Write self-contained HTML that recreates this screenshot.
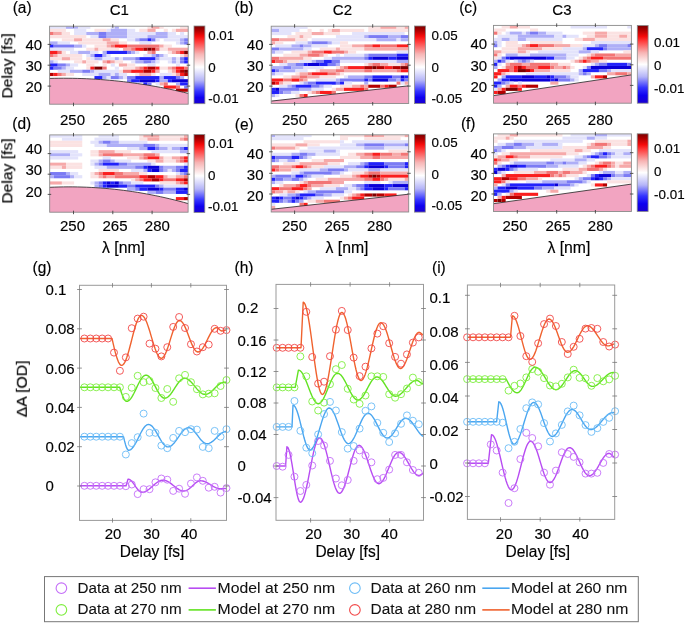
<!DOCTYPE html>
<html><head><meta charset="utf-8"><style>
html,body{margin:0;padding:0;background:#fff;}
body{width:685px;height:624px;overflow:hidden;}
svg{display:block;}
*{-webkit-font-smoothing:antialiased;}
svg text{will-change:transform;stroke:#000;stroke-width:0.16px;}
svg text.lg{stroke-width:0.08px;fill:#111;}
</style></head><body>
<svg width="685" height="624" viewBox="0 0 685 624" font-family='"Liberation Sans", sans-serif' fill="#000"><rect width="685" height="624" fill="#ffffff"/><clipPath id="hc0"><rect x="49.6" y="26.2" width="138.6" height="78.0"/></clipPath><g clip-path="url(#hc0)"><g><rect x="47.6" y="24.2" width="142.6" height="82.0" fill="#fff"/><rect x="49.60" y="26.20" width="16.31" height="2.60" fill="#e3e3fb"/><rect x="65.91" y="26.20" width="12.23" height="2.60" fill="#aeaef7"/><rect x="78.14" y="26.20" width="12.23" height="2.60" fill="#e3e3fb"/><rect x="110.75" y="26.20" width="4.08" height="2.60" fill="#e3e3fb"/><rect x="114.82" y="26.20" width="4.08" height="2.60" fill="#aeaef7"/><rect x="147.44" y="26.20" width="4.08" height="2.60" fill="#fbe2e2"/><rect x="151.51" y="26.20" width="8.15" height="2.60" fill="#f6a9a9"/><rect x="159.66" y="26.20" width="4.08" height="2.60" fill="#fbe2e2"/><rect x="180.05" y="26.20" width="8.15" height="2.60" fill="#fbe2e2"/><rect x="49.60" y="28.80" width="16.31" height="3.15" fill="#fbe2e2"/><rect x="74.06" y="28.80" width="12.23" height="3.15" fill="#e3e3fb"/><rect x="94.44" y="28.80" width="12.23" height="3.15" fill="#fbe2e2"/><rect x="106.67" y="28.80" width="4.08" height="3.15" fill="#e3e3fb"/><rect x="110.75" y="28.80" width="16.31" height="3.15" fill="#aeaef7"/><rect x="127.05" y="28.80" width="8.15" height="3.15" fill="#e3e3fb"/><rect x="139.28" y="28.80" width="8.15" height="3.15" fill="#fbe2e2"/><rect x="147.44" y="28.80" width="8.15" height="3.15" fill="#f6a9a9"/><rect x="163.74" y="28.80" width="4.08" height="3.15" fill="#fbe2e2"/><rect x="171.89" y="28.80" width="4.08" height="3.15" fill="#fbe2e2"/><rect x="175.97" y="28.80" width="12.23" height="3.15" fill="#f6a9a9"/><rect x="49.60" y="31.95" width="4.08" height="3.15" fill="#f27575"/><rect x="53.68" y="31.95" width="8.15" height="3.15" fill="#f6a9a9"/><rect x="61.83" y="31.95" width="8.15" height="3.15" fill="#fbe2e2"/><rect x="74.06" y="31.95" width="12.23" height="3.15" fill="#e3e3fb"/><rect x="86.29" y="31.95" width="12.23" height="3.15" fill="#aeaef7"/><rect x="98.52" y="31.95" width="8.15" height="3.15" fill="#7b7bf4"/><rect x="106.67" y="31.95" width="20.38" height="3.15" fill="#aeaef7"/><rect x="127.05" y="31.95" width="28.54" height="3.15" fill="#e3e3fb"/><rect x="155.59" y="31.95" width="12.23" height="3.15" fill="#aeaef7"/><rect x="167.82" y="31.95" width="8.15" height="3.15" fill="#e3e3fb"/><rect x="180.05" y="31.95" width="4.08" height="3.15" fill="#e3e3fb"/><rect x="49.60" y="35.10" width="36.69" height="3.15" fill="#fbe2e2"/><rect x="90.36" y="35.10" width="8.15" height="3.15" fill="#e3e3fb"/><rect x="98.52" y="35.10" width="8.15" height="3.15" fill="#7b7bf4"/><rect x="106.67" y="35.10" width="20.38" height="3.15" fill="#aeaef7"/><rect x="127.05" y="35.10" width="20.38" height="3.15" fill="#e3e3fb"/><rect x="147.44" y="35.10" width="20.38" height="3.15" fill="#aeaef7"/><rect x="167.82" y="35.10" width="20.38" height="3.15" fill="#e3e3fb"/><rect x="61.83" y="38.25" width="12.23" height="3.15" fill="#fbe2e2"/><rect x="74.06" y="38.25" width="8.15" height="3.15" fill="#f6a9a9"/><rect x="82.21" y="38.25" width="20.38" height="3.15" fill="#fbe2e2"/><rect x="102.59" y="38.25" width="8.15" height="3.15" fill="#f6a9a9"/><rect x="110.75" y="38.25" width="8.15" height="3.15" fill="#fbe2e2"/><rect x="127.05" y="38.25" width="8.15" height="3.15" fill="#e3e3fb"/><rect x="135.21" y="38.25" width="4.08" height="3.15" fill="#aeaef7"/><rect x="139.28" y="38.25" width="8.15" height="3.15" fill="#7b7bf4"/><rect x="147.44" y="38.25" width="4.08" height="3.15" fill="#2222fa"/><rect x="151.51" y="38.25" width="4.08" height="3.15" fill="#7b7bf4"/><rect x="155.59" y="38.25" width="4.08" height="3.15" fill="#e3e3fb"/><rect x="163.74" y="38.25" width="16.31" height="3.15" fill="#e3e3fb"/><rect x="180.05" y="38.25" width="4.08" height="3.15" fill="#aeaef7"/><rect x="184.12" y="38.25" width="4.08" height="3.15" fill="#7b7bf4"/><rect x="49.60" y="41.40" width="8.15" height="3.15" fill="#aeaef7"/><rect x="57.75" y="41.40" width="12.23" height="3.15" fill="#e3e3fb"/><rect x="78.14" y="41.40" width="28.54" height="3.15" fill="#fbe2e2"/><rect x="106.67" y="41.40" width="12.23" height="3.15" fill="#f6a9a9"/><rect x="118.90" y="41.40" width="8.15" height="3.15" fill="#fbe2e2"/><rect x="139.28" y="41.40" width="12.23" height="3.15" fill="#e3e3fb"/><rect x="175.97" y="41.40" width="4.08" height="3.15" fill="#e3e3fb"/><rect x="180.05" y="41.40" width="4.08" height="3.15" fill="#aeaef7"/><rect x="184.12" y="41.40" width="4.08" height="3.15" fill="#7b7bf4"/><rect x="49.60" y="44.55" width="4.08" height="3.15" fill="#2222fa"/><rect x="53.68" y="44.55" width="20.38" height="3.15" fill="#7b7bf4"/><rect x="74.06" y="44.55" width="8.15" height="3.15" fill="#aeaef7"/><rect x="82.21" y="44.55" width="4.08" height="3.15" fill="#e3e3fb"/><rect x="94.44" y="44.55" width="12.23" height="3.15" fill="#fbe2e2"/><rect x="106.67" y="44.55" width="4.08" height="3.15" fill="#f6a9a9"/><rect x="110.75" y="44.55" width="4.08" height="3.15" fill="#f27575"/><rect x="114.82" y="44.55" width="12.23" height="3.15" fill="#fa1e1e"/><rect x="127.05" y="44.55" width="32.61" height="3.15" fill="#f27575"/><rect x="159.66" y="44.55" width="4.08" height="3.15" fill="#f6a9a9"/><rect x="163.74" y="44.55" width="8.15" height="3.15" fill="#fbe2e2"/><rect x="49.60" y="47.70" width="24.46" height="3.15" fill="#e3e3fb"/><rect x="86.29" y="47.70" width="8.15" height="3.15" fill="#fbe2e2"/><rect x="94.44" y="47.70" width="4.08" height="3.15" fill="#f6a9a9"/><rect x="98.52" y="47.70" width="20.38" height="3.15" fill="#fbe2e2"/><rect x="122.98" y="47.70" width="8.15" height="3.15" fill="#f6a9a9"/><rect x="131.13" y="47.70" width="4.08" height="3.15" fill="#f27575"/><rect x="135.21" y="47.70" width="8.15" height="3.15" fill="#fa1e1e"/><rect x="143.36" y="47.70" width="4.08" height="3.15" fill="#b40000"/><rect x="147.44" y="47.70" width="4.08" height="3.15" fill="#7d0000"/><rect x="151.51" y="47.70" width="4.08" height="3.15" fill="#b40000"/><rect x="155.59" y="47.70" width="4.08" height="3.15" fill="#f27575"/><rect x="159.66" y="47.70" width="8.15" height="3.15" fill="#fbe2e2"/><rect x="167.82" y="47.70" width="20.38" height="3.15" fill="#f6a9a9"/><rect x="49.60" y="50.85" width="8.15" height="3.15" fill="#fa1e1e"/><rect x="57.75" y="50.85" width="4.08" height="3.15" fill="#f27575"/><rect x="61.83" y="50.85" width="4.08" height="3.15" fill="#fbe2e2"/><rect x="69.98" y="50.85" width="8.15" height="3.15" fill="#e3e3fb"/><rect x="78.14" y="50.85" width="12.23" height="3.15" fill="#aeaef7"/><rect x="90.36" y="50.85" width="8.15" height="3.15" fill="#e3e3fb"/><rect x="102.59" y="50.85" width="4.08" height="3.15" fill="#aeaef7"/><rect x="106.67" y="50.85" width="20.38" height="3.15" fill="#2222fa"/><rect x="127.05" y="50.85" width="4.08" height="3.15" fill="#7b7bf4"/><rect x="131.13" y="50.85" width="4.08" height="3.15" fill="#aeaef7"/><rect x="135.21" y="50.85" width="4.08" height="3.15" fill="#e3e3fb"/><rect x="147.44" y="50.85" width="4.08" height="3.15" fill="#f6a9a9"/><rect x="151.51" y="50.85" width="4.08" height="3.15" fill="#f27575"/><rect x="167.82" y="50.85" width="4.08" height="3.15" fill="#fbe2e2"/><rect x="171.89" y="50.85" width="4.08" height="3.15" fill="#f6a9a9"/><rect x="175.97" y="50.85" width="4.08" height="3.15" fill="#f27575"/><rect x="180.05" y="50.85" width="4.08" height="3.15" fill="#fa1e1e"/><rect x="184.12" y="50.85" width="4.08" height="3.15" fill="#7d0000"/><rect x="49.60" y="54.00" width="4.08" height="3.15" fill="#f27575"/><rect x="53.68" y="54.00" width="4.08" height="3.15" fill="#f6a9a9"/><rect x="57.75" y="54.00" width="24.46" height="3.15" fill="#fbe2e2"/><rect x="86.29" y="54.00" width="4.08" height="3.15" fill="#e3e3fb"/><rect x="90.36" y="54.00" width="4.08" height="3.15" fill="#aeaef7"/><rect x="94.44" y="54.00" width="8.15" height="3.15" fill="#2222fa"/><rect x="102.59" y="54.00" width="4.08" height="3.15" fill="#aeaef7"/><rect x="106.67" y="54.00" width="4.08" height="3.15" fill="#e3e3fb"/><rect x="143.36" y="54.00" width="8.15" height="3.15" fill="#e3e3fb"/><rect x="151.51" y="54.00" width="4.08" height="3.15" fill="#aeaef7"/><rect x="155.59" y="54.00" width="4.08" height="3.15" fill="#7b7bf4"/><rect x="159.66" y="54.00" width="4.08" height="3.15" fill="#aeaef7"/><rect x="163.74" y="54.00" width="4.08" height="3.15" fill="#e3e3fb"/><rect x="180.05" y="54.00" width="4.08" height="3.15" fill="#fbe2e2"/><rect x="184.12" y="54.00" width="4.08" height="3.15" fill="#f6a9a9"/><rect x="49.60" y="57.15" width="12.23" height="3.15" fill="#fbe2e2"/><rect x="61.83" y="57.15" width="8.15" height="3.15" fill="#f6a9a9"/><rect x="69.98" y="57.15" width="12.23" height="3.15" fill="#fbe2e2"/><rect x="86.29" y="57.15" width="4.08" height="3.15" fill="#fbe2e2"/><rect x="90.36" y="57.15" width="4.08" height="3.15" fill="#e3e3fb"/><rect x="94.44" y="57.15" width="8.15" height="3.15" fill="#aeaef7"/><rect x="102.59" y="57.15" width="12.23" height="3.15" fill="#e3e3fb"/><rect x="114.82" y="57.15" width="4.08" height="3.15" fill="#aeaef7"/><rect x="118.90" y="57.15" width="4.08" height="3.15" fill="#e3e3fb"/><rect x="122.98" y="57.15" width="12.23" height="3.15" fill="#aeaef7"/><rect x="135.21" y="57.15" width="4.08" height="3.15" fill="#7b7bf4"/><rect x="139.28" y="57.15" width="16.31" height="3.15" fill="#2222fa"/><rect x="155.59" y="57.15" width="4.08" height="3.15" fill="#aeaef7"/><rect x="159.66" y="57.15" width="12.23" height="3.15" fill="#e3e3fb"/><rect x="171.89" y="57.15" width="4.08" height="3.15" fill="#aeaef7"/><rect x="175.97" y="57.15" width="4.08" height="3.15" fill="#e3e3fb"/><rect x="180.05" y="57.15" width="4.08" height="3.15" fill="#7b7bf4"/><rect x="184.12" y="57.15" width="4.08" height="3.15" fill="#2222fa"/><rect x="49.60" y="60.30" width="4.08" height="3.15" fill="#aeaef7"/><rect x="53.68" y="60.30" width="4.08" height="3.15" fill="#e3e3fb"/><rect x="74.06" y="60.30" width="8.15" height="3.15" fill="#fbe2e2"/><rect x="82.21" y="60.30" width="4.08" height="3.15" fill="#f6a9a9"/><rect x="86.29" y="60.30" width="12.23" height="3.15" fill="#fbe2e2"/><rect x="102.59" y="60.30" width="4.08" height="3.15" fill="#f6a9a9"/><rect x="106.67" y="60.30" width="4.08" height="3.15" fill="#f27575"/><rect x="110.75" y="60.30" width="4.08" height="3.15" fill="#f6a9a9"/><rect x="114.82" y="60.30" width="8.15" height="3.15" fill="#fbe2e2"/><rect x="131.13" y="60.30" width="4.08" height="3.15" fill="#e3e3fb"/><rect x="135.21" y="60.30" width="8.15" height="3.15" fill="#aeaef7"/><rect x="143.36" y="60.30" width="8.15" height="3.15" fill="#7b7bf4"/><rect x="151.51" y="60.30" width="4.08" height="3.15" fill="#aeaef7"/><rect x="155.59" y="60.30" width="4.08" height="3.15" fill="#e3e3fb"/><rect x="167.82" y="60.30" width="4.08" height="3.15" fill="#e3e3fb"/><rect x="171.89" y="60.30" width="4.08" height="3.15" fill="#aeaef7"/><rect x="175.97" y="60.30" width="4.08" height="3.15" fill="#e3e3fb"/><rect x="180.05" y="60.30" width="4.08" height="3.15" fill="#7b7bf4"/><rect x="184.12" y="60.30" width="4.08" height="3.15" fill="#2222fa"/><rect x="49.60" y="63.45" width="8.15" height="3.15" fill="#2222fa"/><rect x="57.75" y="63.45" width="8.15" height="3.15" fill="#7b7bf4"/><rect x="65.91" y="63.45" width="4.08" height="3.15" fill="#aeaef7"/><rect x="69.98" y="63.45" width="8.15" height="3.15" fill="#e3e3fb"/><rect x="86.29" y="63.45" width="8.15" height="3.15" fill="#fbe2e2"/><rect x="102.59" y="63.45" width="4.08" height="3.15" fill="#fbe2e2"/><rect x="110.75" y="63.45" width="4.08" height="3.15" fill="#e3e3fb"/><rect x="118.90" y="63.45" width="8.15" height="3.15" fill="#f6a9a9"/><rect x="127.05" y="63.45" width="8.15" height="3.15" fill="#fbe2e2"/><rect x="147.44" y="63.45" width="8.15" height="3.15" fill="#e3e3fb"/><rect x="175.97" y="63.45" width="4.08" height="3.15" fill="#e3e3fb"/><rect x="49.60" y="66.60" width="4.08" height="3.15" fill="#2222fa"/><rect x="53.68" y="66.60" width="8.15" height="3.15" fill="#7b7bf4"/><rect x="61.83" y="66.60" width="4.08" height="3.15" fill="#aeaef7"/><rect x="65.91" y="66.60" width="8.15" height="3.15" fill="#e3e3fb"/><rect x="86.29" y="66.60" width="4.08" height="3.15" fill="#fbe2e2"/><rect x="90.36" y="66.60" width="4.08" height="3.15" fill="#fa1e1e"/><rect x="94.44" y="66.60" width="8.15" height="3.15" fill="#7d0000"/><rect x="102.59" y="66.60" width="4.08" height="3.15" fill="#f27575"/><rect x="114.82" y="66.60" width="4.08" height="3.15" fill="#e3e3fb"/><rect x="122.98" y="66.60" width="12.23" height="3.15" fill="#fbe2e2"/><rect x="135.21" y="66.60" width="4.08" height="3.15" fill="#f6a9a9"/><rect x="139.28" y="66.60" width="4.08" height="3.15" fill="#f27575"/><rect x="143.36" y="66.60" width="4.08" height="3.15" fill="#fa1e1e"/><rect x="147.44" y="66.60" width="8.15" height="3.15" fill="#b40000"/><rect x="155.59" y="66.60" width="4.08" height="3.15" fill="#fa1e1e"/><rect x="159.66" y="66.60" width="8.15" height="3.15" fill="#fbe2e2"/><rect x="167.82" y="66.60" width="4.08" height="3.15" fill="#f6a9a9"/><rect x="171.89" y="66.60" width="4.08" height="3.15" fill="#f27575"/><rect x="175.97" y="66.60" width="8.15" height="3.15" fill="#fa1e1e"/><rect x="184.12" y="66.60" width="4.08" height="3.15" fill="#f27575"/><rect x="57.75" y="69.75" width="12.23" height="3.15" fill="#e3e3fb"/><rect x="69.98" y="69.75" width="12.23" height="3.15" fill="#aeaef7"/><rect x="82.21" y="69.75" width="8.15" height="3.15" fill="#7b7bf4"/><rect x="90.36" y="69.75" width="4.08" height="3.15" fill="#aeaef7"/><rect x="94.44" y="69.75" width="24.46" height="3.15" fill="#e3e3fb"/><rect x="118.90" y="69.75" width="4.08" height="3.15" fill="#fbe2e2"/><rect x="122.98" y="69.75" width="8.15" height="3.15" fill="#f27575"/><rect x="131.13" y="69.75" width="12.23" height="3.15" fill="#fa1e1e"/><rect x="143.36" y="69.75" width="8.15" height="3.15" fill="#b40000"/><rect x="151.51" y="69.75" width="4.08" height="3.15" fill="#fa1e1e"/><rect x="155.59" y="69.75" width="4.08" height="3.15" fill="#f6a9a9"/><rect x="167.82" y="69.75" width="4.08" height="3.15" fill="#fbe2e2"/><rect x="171.89" y="69.75" width="4.08" height="3.15" fill="#f6a9a9"/><rect x="175.97" y="69.75" width="4.08" height="3.15" fill="#fa1e1e"/><rect x="180.05" y="69.75" width="4.08" height="3.15" fill="#b40000"/><rect x="184.12" y="69.75" width="4.08" height="3.15" fill="#7d0000"/><rect x="49.60" y="72.90" width="4.08" height="3.15" fill="#b40000"/><rect x="53.68" y="72.90" width="4.08" height="3.15" fill="#fa1e1e"/><rect x="57.75" y="72.90" width="4.08" height="3.15" fill="#f27575"/><rect x="61.83" y="72.90" width="4.08" height="3.15" fill="#f6a9a9"/><rect x="65.91" y="72.90" width="8.15" height="3.15" fill="#fbe2e2"/><rect x="82.21" y="72.90" width="16.31" height="3.15" fill="#e3e3fb"/><rect x="98.52" y="72.90" width="12.23" height="3.15" fill="#aeaef7"/><rect x="110.75" y="72.90" width="4.08" height="3.15" fill="#e3e3fb"/><rect x="114.82" y="72.90" width="4.08" height="3.15" fill="#aeaef7"/><rect x="118.90" y="72.90" width="8.15" height="3.15" fill="#e3e3fb"/><rect x="135.21" y="72.90" width="4.08" height="3.15" fill="#fbe2e2"/><rect x="139.28" y="72.90" width="12.23" height="3.15" fill="#f6a9a9"/><rect x="151.51" y="72.90" width="4.08" height="3.15" fill="#fbe2e2"/><rect x="159.66" y="72.90" width="12.23" height="3.15" fill="#e3e3fb"/><rect x="171.89" y="72.90" width="4.08" height="3.15" fill="#fbe2e2"/><rect x="175.97" y="72.90" width="4.08" height="3.15" fill="#f6a9a9"/><rect x="180.05" y="72.90" width="4.08" height="3.15" fill="#fa1e1e"/><rect x="184.12" y="72.90" width="4.08" height="3.15" fill="#b40000"/><rect x="94.44" y="76.05" width="8.15" height="3.15" fill="#2222fa"/><rect x="102.59" y="76.05" width="4.08" height="3.15" fill="#aeaef7"/><rect x="106.67" y="76.05" width="4.08" height="3.15" fill="#e3e3fb"/><rect x="110.75" y="76.05" width="8.15" height="3.15" fill="#7b7bf4"/><rect x="118.90" y="76.05" width="4.08" height="3.15" fill="#aeaef7"/><rect x="122.98" y="76.05" width="4.08" height="3.15" fill="#e3e3fb"/><rect x="127.05" y="76.05" width="8.15" height="3.15" fill="#7b7bf4"/><rect x="135.21" y="76.05" width="24.46" height="3.15" fill="#2222fa"/><rect x="159.66" y="76.05" width="4.08" height="3.15" fill="#aeaef7"/><rect x="163.74" y="76.05" width="12.23" height="3.15" fill="#2222fa"/><rect x="175.97" y="76.05" width="4.08" height="3.15" fill="#7b7bf4"/><rect x="180.05" y="76.05" width="4.08" height="3.15" fill="#aeaef7"/><rect x="127.05" y="79.20" width="4.08" height="3.15" fill="#7b7bf4"/><rect x="131.13" y="79.20" width="8.15" height="3.15" fill="#2222fa"/><rect x="139.28" y="79.20" width="16.31" height="3.15" fill="#0a00d8"/><rect x="155.59" y="79.20" width="4.08" height="3.15" fill="#2222fa"/><rect x="159.66" y="79.20" width="8.15" height="3.15" fill="#aeaef7"/><rect x="167.82" y="79.20" width="4.08" height="3.15" fill="#2222fa"/><rect x="171.89" y="79.20" width="16.31" height="3.15" fill="#0a00d8"/><rect x="143.36" y="82.35" width="4.08" height="3.15" fill="#2222fa"/><rect x="147.44" y="82.35" width="4.08" height="3.15" fill="#7b7bf4"/><rect x="155.59" y="82.35" width="4.08" height="3.15" fill="#e3e3fb"/><rect x="159.66" y="82.35" width="4.08" height="3.15" fill="#f6a9a9"/><rect x="163.74" y="82.35" width="4.08" height="3.15" fill="#f27575"/><rect x="175.97" y="82.35" width="4.08" height="3.15" fill="#aeaef7"/><rect x="180.05" y="82.35" width="8.15" height="3.15" fill="#2222fa"/><rect x="163.74" y="85.50" width="12.23" height="3.15" fill="#fa1e1e"/><rect x="175.97" y="85.50" width="4.08" height="3.15" fill="#f27575"/><rect x="184.12" y="85.50" width="4.08" height="3.15" fill="#7b7bf4"/><rect x="175.97" y="88.65" width="12.23" height="3.15" fill="#b40000"/></g></g><polygon points="49.60,78.43 54.22,78.32 58.84,78.26 63.46,78.23 68.08,78.25 72.70,78.31 77.32,78.41 81.94,78.55 86.56,78.73 91.18,78.96 95.80,79.23 100.42,79.54 105.04,79.89 109.66,80.29 114.28,80.72 118.90,81.20 123.52,81.72 128.14,82.28 132.76,82.89 137.38,83.53 142.00,84.22 146.62,84.95 151.24,85.72 155.86,86.54 160.48,87.39 165.10,88.29 169.72,89.23 174.34,90.21 178.96,91.24 183.58,92.30 188.20,93.41 188.2,104.2 49.6,104.2" fill="#f2a4c1" stroke="none"/><polyline points="49.60,78.43 54.22,78.32 58.84,78.26 63.46,78.23 68.08,78.25 72.70,78.31 77.32,78.41 81.94,78.55 86.56,78.73 91.18,78.96 95.80,79.23 100.42,79.54 105.04,79.89 109.66,80.29 114.28,80.72 118.90,81.20 123.52,81.72 128.14,82.28 132.76,82.89 137.38,83.53 142.00,84.22 146.62,84.95 151.24,85.72 155.86,86.54 160.48,87.39 165.10,88.29 169.72,89.23 174.34,90.21 178.96,91.24 183.58,92.30 188.20,93.41" fill="none" stroke="#222" stroke-width="0.8"/><rect x="49.6" y="26.2" width="138.6" height="78.0" fill="none" stroke="#8a8a8a" stroke-width="0.9"/><line x1="73.5" y1="24.2" x2="73.5" y2="27.7" stroke="#444" stroke-width="0.9"/><line x1="73.5" y1="102.7" x2="73.5" y2="106.2" stroke="#444" stroke-width="0.9"/><line x1="112.8" y1="24.2" x2="112.8" y2="27.7" stroke="#444" stroke-width="0.9"/><line x1="112.8" y1="102.7" x2="112.8" y2="106.2" stroke="#444" stroke-width="0.9"/><line x1="152.1" y1="24.2" x2="152.1" y2="27.7" stroke="#444" stroke-width="0.9"/><line x1="152.1" y1="102.7" x2="152.1" y2="106.2" stroke="#444" stroke-width="0.9"/><line x1="47.6" y1="44.4" x2="51.1" y2="44.4" stroke="#444" stroke-width="0.9"/><line x1="186.7" y1="44.4" x2="190.2" y2="44.4" stroke="#444" stroke-width="0.9"/><line x1="47.6" y1="65.2" x2="51.1" y2="65.2" stroke="#444" stroke-width="0.9"/><line x1="186.7" y1="65.2" x2="190.2" y2="65.2" stroke="#444" stroke-width="0.9"/><line x1="47.6" y1="86.1" x2="51.1" y2="86.1" stroke="#444" stroke-width="0.9"/><line x1="186.7" y1="86.1" x2="190.2" y2="86.1" stroke="#444" stroke-width="0.9"/><text transform="translate(72.50,124.90) scale(1,1.02)" font-size="15" text-anchor="middle" >250</text><text transform="translate(115.00,124.90) scale(1,1.02)" font-size="15" text-anchor="middle" >265</text><text transform="translate(157.30,124.90) scale(1,1.02)" font-size="15" text-anchor="middle" >280</text><text transform="translate(42.20,50.00) scale(1,1.02)" font-size="15" text-anchor="end" >40</text><text transform="translate(42.20,70.80) scale(1,1.02)" font-size="15" text-anchor="end" >30</text><text transform="translate(42.20,91.80) scale(1,1.02)" font-size="15" text-anchor="end" >20</text><linearGradient id="cb0" x1="0" y1="0" x2="0" y2="1"><stop offset="0" stop-color="#7a0000"/><stop offset="0.06" stop-color="#b00000"/><stop offset="0.13" stop-color="#f50a0a"/><stop offset="0.2" stop-color="#ff3a3a"/><stop offset="0.36" stop-color="#f7b4b4"/><stop offset="0.53" stop-color="#ffffff"/><stop offset="0.7" stop-color="#b4b4f8"/><stop offset="0.84" stop-color="#3434ff"/><stop offset="0.92" stop-color="#0e00f0"/><stop offset="1" stop-color="#1a00d0"/></linearGradient><rect x="194" y="26" width="10.900000000000006" height="77.7" fill="url(#cb0)" stroke="#8a8a8a" stroke-width="0.8"/><text transform="translate(208.20,40.40) scale(1,1.02)" font-size="13.4" text-anchor="start" >0.01</text><text transform="translate(208.20,72.10) scale(1,1.02)" font-size="13.4" text-anchor="start" >0</text><text transform="translate(208.20,103.00) scale(1,1.02)" font-size="13.4" text-anchor="start" >-0.01</text><clipPath id="hc1"><rect x="271.2" y="26.2" width="137.5" height="77.3"/></clipPath><g clip-path="url(#hc1)"><g><rect x="269.2" y="24.2" width="141.5" height="81.3" fill="#fff"/><rect x="271.20" y="26.20" width="36.40" height="2.70" fill="#e3e3fb"/><rect x="368.26" y="26.20" width="12.13" height="2.70" fill="#fbe2e2"/><rect x="380.39" y="26.20" width="16.18" height="2.70" fill="#f6a9a9"/><rect x="396.57" y="26.20" width="8.09" height="2.70" fill="#fbe2e2"/><rect x="404.66" y="26.20" width="4.04" height="2.70" fill="#f6a9a9"/><rect x="271.20" y="28.90" width="8.09" height="3.10" fill="#aeaef7"/><rect x="279.29" y="28.90" width="20.22" height="3.10" fill="#e3e3fb"/><rect x="307.60" y="28.90" width="4.04" height="3.10" fill="#fbe2e2"/><rect x="319.73" y="28.90" width="4.04" height="3.10" fill="#fbe2e2"/><rect x="327.82" y="28.90" width="4.04" height="3.10" fill="#fbe2e2"/><rect x="331.86" y="28.90" width="8.09" height="3.10" fill="#f6a9a9"/><rect x="339.95" y="28.90" width="24.26" height="3.10" fill="#fbe2e2"/><rect x="368.26" y="28.90" width="40.44" height="3.10" fill="#fbe2e2"/><rect x="271.20" y="32.00" width="20.22" height="3.10" fill="#e3e3fb"/><rect x="295.46" y="32.00" width="16.18" height="3.10" fill="#fbe2e2"/><rect x="311.64" y="32.00" width="12.13" height="3.10" fill="#f6a9a9"/><rect x="323.77" y="32.00" width="16.18" height="3.10" fill="#fbe2e2"/><rect x="352.08" y="32.00" width="52.57" height="3.10" fill="#e3e3fb"/><rect x="287.38" y="35.10" width="12.13" height="3.10" fill="#fbe2e2"/><rect x="299.51" y="35.10" width="4.04" height="3.10" fill="#f6a9a9"/><rect x="303.55" y="35.10" width="8.09" height="3.10" fill="#fbe2e2"/><rect x="335.91" y="35.10" width="28.31" height="3.10" fill="#e3e3fb"/><rect x="364.21" y="35.10" width="4.04" height="3.10" fill="#aeaef7"/><rect x="368.26" y="35.10" width="20.22" height="3.10" fill="#7b7bf4"/><rect x="388.48" y="35.10" width="12.13" height="3.10" fill="#aeaef7"/><rect x="400.61" y="35.10" width="8.09" height="3.10" fill="#7b7bf4"/><rect x="271.20" y="38.20" width="8.09" height="3.10" fill="#f27575"/><rect x="279.29" y="38.20" width="16.18" height="3.10" fill="#f6a9a9"/><rect x="295.46" y="38.20" width="12.13" height="3.10" fill="#fbe2e2"/><rect x="311.64" y="38.20" width="64.71" height="3.10" fill="#e3e3fb"/><rect x="376.35" y="38.20" width="20.22" height="3.10" fill="#aeaef7"/><rect x="396.57" y="38.20" width="4.04" height="3.10" fill="#e3e3fb"/><rect x="400.61" y="38.20" width="8.09" height="3.10" fill="#aeaef7"/><rect x="271.20" y="41.30" width="4.04" height="3.10" fill="#f6a9a9"/><rect x="275.24" y="41.30" width="8.09" height="3.10" fill="#fbe2e2"/><rect x="295.46" y="41.30" width="12.13" height="3.10" fill="#e3e3fb"/><rect x="307.60" y="41.30" width="4.04" height="3.10" fill="#aeaef7"/><rect x="311.64" y="41.30" width="16.18" height="3.10" fill="#7b7bf4"/><rect x="327.82" y="41.30" width="4.04" height="3.10" fill="#aeaef7"/><rect x="331.86" y="41.30" width="8.09" height="3.10" fill="#e3e3fb"/><rect x="339.95" y="41.30" width="8.09" height="3.10" fill="#fbe2e2"/><rect x="275.24" y="44.40" width="16.18" height="3.10" fill="#e3e3fb"/><rect x="291.42" y="44.40" width="8.09" height="3.10" fill="#aeaef7"/><rect x="299.51" y="44.40" width="4.04" height="3.10" fill="#7b7bf4"/><rect x="303.55" y="44.40" width="8.09" height="3.10" fill="#aeaef7"/><rect x="311.64" y="44.40" width="16.18" height="3.10" fill="#e3e3fb"/><rect x="339.95" y="44.40" width="12.13" height="3.10" fill="#fbe2e2"/><rect x="352.08" y="44.40" width="12.13" height="3.10" fill="#f6a9a9"/><rect x="364.21" y="44.40" width="8.09" height="3.10" fill="#f27575"/><rect x="372.30" y="44.40" width="8.09" height="3.10" fill="#fa1e1e"/><rect x="380.39" y="44.40" width="16.18" height="3.10" fill="#f27575"/><rect x="396.57" y="44.40" width="12.13" height="3.10" fill="#fa1e1e"/><rect x="271.20" y="47.50" width="8.09" height="3.10" fill="#7b7bf4"/><rect x="279.29" y="47.50" width="24.26" height="3.10" fill="#aeaef7"/><rect x="303.55" y="47.50" width="8.09" height="3.10" fill="#e3e3fb"/><rect x="319.73" y="47.50" width="16.18" height="3.10" fill="#fbe2e2"/><rect x="335.91" y="47.50" width="4.04" height="3.10" fill="#f6a9a9"/><rect x="339.95" y="47.50" width="24.26" height="3.10" fill="#fbe2e2"/><rect x="364.21" y="47.50" width="44.49" height="3.10" fill="#f6a9a9"/><rect x="271.20" y="50.60" width="4.04" height="3.10" fill="#aeaef7"/><rect x="275.24" y="50.60" width="8.09" height="3.10" fill="#e3e3fb"/><rect x="291.42" y="50.60" width="16.18" height="3.10" fill="#fbe2e2"/><rect x="307.60" y="50.60" width="4.04" height="3.10" fill="#f6a9a9"/><rect x="311.64" y="50.60" width="12.13" height="3.10" fill="#f27575"/><rect x="323.77" y="50.60" width="8.09" height="3.10" fill="#fa1e1e"/><rect x="331.86" y="50.60" width="12.13" height="3.10" fill="#f27575"/><rect x="343.99" y="50.60" width="4.04" height="3.10" fill="#f6a9a9"/><rect x="348.04" y="50.60" width="8.09" height="3.10" fill="#fbe2e2"/><rect x="396.57" y="50.60" width="12.13" height="3.10" fill="#e3e3fb"/><rect x="283.33" y="53.70" width="16.18" height="3.10" fill="#fbe2e2"/><rect x="299.51" y="53.70" width="8.09" height="3.10" fill="#f6a9a9"/><rect x="307.60" y="53.70" width="12.13" height="3.10" fill="#f27575"/><rect x="319.73" y="53.70" width="4.04" height="3.10" fill="#f6a9a9"/><rect x="323.77" y="53.70" width="4.04" height="3.10" fill="#fbe2e2"/><rect x="335.91" y="53.70" width="4.04" height="3.10" fill="#e3e3fb"/><rect x="343.99" y="53.70" width="20.22" height="3.10" fill="#e3e3fb"/><rect x="364.21" y="53.70" width="4.04" height="3.10" fill="#aeaef7"/><rect x="368.26" y="53.70" width="28.31" height="3.10" fill="#7b7bf4"/><rect x="396.57" y="53.70" width="12.13" height="3.10" fill="#2222fa"/><rect x="271.20" y="56.80" width="8.09" height="3.10" fill="#f27575"/><rect x="279.29" y="56.80" width="24.26" height="3.10" fill="#f6a9a9"/><rect x="303.55" y="56.80" width="8.09" height="3.10" fill="#fbe2e2"/><rect x="323.77" y="56.80" width="8.09" height="3.10" fill="#e3e3fb"/><rect x="331.86" y="56.80" width="32.35" height="3.10" fill="#aeaef7"/><rect x="364.21" y="56.80" width="4.04" height="3.10" fill="#7b7bf4"/><rect x="368.26" y="56.80" width="4.04" height="3.10" fill="#2222fa"/><rect x="372.30" y="56.80" width="16.18" height="3.10" fill="#0a00d8"/><rect x="388.48" y="56.80" width="8.09" height="3.10" fill="#2222fa"/><rect x="396.57" y="56.80" width="12.13" height="3.10" fill="#0a00d8"/><rect x="271.20" y="59.90" width="4.04" height="3.10" fill="#fa1e1e"/><rect x="275.24" y="59.90" width="8.09" height="3.10" fill="#f27575"/><rect x="283.33" y="59.90" width="4.04" height="3.10" fill="#f6a9a9"/><rect x="287.38" y="59.90" width="12.13" height="3.10" fill="#fbe2e2"/><rect x="299.51" y="59.90" width="12.13" height="3.10" fill="#e3e3fb"/><rect x="311.64" y="59.90" width="4.04" height="3.10" fill="#aeaef7"/><rect x="315.69" y="59.90" width="8.09" height="3.10" fill="#7b7bf4"/><rect x="323.77" y="59.90" width="8.09" height="3.10" fill="#2222fa"/><rect x="331.86" y="59.90" width="8.09" height="3.10" fill="#7b7bf4"/><rect x="339.95" y="59.90" width="56.62" height="3.10" fill="#e3e3fb"/><rect x="396.57" y="59.90" width="12.13" height="3.10" fill="#aeaef7"/><rect x="279.29" y="63.00" width="8.09" height="3.10" fill="#e3e3fb"/><rect x="287.38" y="63.00" width="8.09" height="3.10" fill="#aeaef7"/><rect x="295.46" y="63.00" width="8.09" height="3.10" fill="#7b7bf4"/><rect x="303.55" y="63.00" width="4.04" height="3.10" fill="#2222fa"/><rect x="307.60" y="63.00" width="12.13" height="3.10" fill="#0a00d8"/><rect x="319.73" y="63.00" width="8.09" height="3.10" fill="#2222fa"/><rect x="327.82" y="63.00" width="8.09" height="3.10" fill="#7b7bf4"/><rect x="335.91" y="63.00" width="4.04" height="3.10" fill="#aeaef7"/><rect x="364.21" y="63.00" width="4.04" height="3.10" fill="#fbe2e2"/><rect x="368.26" y="63.00" width="4.04" height="3.10" fill="#f6a9a9"/><rect x="372.30" y="63.00" width="8.09" height="3.10" fill="#f27575"/><rect x="380.39" y="63.00" width="8.09" height="3.10" fill="#f6a9a9"/><rect x="388.48" y="63.00" width="12.13" height="3.10" fill="#fbe2e2"/><rect x="400.61" y="63.00" width="4.04" height="3.10" fill="#f6a9a9"/><rect x="404.66" y="63.00" width="4.04" height="3.10" fill="#f27575"/><rect x="271.20" y="66.10" width="12.13" height="3.10" fill="#aeaef7"/><rect x="283.33" y="66.10" width="8.09" height="3.10" fill="#7b7bf4"/><rect x="291.42" y="66.10" width="12.13" height="3.10" fill="#aeaef7"/><rect x="303.55" y="66.10" width="20.22" height="3.10" fill="#e3e3fb"/><rect x="335.91" y="66.10" width="4.04" height="3.10" fill="#fbe2e2"/><rect x="339.95" y="66.10" width="4.04" height="3.10" fill="#f6a9a9"/><rect x="343.99" y="66.10" width="4.04" height="3.10" fill="#f27575"/><rect x="348.04" y="66.10" width="16.18" height="3.10" fill="#fa1e1e"/><rect x="364.21" y="66.10" width="8.09" height="3.10" fill="#b40000"/><rect x="372.30" y="66.10" width="4.04" height="3.10" fill="#7d0000"/><rect x="376.35" y="66.10" width="8.09" height="3.10" fill="#b40000"/><rect x="384.44" y="66.10" width="8.09" height="3.10" fill="#fa1e1e"/><rect x="392.52" y="66.10" width="8.09" height="3.10" fill="#b40000"/><rect x="400.61" y="66.10" width="8.09" height="3.10" fill="#7d0000"/><rect x="271.20" y="69.20" width="4.04" height="3.10" fill="#2222fa"/><rect x="275.24" y="69.20" width="4.04" height="3.10" fill="#7b7bf4"/><rect x="279.29" y="69.20" width="16.18" height="3.10" fill="#aeaef7"/><rect x="295.46" y="69.20" width="12.13" height="3.10" fill="#e3e3fb"/><rect x="315.69" y="69.20" width="4.04" height="3.10" fill="#fbe2e2"/><rect x="319.73" y="69.20" width="16.18" height="3.10" fill="#f6a9a9"/><rect x="335.91" y="69.20" width="8.09" height="3.10" fill="#f27575"/><rect x="343.99" y="69.20" width="20.22" height="3.10" fill="#f6a9a9"/><rect x="364.21" y="69.20" width="8.09" height="3.10" fill="#f27575"/><rect x="372.30" y="69.20" width="24.26" height="3.10" fill="#f6a9a9"/><rect x="396.57" y="69.20" width="4.04" height="3.10" fill="#f27575"/><rect x="400.61" y="69.20" width="8.09" height="3.10" fill="#fa1e1e"/><rect x="271.20" y="72.30" width="4.04" height="3.10" fill="#aeaef7"/><rect x="275.24" y="72.30" width="8.09" height="3.10" fill="#e3e3fb"/><rect x="295.46" y="72.30" width="4.04" height="3.10" fill="#fbe2e2"/><rect x="299.51" y="72.30" width="8.09" height="3.10" fill="#f6a9a9"/><rect x="307.60" y="72.30" width="4.04" height="3.10" fill="#f27575"/><rect x="311.64" y="72.30" width="16.18" height="3.10" fill="#fa1e1e"/><rect x="327.82" y="72.30" width="8.09" height="3.10" fill="#f27575"/><rect x="335.91" y="72.30" width="4.04" height="3.10" fill="#f6a9a9"/><rect x="339.95" y="72.30" width="4.04" height="3.10" fill="#fbe2e2"/><rect x="283.33" y="75.40" width="8.09" height="3.10" fill="#fbe2e2"/><rect x="291.42" y="75.40" width="8.09" height="3.10" fill="#f6a9a9"/><rect x="299.51" y="75.40" width="8.09" height="3.10" fill="#f27575"/><rect x="307.60" y="75.40" width="12.13" height="3.10" fill="#f6a9a9"/><rect x="319.73" y="75.40" width="16.18" height="3.10" fill="#fbe2e2"/><rect x="343.99" y="75.40" width="4.04" height="3.10" fill="#e3e3fb"/><rect x="348.04" y="75.40" width="16.18" height="3.10" fill="#aeaef7"/><rect x="364.21" y="75.40" width="8.09" height="3.10" fill="#7b7bf4"/><rect x="372.30" y="75.40" width="20.22" height="3.10" fill="#2222fa"/><rect x="392.52" y="75.40" width="8.09" height="3.10" fill="#7b7bf4"/><rect x="400.61" y="75.40" width="4.04" height="3.10" fill="#0a00d8"/><rect x="404.66" y="75.40" width="4.04" height="3.10" fill="#2222fa"/><rect x="271.20" y="78.50" width="12.13" height="3.10" fill="#fa1e1e"/><rect x="283.33" y="78.50" width="8.09" height="3.10" fill="#f27575"/><rect x="291.42" y="78.50" width="8.09" height="3.10" fill="#fa1e1e"/><rect x="299.51" y="78.50" width="4.04" height="3.10" fill="#f27575"/><rect x="303.55" y="78.50" width="4.04" height="3.10" fill="#f6a9a9"/><rect x="315.69" y="78.50" width="20.22" height="3.10" fill="#e3e3fb"/><rect x="335.91" y="78.50" width="4.04" height="3.10" fill="#aeaef7"/><rect x="339.95" y="78.50" width="24.26" height="3.10" fill="#7b7bf4"/><rect x="364.21" y="78.50" width="4.04" height="3.10" fill="#2222fa"/><rect x="368.26" y="78.50" width="4.04" height="3.10" fill="#7b7bf4"/><rect x="372.30" y="78.50" width="16.18" height="3.10" fill="#0a00d8"/><rect x="388.48" y="78.50" width="8.09" height="3.10" fill="#7b7bf4"/><rect x="396.57" y="78.50" width="4.04" height="3.10" fill="#aeaef7"/><rect x="400.61" y="78.50" width="4.04" height="3.10" fill="#2222fa"/><rect x="404.66" y="78.50" width="4.04" height="3.10" fill="#7b7bf4"/><rect x="271.20" y="81.60" width="4.04" height="3.10" fill="#b40000"/><rect x="275.24" y="81.60" width="4.04" height="3.10" fill="#fa1e1e"/><rect x="279.29" y="81.60" width="4.04" height="3.10" fill="#f6a9a9"/><rect x="283.33" y="81.60" width="8.09" height="3.10" fill="#fbe2e2"/><rect x="299.51" y="81.60" width="4.04" height="3.10" fill="#e3e3fb"/><rect x="303.55" y="81.60" width="4.04" height="3.10" fill="#aeaef7"/><rect x="307.60" y="81.60" width="8.09" height="3.10" fill="#7b7bf4"/><rect x="315.69" y="81.60" width="20.22" height="3.10" fill="#2222fa"/><rect x="335.91" y="81.60" width="4.04" height="3.10" fill="#7b7bf4"/><rect x="339.95" y="81.60" width="4.04" height="3.10" fill="#2222fa"/><rect x="343.99" y="81.60" width="8.09" height="3.10" fill="#e3e3fb"/><rect x="364.21" y="81.60" width="4.04" height="3.10" fill="#aeaef7"/><rect x="396.57" y="81.60" width="4.04" height="3.10" fill="#f27575"/><rect x="400.61" y="81.60" width="4.04" height="3.10" fill="#e3e3fb"/><rect x="404.66" y="81.60" width="4.04" height="3.10" fill="#f6a9a9"/><rect x="279.29" y="84.70" width="8.09" height="3.10" fill="#e3e3fb"/><rect x="287.38" y="84.70" width="4.04" height="3.10" fill="#aeaef7"/><rect x="291.42" y="84.70" width="4.04" height="3.10" fill="#7b7bf4"/><rect x="295.46" y="84.70" width="16.18" height="3.10" fill="#2222fa"/><rect x="311.64" y="84.70" width="8.09" height="3.10" fill="#7b7bf4"/><rect x="319.73" y="84.70" width="4.04" height="3.10" fill="#aeaef7"/><rect x="323.77" y="84.70" width="8.09" height="3.10" fill="#e3e3fb"/><rect x="339.95" y="84.70" width="12.13" height="3.10" fill="#fbe2e2"/><rect x="352.08" y="84.70" width="8.09" height="3.10" fill="#f6a9a9"/><rect x="360.17" y="84.70" width="4.04" height="3.10" fill="#f27575"/><rect x="364.21" y="84.70" width="4.04" height="3.10" fill="#f6a9a9"/><rect x="368.26" y="84.70" width="12.13" height="3.10" fill="#b40000"/><rect x="380.39" y="84.70" width="4.04" height="3.10" fill="#f27575"/><rect x="384.44" y="84.70" width="4.04" height="3.10" fill="#fa1e1e"/><rect x="388.48" y="84.70" width="8.09" height="3.10" fill="#b40000"/><rect x="271.20" y="87.80" width="4.04" height="3.10" fill="#2222fa"/><rect x="275.24" y="87.80" width="4.04" height="3.10" fill="#0a00d8"/><rect x="279.29" y="87.80" width="20.22" height="3.10" fill="#7b7bf4"/><rect x="299.51" y="87.80" width="12.13" height="3.10" fill="#aeaef7"/><rect x="311.64" y="87.80" width="12.13" height="3.10" fill="#e3e3fb"/><rect x="331.86" y="87.80" width="4.04" height="3.10" fill="#fbe2e2"/><rect x="335.91" y="87.80" width="8.09" height="3.10" fill="#f6a9a9"/><rect x="343.99" y="87.80" width="20.22" height="3.10" fill="#fa1e1e"/><rect x="364.21" y="87.80" width="4.04" height="3.10" fill="#f27575"/><rect x="271.20" y="90.90" width="8.09" height="3.10" fill="#2222fa"/><rect x="279.29" y="90.90" width="4.04" height="3.10" fill="#7b7bf4"/><rect x="283.33" y="90.90" width="8.09" height="3.10" fill="#aeaef7"/><rect x="291.42" y="90.90" width="8.09" height="3.10" fill="#e3e3fb"/><rect x="307.60" y="90.90" width="4.04" height="3.10" fill="#fbe2e2"/><rect x="311.64" y="90.90" width="4.04" height="3.10" fill="#f6a9a9"/><rect x="315.69" y="90.90" width="4.04" height="3.10" fill="#f27575"/><rect x="319.73" y="90.90" width="12.13" height="3.10" fill="#fa1e1e"/><rect x="331.86" y="90.90" width="4.04" height="3.10" fill="#f27575"/><rect x="271.20" y="94.00" width="4.04" height="3.10" fill="#aeaef7"/><rect x="275.24" y="94.00" width="4.04" height="3.10" fill="#e3e3fb"/><rect x="295.46" y="94.00" width="4.04" height="3.10" fill="#fbe2e2"/><rect x="299.51" y="94.00" width="4.04" height="3.10" fill="#f27575"/><rect x="303.55" y="94.00" width="4.04" height="3.10" fill="#fa1e1e"/></g></g><polygon points="271.20,101.10 408.70,85.80 408.7,103.5 271.2,103.5" fill="#f2a4c1" stroke="none"/><polyline points="271.20,101.10 408.70,85.80" fill="none" stroke="#222" stroke-width="0.8"/><rect x="271.2" y="26.2" width="137.5" height="77.3" fill="none" stroke="#8a8a8a" stroke-width="0.9"/><line x1="294.6" y1="24.2" x2="294.6" y2="27.7" stroke="#444" stroke-width="0.9"/><line x1="294.6" y1="102.0" x2="294.6" y2="105.5" stroke="#444" stroke-width="0.9"/><line x1="333.7" y1="24.2" x2="333.7" y2="27.7" stroke="#444" stroke-width="0.9"/><line x1="333.7" y1="102.0" x2="333.7" y2="105.5" stroke="#444" stroke-width="0.9"/><line x1="372.7" y1="24.2" x2="372.7" y2="27.7" stroke="#444" stroke-width="0.9"/><line x1="372.7" y1="102.0" x2="372.7" y2="105.5" stroke="#444" stroke-width="0.9"/><line x1="269.2" y1="44.4" x2="272.7" y2="44.4" stroke="#444" stroke-width="0.9"/><line x1="407.2" y1="44.4" x2="410.7" y2="44.4" stroke="#444" stroke-width="0.9"/><line x1="269.2" y1="65.2" x2="272.7" y2="65.2" stroke="#444" stroke-width="0.9"/><line x1="407.2" y1="65.2" x2="410.7" y2="65.2" stroke="#444" stroke-width="0.9"/><line x1="269.2" y1="86.1" x2="272.7" y2="86.1" stroke="#444" stroke-width="0.9"/><line x1="407.2" y1="86.1" x2="410.7" y2="86.1" stroke="#444" stroke-width="0.9"/><text transform="translate(294.50,124.90) scale(1,1.02)" font-size="15" text-anchor="middle" >250</text><text transform="translate(337.00,124.90) scale(1,1.02)" font-size="15" text-anchor="middle" >265</text><text transform="translate(379.60,124.90) scale(1,1.02)" font-size="15" text-anchor="middle" >280</text><text transform="translate(263.50,50.00) scale(1,1.02)" font-size="15" text-anchor="end" >40</text><text transform="translate(263.50,70.80) scale(1,1.02)" font-size="15" text-anchor="end" >30</text><text transform="translate(263.50,91.80) scale(1,1.02)" font-size="15" text-anchor="end" >20</text><linearGradient id="cb1" x1="0" y1="0" x2="0" y2="1"><stop offset="0" stop-color="#7a0000"/><stop offset="0.06" stop-color="#b00000"/><stop offset="0.13" stop-color="#f50a0a"/><stop offset="0.2" stop-color="#ff3a3a"/><stop offset="0.36" stop-color="#f7b4b4"/><stop offset="0.53" stop-color="#ffffff"/><stop offset="0.7" stop-color="#b4b4f8"/><stop offset="0.84" stop-color="#3434ff"/><stop offset="0.92" stop-color="#0e00f0"/><stop offset="1" stop-color="#1a00d0"/></linearGradient><rect x="414.5" y="26" width="11.0" height="77.6" fill="url(#cb1)" stroke="#8a8a8a" stroke-width="0.8"/><text transform="translate(431.60,40.30) scale(1,1.02)" font-size="13.4" text-anchor="start" >0.05</text><text transform="translate(431.60,72.00) scale(1,1.02)" font-size="13.4" text-anchor="start" >0</text><text transform="translate(431.60,103.30) scale(1,1.02)" font-size="13.4" text-anchor="start" >-0.05</text><clipPath id="hc2"><rect x="493.5" y="25.4" width="137.89999999999998" height="77.80000000000001"/></clipPath><g clip-path="url(#hc2)"><g><rect x="491.5" y="23.4" width="141.89999999999998" height="81.80000000000001" fill="#fff"/><rect x="501.61" y="25.40" width="8.11" height="3.10" fill="#fbe2e2"/><rect x="509.72" y="25.40" width="8.11" height="3.10" fill="#f6a9a9"/><rect x="517.84" y="25.40" width="12.17" height="3.10" fill="#fbe2e2"/><rect x="570.56" y="25.40" width="36.50" height="3.10" fill="#e3e3fb"/><rect x="627.34" y="25.40" width="4.06" height="3.10" fill="#e3e3fb"/><rect x="493.50" y="28.50" width="12.17" height="3.12" fill="#fbe2e2"/><rect x="530.00" y="28.50" width="8.11" height="3.12" fill="#fbe2e2"/><rect x="493.50" y="31.62" width="4.06" height="3.12" fill="#f27575"/><rect x="497.56" y="31.62" width="4.06" height="3.12" fill="#fbe2e2"/><rect x="505.67" y="31.62" width="4.06" height="3.12" fill="#e3e3fb"/><rect x="509.72" y="31.62" width="12.17" height="3.12" fill="#aeaef7"/><rect x="521.89" y="31.62" width="4.06" height="3.12" fill="#e3e3fb"/><rect x="525.95" y="31.62" width="4.06" height="3.12" fill="#aeaef7"/><rect x="530.00" y="31.62" width="8.11" height="3.12" fill="#7b7bf4"/><rect x="538.11" y="31.62" width="8.11" height="3.12" fill="#aeaef7"/><rect x="546.23" y="31.62" width="16.22" height="3.12" fill="#e3e3fb"/><rect x="582.73" y="31.62" width="12.17" height="3.12" fill="#fbe2e2"/><rect x="594.90" y="31.62" width="12.17" height="3.12" fill="#f6a9a9"/><rect x="607.06" y="31.62" width="24.34" height="3.12" fill="#fbe2e2"/><rect x="497.56" y="34.74" width="20.28" height="3.12" fill="#e3e3fb"/><rect x="517.84" y="34.74" width="36.50" height="3.12" fill="#aeaef7"/><rect x="554.34" y="34.74" width="8.11" height="3.12" fill="#e3e3fb"/><rect x="562.45" y="34.74" width="4.06" height="3.12" fill="#aeaef7"/><rect x="566.51" y="34.74" width="12.17" height="3.12" fill="#e3e3fb"/><rect x="586.79" y="34.74" width="8.11" height="3.12" fill="#fbe2e2"/><rect x="594.90" y="34.74" width="12.17" height="3.12" fill="#f6a9a9"/><rect x="607.06" y="34.74" width="12.17" height="3.12" fill="#fbe2e2"/><rect x="619.23" y="34.74" width="8.11" height="3.12" fill="#f6a9a9"/><rect x="627.34" y="34.74" width="4.06" height="3.12" fill="#fbe2e2"/><rect x="493.50" y="37.86" width="8.11" height="3.12" fill="#e3e3fb"/><rect x="501.61" y="37.86" width="8.11" height="3.12" fill="#aeaef7"/><rect x="509.72" y="37.86" width="8.11" height="3.12" fill="#e3e3fb"/><rect x="517.84" y="37.86" width="8.11" height="3.12" fill="#aeaef7"/><rect x="525.95" y="37.86" width="36.50" height="3.12" fill="#e3e3fb"/><rect x="574.62" y="37.86" width="8.11" height="3.12" fill="#fbe2e2"/><rect x="582.73" y="37.86" width="12.17" height="3.12" fill="#f6a9a9"/><rect x="594.90" y="37.86" width="36.50" height="3.12" fill="#fbe2e2"/><rect x="493.50" y="40.98" width="4.06" height="3.12" fill="#aeaef7"/><rect x="497.56" y="40.98" width="4.06" height="3.12" fill="#e3e3fb"/><rect x="505.67" y="40.98" width="12.17" height="3.12" fill="#fbe2e2"/><rect x="530.00" y="40.98" width="32.45" height="3.12" fill="#fbe2e2"/><rect x="590.84" y="40.98" width="40.56" height="3.12" fill="#e3e3fb"/><rect x="493.50" y="44.10" width="4.06" height="3.12" fill="#7b7bf4"/><rect x="497.56" y="44.10" width="4.06" height="3.12" fill="#e3e3fb"/><rect x="505.67" y="44.10" width="16.22" height="3.12" fill="#fbe2e2"/><rect x="521.89" y="44.10" width="4.06" height="3.12" fill="#f6a9a9"/><rect x="525.95" y="44.10" width="4.06" height="3.12" fill="#f27575"/><rect x="530.00" y="44.10" width="8.11" height="3.12" fill="#fa1e1e"/><rect x="538.11" y="44.10" width="16.22" height="3.12" fill="#f27575"/><rect x="554.34" y="44.10" width="16.22" height="3.12" fill="#f6a9a9"/><rect x="570.56" y="44.10" width="12.17" height="3.12" fill="#fbe2e2"/><rect x="582.73" y="44.10" width="12.17" height="3.12" fill="#e3e3fb"/><rect x="594.90" y="44.10" width="4.06" height="3.12" fill="#aeaef7"/><rect x="598.95" y="44.10" width="8.11" height="3.12" fill="#7b7bf4"/><rect x="607.06" y="44.10" width="20.28" height="3.12" fill="#aeaef7"/><rect x="627.34" y="44.10" width="4.06" height="3.12" fill="#7b7bf4"/><rect x="501.61" y="47.22" width="16.22" height="3.12" fill="#fbe2e2"/><rect x="517.84" y="47.22" width="24.34" height="3.12" fill="#f6a9a9"/><rect x="542.17" y="47.22" width="20.28" height="3.12" fill="#fbe2e2"/><rect x="562.45" y="47.22" width="20.28" height="3.12" fill="#e3e3fb"/><rect x="582.73" y="47.22" width="4.06" height="3.12" fill="#aeaef7"/><rect x="586.79" y="47.22" width="16.22" height="3.12" fill="#2222fa"/><rect x="603.01" y="47.22" width="4.06" height="3.12" fill="#7b7bf4"/><rect x="607.06" y="47.22" width="24.34" height="3.12" fill="#aeaef7"/><rect x="493.50" y="50.34" width="8.11" height="3.12" fill="#f6a9a9"/><rect x="501.61" y="50.34" width="16.22" height="3.12" fill="#fbe2e2"/><rect x="517.84" y="50.34" width="8.11" height="3.12" fill="#f6a9a9"/><rect x="525.95" y="50.34" width="4.06" height="3.12" fill="#fbe2e2"/><rect x="538.11" y="50.34" width="40.56" height="3.12" fill="#e3e3fb"/><rect x="578.67" y="50.34" width="12.17" height="3.12" fill="#aeaef7"/><rect x="590.84" y="50.34" width="8.11" height="3.12" fill="#e3e3fb"/><rect x="623.29" y="50.34" width="8.11" height="3.12" fill="#fbe2e2"/><rect x="493.50" y="53.46" width="4.06" height="3.12" fill="#f27575"/><rect x="497.56" y="53.46" width="4.06" height="3.12" fill="#fbe2e2"/><rect x="505.67" y="53.46" width="12.17" height="3.12" fill="#aeaef7"/><rect x="517.84" y="53.46" width="12.17" height="3.12" fill="#e3e3fb"/><rect x="530.00" y="53.46" width="36.50" height="3.12" fill="#aeaef7"/><rect x="566.51" y="53.46" width="12.17" height="3.12" fill="#e3e3fb"/><rect x="586.79" y="53.46" width="4.06" height="3.12" fill="#fbe2e2"/><rect x="590.84" y="53.46" width="4.06" height="3.12" fill="#f6a9a9"/><rect x="594.90" y="53.46" width="20.28" height="3.12" fill="#f27575"/><rect x="615.18" y="53.46" width="16.22" height="3.12" fill="#f6a9a9"/><rect x="493.50" y="56.58" width="4.06" height="3.12" fill="#fbe2e2"/><rect x="497.56" y="56.58" width="4.06" height="3.12" fill="#e3e3fb"/><rect x="501.61" y="56.58" width="4.06" height="3.12" fill="#7b7bf4"/><rect x="505.67" y="56.58" width="4.06" height="3.12" fill="#2222fa"/><rect x="509.72" y="56.58" width="36.50" height="3.12" fill="#0a00d8"/><rect x="546.23" y="56.58" width="8.11" height="3.12" fill="#2222fa"/><rect x="554.34" y="56.58" width="12.17" height="3.12" fill="#aeaef7"/><rect x="566.51" y="56.58" width="8.11" height="3.12" fill="#e3e3fb"/><rect x="578.67" y="56.58" width="4.06" height="3.12" fill="#fbe2e2"/><rect x="582.73" y="56.58" width="4.06" height="3.12" fill="#f6a9a9"/><rect x="586.79" y="56.58" width="4.06" height="3.12" fill="#f27575"/><rect x="590.84" y="56.58" width="12.17" height="3.12" fill="#fa1e1e"/><rect x="603.01" y="56.58" width="28.39" height="3.12" fill="#f27575"/><rect x="493.50" y="59.70" width="4.06" height="3.12" fill="#aeaef7"/><rect x="497.56" y="59.70" width="4.06" height="3.12" fill="#2222fa"/><rect x="501.61" y="59.70" width="4.06" height="3.12" fill="#7b7bf4"/><rect x="505.67" y="59.70" width="4.06" height="3.12" fill="#e3e3fb"/><rect x="513.78" y="59.70" width="4.06" height="3.12" fill="#e3e3fb"/><rect x="517.84" y="59.70" width="4.06" height="3.12" fill="#aeaef7"/><rect x="521.89" y="59.70" width="4.06" height="3.12" fill="#7b7bf4"/><rect x="525.95" y="59.70" width="4.06" height="3.12" fill="#aeaef7"/><rect x="530.00" y="59.70" width="4.06" height="3.12" fill="#e3e3fb"/><rect x="570.56" y="59.70" width="4.06" height="3.12" fill="#fbe2e2"/><rect x="574.62" y="59.70" width="4.06" height="3.12" fill="#f6a9a9"/><rect x="578.67" y="59.70" width="4.06" height="3.12" fill="#f27575"/><rect x="582.73" y="59.70" width="4.06" height="3.12" fill="#fa1e1e"/><rect x="586.79" y="59.70" width="4.06" height="3.12" fill="#f27575"/><rect x="590.84" y="59.70" width="8.11" height="3.12" fill="#f6a9a9"/><rect x="598.95" y="59.70" width="8.11" height="3.12" fill="#fbe2e2"/><rect x="493.50" y="62.82" width="4.06" height="3.12" fill="#2222fa"/><rect x="497.56" y="62.82" width="4.06" height="3.12" fill="#e3e3fb"/><rect x="505.67" y="62.82" width="4.06" height="3.12" fill="#f6a9a9"/><rect x="509.72" y="62.82" width="12.17" height="3.12" fill="#f27575"/><rect x="521.89" y="62.82" width="8.11" height="3.12" fill="#f6a9a9"/><rect x="530.00" y="62.82" width="20.28" height="3.12" fill="#f27575"/><rect x="550.28" y="62.82" width="8.11" height="3.12" fill="#f6a9a9"/><rect x="558.39" y="62.82" width="12.17" height="3.12" fill="#fbe2e2"/><rect x="590.84" y="62.82" width="4.06" height="3.12" fill="#e3e3fb"/><rect x="594.90" y="62.82" width="4.06" height="3.12" fill="#aeaef7"/><rect x="598.95" y="62.82" width="8.11" height="3.12" fill="#7b7bf4"/><rect x="607.06" y="62.82" width="20.28" height="3.12" fill="#2222fa"/><rect x="627.34" y="62.82" width="4.06" height="3.12" fill="#7b7bf4"/><rect x="493.50" y="65.94" width="4.06" height="3.12" fill="#aeaef7"/><rect x="501.61" y="65.94" width="4.06" height="3.12" fill="#fbe2e2"/><rect x="505.67" y="65.94" width="8.11" height="3.12" fill="#f27575"/><rect x="513.78" y="65.94" width="4.06" height="3.12" fill="#fa1e1e"/><rect x="517.84" y="65.94" width="4.06" height="3.12" fill="#b40000"/><rect x="521.89" y="65.94" width="4.06" height="3.12" fill="#fa1e1e"/><rect x="525.95" y="65.94" width="12.17" height="3.12" fill="#f27575"/><rect x="538.11" y="65.94" width="12.17" height="3.12" fill="#fa1e1e"/><rect x="550.28" y="65.94" width="4.06" height="3.12" fill="#f27575"/><rect x="554.34" y="65.94" width="8.11" height="3.12" fill="#f6a9a9"/><rect x="562.45" y="65.94" width="4.06" height="3.12" fill="#f27575"/><rect x="566.51" y="65.94" width="4.06" height="3.12" fill="#f6a9a9"/><rect x="570.56" y="65.94" width="4.06" height="3.12" fill="#fbe2e2"/><rect x="582.73" y="65.94" width="4.06" height="3.12" fill="#e3e3fb"/><rect x="586.79" y="65.94" width="4.06" height="3.12" fill="#7b7bf4"/><rect x="590.84" y="65.94" width="40.56" height="3.12" fill="#0a00d8"/><rect x="497.56" y="69.06" width="12.17" height="3.12" fill="#fa1e1e"/><rect x="509.72" y="69.06" width="4.06" height="3.12" fill="#f27575"/><rect x="513.78" y="69.06" width="4.06" height="3.12" fill="#fa1e1e"/><rect x="517.84" y="69.06" width="8.11" height="3.12" fill="#7d0000"/><rect x="525.95" y="69.06" width="4.06" height="3.12" fill="#b40000"/><rect x="530.00" y="69.06" width="4.06" height="3.12" fill="#fa1e1e"/><rect x="534.06" y="69.06" width="16.22" height="3.12" fill="#f6a9a9"/><rect x="550.28" y="69.06" width="20.28" height="3.12" fill="#fbe2e2"/><rect x="578.67" y="69.06" width="4.06" height="3.12" fill="#aeaef7"/><rect x="582.73" y="69.06" width="16.22" height="3.12" fill="#2222fa"/><rect x="598.95" y="69.06" width="8.11" height="3.12" fill="#7b7bf4"/><rect x="607.06" y="69.06" width="4.06" height="3.12" fill="#aeaef7"/><rect x="611.12" y="69.06" width="20.28" height="3.12" fill="#e3e3fb"/><rect x="493.50" y="72.18" width="8.11" height="3.12" fill="#fa1e1e"/><rect x="501.61" y="72.18" width="4.06" height="3.12" fill="#f6a9a9"/><rect x="505.67" y="72.18" width="4.06" height="3.12" fill="#fbe2e2"/><rect x="525.95" y="72.18" width="52.73" height="3.12" fill="#e3e3fb"/><rect x="578.67" y="72.18" width="4.06" height="3.12" fill="#aeaef7"/><rect x="582.73" y="72.18" width="4.06" height="3.12" fill="#7b7bf4"/><rect x="586.79" y="72.18" width="4.06" height="3.12" fill="#aeaef7"/><rect x="607.06" y="72.18" width="8.11" height="3.12" fill="#f6a9a9"/><rect x="615.18" y="72.18" width="12.17" height="3.12" fill="#f27575"/><rect x="627.34" y="72.18" width="4.06" height="3.12" fill="#f6a9a9"/><rect x="493.50" y="75.30" width="4.06" height="3.12" fill="#fa1e1e"/><rect x="501.61" y="75.30" width="4.06" height="3.12" fill="#aeaef7"/><rect x="505.67" y="75.30" width="16.22" height="3.12" fill="#2222fa"/><rect x="521.89" y="75.30" width="12.17" height="3.12" fill="#0a00d8"/><rect x="534.06" y="75.30" width="12.17" height="3.12" fill="#2222fa"/><rect x="546.23" y="75.30" width="4.06" height="3.12" fill="#0a00d8"/><rect x="550.28" y="75.30" width="4.06" height="3.12" fill="#2222fa"/><rect x="554.34" y="75.30" width="12.17" height="3.12" fill="#7b7bf4"/><rect x="566.51" y="75.30" width="4.06" height="3.12" fill="#aeaef7"/><rect x="570.56" y="75.30" width="8.11" height="3.12" fill="#e3e3fb"/><rect x="590.84" y="75.30" width="4.06" height="3.12" fill="#f6a9a9"/><rect x="594.90" y="75.30" width="8.11" height="3.12" fill="#fa1e1e"/><rect x="603.01" y="75.30" width="4.06" height="3.12" fill="#b40000"/><rect x="497.56" y="78.42" width="4.06" height="3.12" fill="#aeaef7"/><rect x="501.61" y="78.42" width="8.11" height="3.12" fill="#2222fa"/><rect x="509.72" y="78.42" width="40.56" height="3.12" fill="#0a00d8"/><rect x="550.28" y="78.42" width="4.06" height="3.12" fill="#2222fa"/><rect x="554.34" y="78.42" width="4.06" height="3.12" fill="#0a00d8"/><rect x="558.39" y="78.42" width="12.17" height="3.12" fill="#7b7bf4"/><rect x="570.56" y="78.42" width="4.06" height="3.12" fill="#aeaef7"/><rect x="574.62" y="78.42" width="4.06" height="3.12" fill="#e3e3fb"/><rect x="493.50" y="81.54" width="8.11" height="3.12" fill="#2222fa"/><rect x="501.61" y="81.54" width="4.06" height="3.12" fill="#7b7bf4"/><rect x="505.67" y="81.54" width="4.06" height="3.12" fill="#aeaef7"/><rect x="509.72" y="81.54" width="4.06" height="3.12" fill="#e3e3fb"/><rect x="517.84" y="81.54" width="4.06" height="3.12" fill="#e3e3fb"/><rect x="550.28" y="81.54" width="8.11" height="3.12" fill="#f6a9a9"/><rect x="493.50" y="84.66" width="4.06" height="3.12" fill="#2222fa"/><rect x="497.56" y="84.66" width="4.06" height="3.12" fill="#aeaef7"/><rect x="505.67" y="84.66" width="4.06" height="3.12" fill="#f6a9a9"/><rect x="509.72" y="84.66" width="8.11" height="3.12" fill="#fa1e1e"/><rect x="517.84" y="84.66" width="4.06" height="3.12" fill="#f27575"/><rect x="521.89" y="84.66" width="4.06" height="3.12" fill="#fa1e1e"/><rect x="525.95" y="84.66" width="12.17" height="3.12" fill="#b40000"/><rect x="493.50" y="87.78" width="4.06" height="3.12" fill="#e3e3fb"/><rect x="497.56" y="87.78" width="4.06" height="3.12" fill="#f6a9a9"/><rect x="501.61" y="87.78" width="4.06" height="3.12" fill="#fa1e1e"/><rect x="505.67" y="87.78" width="12.17" height="3.12" fill="#7d0000"/><rect x="517.84" y="87.78" width="4.06" height="3.12" fill="#fa1e1e"/><rect x="493.50" y="90.90" width="4.06" height="3.12" fill="#fa1e1e"/><rect x="497.56" y="90.90" width="8.11" height="3.12" fill="#b40000"/></g></g><polygon points="493.50,95.60 631.40,74.90 631.4,103.2 493.5,103.2" fill="#f2a4c1" stroke="none"/><polyline points="493.50,95.60 631.40,74.90" fill="none" stroke="#222" stroke-width="0.8"/><rect x="493.5" y="25.4" width="137.89999999999998" height="77.80000000000001" fill="none" stroke="#8a8a8a" stroke-width="0.9"/><line x1="517.3" y1="23.4" x2="517.3" y2="26.9" stroke="#444" stroke-width="0.9"/><line x1="517.3" y1="101.7" x2="517.3" y2="105.2" stroke="#444" stroke-width="0.9"/><line x1="556.7" y1="23.4" x2="556.7" y2="26.9" stroke="#444" stroke-width="0.9"/><line x1="556.7" y1="101.7" x2="556.7" y2="105.2" stroke="#444" stroke-width="0.9"/><line x1="595.4" y1="23.4" x2="595.4" y2="26.9" stroke="#444" stroke-width="0.9"/><line x1="595.4" y1="101.7" x2="595.4" y2="105.2" stroke="#444" stroke-width="0.9"/><line x1="491.5" y1="44.1" x2="495.0" y2="44.1" stroke="#444" stroke-width="0.9"/><line x1="629.9" y1="44.1" x2="633.4" y2="44.1" stroke="#444" stroke-width="0.9"/><line x1="491.5" y1="64.8" x2="495.0" y2="64.8" stroke="#444" stroke-width="0.9"/><line x1="629.9" y1="64.8" x2="633.4" y2="64.8" stroke="#444" stroke-width="0.9"/><line x1="491.5" y1="85.4" x2="495.0" y2="85.4" stroke="#444" stroke-width="0.9"/><line x1="629.9" y1="85.4" x2="633.4" y2="85.4" stroke="#444" stroke-width="0.9"/><text transform="translate(515.00,124.90) scale(1,1.02)" font-size="15" text-anchor="middle" >250</text><text transform="translate(558.00,124.90) scale(1,1.02)" font-size="15" text-anchor="middle" >265</text><text transform="translate(600.30,124.90) scale(1,1.02)" font-size="15" text-anchor="middle" >280</text><text transform="translate(487.20,49.30) scale(1,1.02)" font-size="15" text-anchor="end" >40</text><text transform="translate(487.20,70.80) scale(1,1.02)" font-size="15" text-anchor="end" >30</text><text transform="translate(487.20,92.20) scale(1,1.02)" font-size="15" text-anchor="end" >20</text><linearGradient id="cb2" x1="0" y1="0" x2="0" y2="1"><stop offset="0" stop-color="#7a0000"/><stop offset="0.06" stop-color="#b00000"/><stop offset="0.14" stop-color="#f50a0a"/><stop offset="0.2" stop-color="#ff3a3a"/><stop offset="0.35" stop-color="#f7b4b4"/><stop offset="0.5" stop-color="#ffffff"/><stop offset="0.66" stop-color="#b4b4f8"/><stop offset="0.8" stop-color="#3434ff"/><stop offset="0.9" stop-color="#0e00f0"/><stop offset="1" stop-color="#1a00d0"/></linearGradient><rect x="637.3" y="25.5" width="10.800000000000068" height="77.7" fill="url(#cb2)" stroke="#8a8a8a" stroke-width="0.8"/><text transform="translate(654.00,46.80) scale(1,1.02)" font-size="13.4" text-anchor="start" >0.01</text><text transform="translate(654.00,69.60) scale(1,1.02)" font-size="13.4" text-anchor="start" >0</text><text transform="translate(654.00,92.80) scale(1,1.02)" font-size="13.4" text-anchor="start" >-0.01</text><clipPath id="hc3"><rect x="49.7" y="134.9" width="138.39999999999998" height="77.29999999999998"/></clipPath><g clip-path="url(#hc3)"><g><rect x="47.7" y="132.9" width="142.39999999999998" height="81.29999999999998" fill="#fff"/><rect x="49.70" y="134.90" width="32.56" height="2.70" fill="#e3e3fb"/><rect x="98.55" y="134.90" width="20.35" height="2.70" fill="#e3e3fb"/><rect x="139.25" y="134.90" width="4.07" height="2.70" fill="#fbe2e2"/><rect x="143.32" y="134.90" width="16.28" height="2.70" fill="#f6a9a9"/><rect x="159.61" y="134.90" width="24.42" height="2.70" fill="#fbe2e2"/><rect x="184.03" y="134.90" width="4.07" height="2.70" fill="#f6a9a9"/><rect x="61.91" y="137.60" width="20.35" height="3.13" fill="#e3e3fb"/><rect x="94.48" y="137.60" width="24.42" height="3.13" fill="#e3e3fb"/><rect x="139.25" y="137.60" width="8.14" height="3.13" fill="#fbe2e2"/><rect x="147.39" y="137.60" width="12.21" height="3.13" fill="#f6a9a9"/><rect x="159.61" y="137.60" width="20.35" height="3.13" fill="#fbe2e2"/><rect x="179.96" y="137.60" width="4.07" height="3.13" fill="#f6a9a9"/><rect x="184.03" y="137.60" width="4.07" height="3.13" fill="#f27575"/><rect x="49.70" y="140.73" width="32.56" height="3.13" fill="#fbe2e2"/><rect x="90.41" y="140.73" width="8.14" height="3.13" fill="#e3e3fb"/><rect x="98.55" y="140.73" width="4.07" height="3.13" fill="#aeaef7"/><rect x="102.62" y="140.73" width="8.14" height="3.13" fill="#7b7bf4"/><rect x="110.76" y="140.73" width="8.14" height="3.13" fill="#aeaef7"/><rect x="118.90" y="140.73" width="28.49" height="3.13" fill="#e3e3fb"/><rect x="49.70" y="143.86" width="32.56" height="3.13" fill="#fbe2e2"/><rect x="94.48" y="143.86" width="12.21" height="3.13" fill="#e3e3fb"/><rect x="106.69" y="143.86" width="36.64" height="3.13" fill="#aeaef7"/><rect x="143.32" y="143.86" width="12.21" height="3.13" fill="#7b7bf4"/><rect x="155.54" y="143.86" width="4.07" height="3.13" fill="#aeaef7"/><rect x="159.61" y="143.86" width="28.49" height="3.13" fill="#e3e3fb"/><rect x="127.04" y="146.99" width="12.21" height="3.13" fill="#e3e3fb"/><rect x="139.25" y="146.99" width="8.14" height="3.13" fill="#aeaef7"/><rect x="147.39" y="146.99" width="8.14" height="3.13" fill="#2222fa"/><rect x="155.54" y="146.99" width="4.07" height="3.13" fill="#7b7bf4"/><rect x="159.61" y="146.99" width="8.14" height="3.13" fill="#aeaef7"/><rect x="167.75" y="146.99" width="4.07" height="3.13" fill="#e3e3fb"/><rect x="171.82" y="146.99" width="8.14" height="3.13" fill="#aeaef7"/><rect x="179.96" y="146.99" width="4.07" height="3.13" fill="#7b7bf4"/><rect x="184.03" y="146.99" width="4.07" height="3.13" fill="#2222fa"/><rect x="49.70" y="150.12" width="28.49" height="3.13" fill="#e3e3fb"/><rect x="90.41" y="150.12" width="8.14" height="3.13" fill="#fbe2e2"/><rect x="98.55" y="150.12" width="16.28" height="3.13" fill="#f6a9a9"/><rect x="114.83" y="150.12" width="16.28" height="3.13" fill="#fbe2e2"/><rect x="151.46" y="150.12" width="28.49" height="3.13" fill="#e3e3fb"/><rect x="179.96" y="150.12" width="8.14" height="3.13" fill="#aeaef7"/><rect x="49.70" y="153.25" width="20.35" height="3.13" fill="#aeaef7"/><rect x="70.05" y="153.25" width="12.21" height="3.13" fill="#e3e3fb"/><rect x="90.41" y="153.25" width="8.14" height="3.13" fill="#fbe2e2"/><rect x="98.55" y="153.25" width="4.07" height="3.13" fill="#f6a9a9"/><rect x="102.62" y="153.25" width="20.35" height="3.13" fill="#f27575"/><rect x="122.97" y="153.25" width="20.35" height="3.13" fill="#f6a9a9"/><rect x="143.32" y="153.25" width="12.21" height="3.13" fill="#f27575"/><rect x="155.54" y="153.25" width="4.07" height="3.13" fill="#f6a9a9"/><rect x="49.70" y="156.38" width="28.49" height="3.13" fill="#e3e3fb"/><rect x="102.62" y="156.38" width="8.14" height="3.13" fill="#e3e3fb"/><rect x="127.04" y="156.38" width="12.21" height="3.13" fill="#fbe2e2"/><rect x="139.25" y="156.38" width="4.07" height="3.13" fill="#f6a9a9"/><rect x="143.32" y="156.38" width="4.07" height="3.13" fill="#f27575"/><rect x="147.39" y="156.38" width="12.21" height="3.13" fill="#fa1e1e"/><rect x="159.61" y="156.38" width="4.07" height="3.13" fill="#f6a9a9"/><rect x="163.68" y="156.38" width="8.14" height="3.13" fill="#fbe2e2"/><rect x="171.82" y="156.38" width="8.14" height="3.13" fill="#f6a9a9"/><rect x="179.96" y="156.38" width="4.07" height="3.13" fill="#f27575"/><rect x="184.03" y="156.38" width="4.07" height="3.13" fill="#fa1e1e"/><rect x="90.41" y="159.51" width="8.14" height="3.13" fill="#e3e3fb"/><rect x="98.55" y="159.51" width="4.07" height="3.13" fill="#aeaef7"/><rect x="102.62" y="159.51" width="8.14" height="3.13" fill="#7b7bf4"/><rect x="110.76" y="159.51" width="4.07" height="3.13" fill="#aeaef7"/><rect x="114.83" y="159.51" width="16.28" height="3.13" fill="#e3e3fb"/><rect x="147.39" y="159.51" width="8.14" height="3.13" fill="#fbe2e2"/><rect x="155.54" y="159.51" width="8.14" height="3.13" fill="#f6a9a9"/><rect x="163.68" y="159.51" width="12.21" height="3.13" fill="#fbe2e2"/><rect x="175.89" y="159.51" width="4.07" height="3.13" fill="#f6a9a9"/><rect x="179.96" y="159.51" width="4.07" height="3.13" fill="#f27575"/><rect x="184.03" y="159.51" width="4.07" height="3.13" fill="#fa1e1e"/><rect x="49.70" y="162.64" width="16.28" height="3.13" fill="#f6a9a9"/><rect x="65.98" y="162.64" width="16.28" height="3.13" fill="#fbe2e2"/><rect x="90.41" y="162.64" width="4.07" height="3.13" fill="#e3e3fb"/><rect x="94.48" y="162.64" width="4.07" height="3.13" fill="#aeaef7"/><rect x="98.55" y="162.64" width="4.07" height="3.13" fill="#7b7bf4"/><rect x="102.62" y="162.64" width="16.28" height="3.13" fill="#2222fa"/><rect x="118.90" y="162.64" width="8.14" height="3.13" fill="#7b7bf4"/><rect x="127.04" y="162.64" width="24.42" height="3.13" fill="#aeaef7"/><rect x="151.46" y="162.64" width="4.07" height="3.13" fill="#e3e3fb"/><rect x="184.03" y="162.64" width="4.07" height="3.13" fill="#e3e3fb"/><rect x="49.70" y="165.77" width="12.21" height="3.13" fill="#fbe2e2"/><rect x="61.91" y="165.77" width="4.07" height="3.13" fill="#f6a9a9"/><rect x="65.98" y="165.77" width="16.28" height="3.13" fill="#fbe2e2"/><rect x="94.48" y="165.77" width="12.21" height="3.13" fill="#e3e3fb"/><rect x="106.69" y="165.77" width="28.49" height="3.13" fill="#aeaef7"/><rect x="135.18" y="165.77" width="8.14" height="3.13" fill="#7b7bf4"/><rect x="143.32" y="165.77" width="4.07" height="3.13" fill="#2222fa"/><rect x="147.39" y="165.77" width="12.21" height="3.13" fill="#0a00d8"/><rect x="159.61" y="165.77" width="4.07" height="3.13" fill="#7b7bf4"/><rect x="163.68" y="165.77" width="12.21" height="3.13" fill="#aeaef7"/><rect x="175.89" y="165.77" width="8.14" height="3.13" fill="#7b7bf4"/><rect x="184.03" y="165.77" width="4.07" height="3.13" fill="#2222fa"/><rect x="98.55" y="168.90" width="20.35" height="3.13" fill="#fbe2e2"/><rect x="131.11" y="168.90" width="12.21" height="3.13" fill="#e3e3fb"/><rect x="143.32" y="168.90" width="4.07" height="3.13" fill="#aeaef7"/><rect x="147.39" y="168.90" width="4.07" height="3.13" fill="#2222fa"/><rect x="151.46" y="168.90" width="8.14" height="3.13" fill="#0a00d8"/><rect x="159.61" y="168.90" width="4.07" height="3.13" fill="#7b7bf4"/><rect x="163.68" y="168.90" width="4.07" height="3.13" fill="#aeaef7"/><rect x="167.75" y="168.90" width="4.07" height="3.13" fill="#e3e3fb"/><rect x="171.82" y="168.90" width="4.07" height="3.13" fill="#aeaef7"/><rect x="175.89" y="168.90" width="4.07" height="3.13" fill="#7b7bf4"/><rect x="179.96" y="168.90" width="8.14" height="3.13" fill="#2222fa"/><rect x="49.70" y="172.03" width="16.28" height="3.13" fill="#7b7bf4"/><rect x="65.98" y="172.03" width="4.07" height="3.13" fill="#aeaef7"/><rect x="70.05" y="172.03" width="8.14" height="3.13" fill="#e3e3fb"/><rect x="90.41" y="172.03" width="4.07" height="3.13" fill="#fbe2e2"/><rect x="94.48" y="172.03" width="4.07" height="3.13" fill="#f6a9a9"/><rect x="98.55" y="172.03" width="4.07" height="3.13" fill="#f27575"/><rect x="102.62" y="172.03" width="12.21" height="3.13" fill="#fa1e1e"/><rect x="114.83" y="172.03" width="8.14" height="3.13" fill="#f27575"/><rect x="122.97" y="172.03" width="16.28" height="3.13" fill="#f6a9a9"/><rect x="139.25" y="172.03" width="8.14" height="3.13" fill="#fbe2e2"/><rect x="175.89" y="172.03" width="4.07" height="3.13" fill="#e3e3fb"/><rect x="179.96" y="172.03" width="4.07" height="3.13" fill="#aeaef7"/><rect x="184.03" y="172.03" width="4.07" height="3.13" fill="#7b7bf4"/><rect x="49.70" y="175.16" width="4.07" height="3.13" fill="#aeaef7"/><rect x="53.77" y="175.16" width="16.28" height="3.13" fill="#7b7bf4"/><rect x="70.05" y="175.16" width="4.07" height="3.13" fill="#aeaef7"/><rect x="74.12" y="175.16" width="8.14" height="3.13" fill="#e3e3fb"/><rect x="90.41" y="175.16" width="8.14" height="3.13" fill="#fbe2e2"/><rect x="98.55" y="175.16" width="4.07" height="3.13" fill="#f6a9a9"/><rect x="102.62" y="175.16" width="4.07" height="3.13" fill="#f27575"/><rect x="106.69" y="175.16" width="8.14" height="3.13" fill="#f6a9a9"/><rect x="114.83" y="175.16" width="24.42" height="3.13" fill="#f27575"/><rect x="139.25" y="175.16" width="8.14" height="3.13" fill="#fa1e1e"/><rect x="147.39" y="175.16" width="8.14" height="3.13" fill="#b40000"/><rect x="155.54" y="175.16" width="8.14" height="3.13" fill="#fa1e1e"/><rect x="163.68" y="175.16" width="4.07" height="3.13" fill="#f6a9a9"/><rect x="167.75" y="175.16" width="8.14" height="3.13" fill="#fbe2e2"/><rect x="175.89" y="175.16" width="8.14" height="3.13" fill="#f6a9a9"/><rect x="184.03" y="175.16" width="4.07" height="3.13" fill="#f27575"/><rect x="131.11" y="178.29" width="4.07" height="3.13" fill="#fbe2e2"/><rect x="135.18" y="178.29" width="4.07" height="3.13" fill="#f6a9a9"/><rect x="139.25" y="178.29" width="4.07" height="3.13" fill="#f27575"/><rect x="143.32" y="178.29" width="8.14" height="3.13" fill="#fa1e1e"/><rect x="151.46" y="178.29" width="8.14" height="3.13" fill="#b40000"/><rect x="159.61" y="178.29" width="4.07" height="3.13" fill="#fa1e1e"/><rect x="163.68" y="178.29" width="12.21" height="3.13" fill="#f27575"/><rect x="175.89" y="178.29" width="8.14" height="3.13" fill="#fa1e1e"/><rect x="184.03" y="178.29" width="4.07" height="3.13" fill="#b40000"/><rect x="49.70" y="181.42" width="12.21" height="3.13" fill="#f6a9a9"/><rect x="61.91" y="181.42" width="12.21" height="3.13" fill="#fbe2e2"/><rect x="90.41" y="181.42" width="4.07" height="3.13" fill="#e3e3fb"/><rect x="94.48" y="181.42" width="4.07" height="3.13" fill="#aeaef7"/><rect x="98.55" y="181.42" width="4.07" height="3.13" fill="#7b7bf4"/><rect x="102.62" y="181.42" width="4.07" height="3.13" fill="#2222fa"/><rect x="106.69" y="181.42" width="4.07" height="3.13" fill="#0a00d8"/><rect x="110.76" y="181.42" width="4.07" height="3.13" fill="#2222fa"/><rect x="114.83" y="181.42" width="4.07" height="3.13" fill="#0a00d8"/><rect x="118.90" y="181.42" width="4.07" height="3.13" fill="#7b7bf4"/><rect x="122.97" y="181.42" width="8.14" height="3.13" fill="#aeaef7"/><rect x="131.11" y="181.42" width="12.21" height="3.13" fill="#e3e3fb"/><rect x="159.61" y="181.42" width="16.28" height="3.13" fill="#fbe2e2"/><rect x="175.89" y="181.42" width="4.07" height="3.13" fill="#f6a9a9"/><rect x="179.96" y="181.42" width="4.07" height="3.13" fill="#f27575"/><rect x="184.03" y="181.42" width="4.07" height="3.13" fill="#fa1e1e"/><rect x="94.48" y="184.55" width="4.07" height="3.13" fill="#aeaef7"/><rect x="98.55" y="184.55" width="4.07" height="3.13" fill="#7b7bf4"/><rect x="102.62" y="184.55" width="4.07" height="3.13" fill="#2222fa"/><rect x="106.69" y="184.55" width="12.21" height="3.13" fill="#0a00d8"/><rect x="118.90" y="184.55" width="8.14" height="3.13" fill="#2222fa"/><rect x="127.04" y="184.55" width="8.14" height="3.13" fill="#7b7bf4"/><rect x="135.18" y="184.55" width="20.35" height="3.13" fill="#2222fa"/><rect x="155.54" y="184.55" width="4.07" height="3.13" fill="#7b7bf4"/><rect x="159.61" y="184.55" width="4.07" height="3.13" fill="#aeaef7"/><rect x="163.68" y="184.55" width="24.42" height="3.13" fill="#e3e3fb"/><rect x="127.04" y="187.68" width="8.14" height="3.13" fill="#aeaef7"/><rect x="135.18" y="187.68" width="4.07" height="3.13" fill="#7b7bf4"/><rect x="139.25" y="187.68" width="8.14" height="3.13" fill="#2222fa"/><rect x="147.39" y="187.68" width="12.21" height="3.13" fill="#0a00d8"/><rect x="159.61" y="187.68" width="4.07" height="3.13" fill="#2222fa"/><rect x="163.68" y="187.68" width="12.21" height="3.13" fill="#7b7bf4"/><rect x="175.89" y="187.68" width="8.14" height="3.13" fill="#2222fa"/><rect x="184.03" y="187.68" width="4.07" height="3.13" fill="#0a00d8"/><rect x="147.39" y="190.81" width="8.14" height="3.13" fill="#aeaef7"/><rect x="155.54" y="190.81" width="8.14" height="3.13" fill="#7b7bf4"/><rect x="163.68" y="190.81" width="12.21" height="3.13" fill="#aeaef7"/><rect x="175.89" y="190.81" width="12.21" height="3.13" fill="#2222fa"/><rect x="175.89" y="197.07" width="8.14" height="3.13" fill="#fa1e1e"/><rect x="184.03" y="197.07" width="4.07" height="3.13" fill="#b40000"/></g></g><polygon points="49.70,187.31 54.31,187.12 58.93,186.98 63.54,186.89 68.15,186.86 72.77,186.87 77.38,186.93 81.99,187.05 86.61,187.21 91.22,187.43 95.83,187.69 100.45,188.01 105.06,188.38 109.67,188.79 114.29,189.26 118.90,189.78 123.51,190.34 128.13,190.96 132.74,191.63 137.35,192.35 141.97,193.12 146.58,193.94 151.19,194.81 155.81,195.73 160.42,196.70 165.03,197.72 169.65,198.80 174.26,199.92 178.87,201.09 183.49,202.31 188.10,203.59 188.1,212.2 49.7,212.2" fill="#f2a4c1" stroke="none"/><polyline points="49.70,187.31 54.31,187.12 58.93,186.98 63.54,186.89 68.15,186.86 72.77,186.87 77.38,186.93 81.99,187.05 86.61,187.21 91.22,187.43 95.83,187.69 100.45,188.01 105.06,188.38 109.67,188.79 114.29,189.26 118.90,189.78 123.51,190.34 128.13,190.96 132.74,191.63 137.35,192.35 141.97,193.12 146.58,193.94 151.19,194.81 155.81,195.73 160.42,196.70 165.03,197.72 169.65,198.80 174.26,199.92 178.87,201.09 183.49,202.31 188.10,203.59" fill="none" stroke="#222" stroke-width="0.8"/><rect x="49.7" y="134.9" width="138.39999999999998" height="77.29999999999998" fill="none" stroke="#8a8a8a" stroke-width="0.9"/><line x1="73.5" y1="132.9" x2="73.5" y2="136.4" stroke="#444" stroke-width="0.9"/><line x1="73.5" y1="210.7" x2="73.5" y2="214.2" stroke="#444" stroke-width="0.9"/><line x1="112.8" y1="132.9" x2="112.8" y2="136.4" stroke="#444" stroke-width="0.9"/><line x1="112.8" y1="210.7" x2="112.8" y2="214.2" stroke="#444" stroke-width="0.9"/><line x1="152.1" y1="132.9" x2="152.1" y2="136.4" stroke="#444" stroke-width="0.9"/><line x1="152.1" y1="210.7" x2="152.1" y2="214.2" stroke="#444" stroke-width="0.9"/><line x1="47.7" y1="153.6" x2="51.2" y2="153.6" stroke="#444" stroke-width="0.9"/><line x1="186.6" y1="153.6" x2="190.1" y2="153.6" stroke="#444" stroke-width="0.9"/><line x1="47.7" y1="174.2" x2="51.2" y2="174.2" stroke="#444" stroke-width="0.9"/><line x1="186.6" y1="174.2" x2="190.1" y2="174.2" stroke="#444" stroke-width="0.9"/><line x1="47.7" y1="194.4" x2="51.2" y2="194.4" stroke="#444" stroke-width="0.9"/><line x1="186.6" y1="194.4" x2="190.1" y2="194.4" stroke="#444" stroke-width="0.9"/><text transform="translate(72.50,231.50) scale(1,1.02)" font-size="15" text-anchor="middle" >250</text><text transform="translate(115.00,231.50) scale(1,1.02)" font-size="15" text-anchor="middle" >265</text><text transform="translate(157.30,231.50) scale(1,1.02)" font-size="15" text-anchor="middle" >280</text><text transform="translate(42.20,154.20) scale(1,1.02)" font-size="15" text-anchor="end" >40</text><text transform="translate(42.20,175.30) scale(1,1.02)" font-size="15" text-anchor="end" >30</text><text transform="translate(42.20,197.20) scale(1,1.02)" font-size="15" text-anchor="end" >20</text><linearGradient id="cb3" x1="0" y1="0" x2="0" y2="1"><stop offset="0" stop-color="#7a0000"/><stop offset="0.06" stop-color="#b00000"/><stop offset="0.13" stop-color="#f50a0a"/><stop offset="0.2" stop-color="#ff3a3a"/><stop offset="0.36" stop-color="#f7b4b4"/><stop offset="0.53" stop-color="#ffffff"/><stop offset="0.7" stop-color="#b4b4f8"/><stop offset="0.84" stop-color="#3434ff"/><stop offset="0.92" stop-color="#0e00f0"/><stop offset="1" stop-color="#1a00d0"/></linearGradient><rect x="194" y="134.5" width="10.800000000000011" height="78.0" fill="url(#cb3)" stroke="#8a8a8a" stroke-width="0.8"/><text transform="translate(208.00,148.00) scale(1,1.02)" font-size="13.4" text-anchor="start" >0.01</text><text transform="translate(208.00,179.50) scale(1,1.02)" font-size="13.4" text-anchor="start" >0</text><text transform="translate(208.00,211.30) scale(1,1.02)" font-size="13.4" text-anchor="start" >-0.01</text><clipPath id="hc4"><rect x="271.2" y="134.8" width="137.5" height="77.19999999999999"/></clipPath><g clip-path="url(#hc4)"><g><rect x="269.2" y="132.8" width="141.5" height="81.19999999999999" fill="#fff"/><rect x="271.20" y="134.80" width="4.04" height="2.30" fill="#aeaef7"/><rect x="275.24" y="134.80" width="36.40" height="2.30" fill="#e3e3fb"/><rect x="339.95" y="134.80" width="24.26" height="2.30" fill="#fbe2e2"/><rect x="364.21" y="134.80" width="20.22" height="2.30" fill="#f6a9a9"/><rect x="384.44" y="134.80" width="20.22" height="2.30" fill="#fbe2e2"/><rect x="404.66" y="134.80" width="4.04" height="2.30" fill="#f6a9a9"/><rect x="271.20" y="137.10" width="32.35" height="3.13" fill="#e3e3fb"/><rect x="339.95" y="137.10" width="8.09" height="3.13" fill="#fbe2e2"/><rect x="364.21" y="137.10" width="36.40" height="3.13" fill="#fbe2e2"/><rect x="303.55" y="140.23" width="36.40" height="3.13" fill="#fbe2e2"/><rect x="339.95" y="140.23" width="4.04" height="3.13" fill="#e3e3fb"/><rect x="352.08" y="140.23" width="56.62" height="3.13" fill="#e3e3fb"/><rect x="271.20" y="143.36" width="24.26" height="3.13" fill="#fbe2e2"/><rect x="295.46" y="143.36" width="12.13" height="3.13" fill="#f6a9a9"/><rect x="307.60" y="143.36" width="12.13" height="3.13" fill="#fbe2e2"/><rect x="339.95" y="143.36" width="16.18" height="3.13" fill="#e3e3fb"/><rect x="356.13" y="143.36" width="8.09" height="3.13" fill="#aeaef7"/><rect x="364.21" y="143.36" width="20.22" height="3.13" fill="#7b7bf4"/><rect x="384.44" y="143.36" width="20.22" height="3.13" fill="#aeaef7"/><rect x="404.66" y="143.36" width="4.04" height="3.13" fill="#7b7bf4"/><rect x="271.20" y="146.49" width="4.04" height="3.13" fill="#f27575"/><rect x="275.24" y="146.49" width="20.22" height="3.13" fill="#f6a9a9"/><rect x="295.46" y="146.49" width="4.04" height="3.13" fill="#fbe2e2"/><rect x="307.60" y="146.49" width="56.62" height="3.13" fill="#e3e3fb"/><rect x="364.21" y="146.49" width="20.22" height="3.13" fill="#aeaef7"/><rect x="384.44" y="146.49" width="24.26" height="3.13" fill="#e3e3fb"/><rect x="299.51" y="149.62" width="24.26" height="3.13" fill="#e3e3fb"/><rect x="323.77" y="149.62" width="12.13" height="3.13" fill="#aeaef7"/><rect x="335.91" y="149.62" width="4.04" height="3.13" fill="#e3e3fb"/><rect x="388.48" y="149.62" width="20.22" height="3.13" fill="#fbe2e2"/><rect x="271.20" y="152.75" width="20.22" height="3.13" fill="#e3e3fb"/><rect x="291.42" y="152.75" width="8.09" height="3.13" fill="#aeaef7"/><rect x="299.51" y="152.75" width="8.09" height="3.13" fill="#7b7bf4"/><rect x="307.60" y="152.75" width="8.09" height="3.13" fill="#aeaef7"/><rect x="315.69" y="152.75" width="24.26" height="3.13" fill="#e3e3fb"/><rect x="348.04" y="152.75" width="8.09" height="3.13" fill="#fbe2e2"/><rect x="356.13" y="152.75" width="8.09" height="3.13" fill="#f6a9a9"/><rect x="364.21" y="152.75" width="8.09" height="3.13" fill="#f27575"/><rect x="372.30" y="152.75" width="8.09" height="3.13" fill="#fa1e1e"/><rect x="380.39" y="152.75" width="12.13" height="3.13" fill="#f27575"/><rect x="392.52" y="152.75" width="8.09" height="3.13" fill="#f6a9a9"/><rect x="400.61" y="152.75" width="8.09" height="3.13" fill="#f27575"/><rect x="271.20" y="155.88" width="4.04" height="3.13" fill="#2222fa"/><rect x="275.24" y="155.88" width="16.18" height="3.13" fill="#7b7bf4"/><rect x="291.42" y="155.88" width="8.09" height="3.13" fill="#2222fa"/><rect x="299.51" y="155.88" width="4.04" height="3.13" fill="#7b7bf4"/><rect x="303.55" y="155.88" width="4.04" height="3.13" fill="#aeaef7"/><rect x="307.60" y="155.88" width="4.04" height="3.13" fill="#e3e3fb"/><rect x="339.95" y="155.88" width="20.22" height="3.13" fill="#fbe2e2"/><rect x="360.17" y="155.88" width="12.13" height="3.13" fill="#f6a9a9"/><rect x="372.30" y="155.88" width="8.09" height="3.13" fill="#f27575"/><rect x="380.39" y="155.88" width="28.31" height="3.13" fill="#f6a9a9"/><rect x="271.20" y="159.01" width="4.04" height="3.13" fill="#7b7bf4"/><rect x="275.24" y="159.01" width="4.04" height="3.13" fill="#aeaef7"/><rect x="279.29" y="159.01" width="8.09" height="3.13" fill="#e3e3fb"/><rect x="287.38" y="159.01" width="8.09" height="3.13" fill="#aeaef7"/><rect x="295.46" y="159.01" width="4.04" height="3.13" fill="#e3e3fb"/><rect x="311.64" y="159.01" width="12.13" height="3.13" fill="#fbe2e2"/><rect x="323.77" y="159.01" width="20.22" height="3.13" fill="#f6a9a9"/><rect x="283.33" y="162.14" width="16.18" height="3.13" fill="#fbe2e2"/><rect x="299.51" y="162.14" width="28.31" height="3.13" fill="#f6a9a9"/><rect x="327.82" y="162.14" width="12.13" height="3.13" fill="#fbe2e2"/><rect x="348.04" y="162.14" width="12.13" height="3.13" fill="#e3e3fb"/><rect x="360.17" y="162.14" width="4.04" height="3.13" fill="#aeaef7"/><rect x="364.21" y="162.14" width="4.04" height="3.13" fill="#7b7bf4"/><rect x="368.26" y="162.14" width="16.18" height="3.13" fill="#2222fa"/><rect x="384.44" y="162.14" width="20.22" height="3.13" fill="#7b7bf4"/><rect x="404.66" y="162.14" width="4.04" height="3.13" fill="#2222fa"/><rect x="271.20" y="165.27" width="8.09" height="3.13" fill="#f27575"/><rect x="279.29" y="165.27" width="12.13" height="3.13" fill="#f6a9a9"/><rect x="291.42" y="165.27" width="4.04" height="3.13" fill="#f27575"/><rect x="295.46" y="165.27" width="8.09" height="3.13" fill="#fa1e1e"/><rect x="303.55" y="165.27" width="4.04" height="3.13" fill="#f27575"/><rect x="307.60" y="165.27" width="4.04" height="3.13" fill="#f6a9a9"/><rect x="311.64" y="165.27" width="12.13" height="3.13" fill="#fbe2e2"/><rect x="323.77" y="165.27" width="20.22" height="3.13" fill="#e3e3fb"/><rect x="343.99" y="165.27" width="12.13" height="3.13" fill="#aeaef7"/><rect x="356.13" y="165.27" width="8.09" height="3.13" fill="#7b7bf4"/><rect x="364.21" y="165.27" width="4.04" height="3.13" fill="#2222fa"/><rect x="368.26" y="165.27" width="16.18" height="3.13" fill="#0a00d8"/><rect x="384.44" y="165.27" width="4.04" height="3.13" fill="#2222fa"/><rect x="388.48" y="165.27" width="16.18" height="3.13" fill="#7b7bf4"/><rect x="404.66" y="165.27" width="4.04" height="3.13" fill="#2222fa"/><rect x="271.20" y="168.40" width="4.04" height="3.13" fill="#fa1e1e"/><rect x="275.24" y="168.40" width="4.04" height="3.13" fill="#f27575"/><rect x="279.29" y="168.40" width="12.13" height="3.13" fill="#f6a9a9"/><rect x="291.42" y="168.40" width="8.09" height="3.13" fill="#fbe2e2"/><rect x="299.51" y="168.40" width="20.22" height="3.13" fill="#e3e3fb"/><rect x="319.73" y="168.40" width="8.09" height="3.13" fill="#aeaef7"/><rect x="327.82" y="168.40" width="16.18" height="3.13" fill="#7b7bf4"/><rect x="343.99" y="168.40" width="4.04" height="3.13" fill="#aeaef7"/><rect x="348.04" y="168.40" width="20.22" height="3.13" fill="#e3e3fb"/><rect x="368.26" y="168.40" width="12.13" height="3.13" fill="#aeaef7"/><rect x="380.39" y="168.40" width="28.31" height="3.13" fill="#e3e3fb"/><rect x="291.42" y="171.53" width="8.09" height="3.13" fill="#e3e3fb"/><rect x="299.51" y="171.53" width="4.04" height="3.13" fill="#aeaef7"/><rect x="303.55" y="171.53" width="28.31" height="3.13" fill="#7b7bf4"/><rect x="331.86" y="171.53" width="8.09" height="3.13" fill="#aeaef7"/><rect x="339.95" y="171.53" width="4.04" height="3.13" fill="#e3e3fb"/><rect x="352.08" y="171.53" width="12.13" height="3.13" fill="#fbe2e2"/><rect x="364.21" y="171.53" width="4.04" height="3.13" fill="#f6a9a9"/><rect x="368.26" y="171.53" width="12.13" height="3.13" fill="#f27575"/><rect x="380.39" y="171.53" width="28.31" height="3.13" fill="#f6a9a9"/><rect x="271.20" y="174.66" width="4.04" height="3.13" fill="#aeaef7"/><rect x="275.24" y="174.66" width="16.18" height="3.13" fill="#7b7bf4"/><rect x="291.42" y="174.66" width="4.04" height="3.13" fill="#aeaef7"/><rect x="295.46" y="174.66" width="8.09" height="3.13" fill="#2222fa"/><rect x="303.55" y="174.66" width="4.04" height="3.13" fill="#7b7bf4"/><rect x="307.60" y="174.66" width="4.04" height="3.13" fill="#aeaef7"/><rect x="311.64" y="174.66" width="12.13" height="3.13" fill="#e3e3fb"/><rect x="339.95" y="174.66" width="12.13" height="3.13" fill="#fbe2e2"/><rect x="352.08" y="174.66" width="4.04" height="3.13" fill="#f6a9a9"/><rect x="356.13" y="174.66" width="4.04" height="3.13" fill="#f27575"/><rect x="360.17" y="174.66" width="8.09" height="3.13" fill="#fa1e1e"/><rect x="368.26" y="174.66" width="4.04" height="3.13" fill="#b40000"/><rect x="372.30" y="174.66" width="4.04" height="3.13" fill="#7d0000"/><rect x="376.35" y="174.66" width="4.04" height="3.13" fill="#b40000"/><rect x="380.39" y="174.66" width="28.31" height="3.13" fill="#fa1e1e"/><rect x="271.20" y="177.79" width="4.04" height="3.13" fill="#2222fa"/><rect x="275.24" y="177.79" width="8.09" height="3.13" fill="#7b7bf4"/><rect x="283.33" y="177.79" width="8.09" height="3.13" fill="#aeaef7"/><rect x="291.42" y="177.79" width="8.09" height="3.13" fill="#7b7bf4"/><rect x="299.51" y="177.79" width="4.04" height="3.13" fill="#aeaef7"/><rect x="303.55" y="177.79" width="4.04" height="3.13" fill="#e3e3fb"/><rect x="315.69" y="177.79" width="12.13" height="3.13" fill="#fbe2e2"/><rect x="327.82" y="177.79" width="36.40" height="3.13" fill="#f6a9a9"/><rect x="364.21" y="177.79" width="8.09" height="3.13" fill="#f27575"/><rect x="372.30" y="177.79" width="8.09" height="3.13" fill="#fa1e1e"/><rect x="380.39" y="177.79" width="4.04" height="3.13" fill="#f27575"/><rect x="384.44" y="177.79" width="4.04" height="3.13" fill="#f6a9a9"/><rect x="388.48" y="177.79" width="16.18" height="3.13" fill="#fbe2e2"/><rect x="404.66" y="177.79" width="4.04" height="3.13" fill="#f6a9a9"/><rect x="271.20" y="180.92" width="4.04" height="3.13" fill="#aeaef7"/><rect x="275.24" y="180.92" width="8.09" height="3.13" fill="#e3e3fb"/><rect x="299.51" y="180.92" width="4.04" height="3.13" fill="#fbe2e2"/><rect x="303.55" y="180.92" width="4.04" height="3.13" fill="#f6a9a9"/><rect x="307.60" y="180.92" width="24.26" height="3.13" fill="#f27575"/><rect x="331.86" y="180.92" width="12.13" height="3.13" fill="#f6a9a9"/><rect x="364.21" y="180.92" width="16.18" height="3.13" fill="#e3e3fb"/><rect x="388.48" y="180.92" width="4.04" height="3.13" fill="#e3e3fb"/><rect x="392.52" y="180.92" width="16.18" height="3.13" fill="#aeaef7"/><rect x="279.29" y="184.05" width="4.04" height="3.13" fill="#fbe2e2"/><rect x="283.33" y="184.05" width="12.13" height="3.13" fill="#f6a9a9"/><rect x="295.46" y="184.05" width="4.04" height="3.13" fill="#f27575"/><rect x="299.51" y="184.05" width="8.09" height="3.13" fill="#fa1e1e"/><rect x="307.60" y="184.05" width="4.04" height="3.13" fill="#f27575"/><rect x="311.64" y="184.05" width="12.13" height="3.13" fill="#f6a9a9"/><rect x="323.77" y="184.05" width="16.18" height="3.13" fill="#fbe2e2"/><rect x="343.99" y="184.05" width="8.09" height="3.13" fill="#e3e3fb"/><rect x="352.08" y="184.05" width="4.04" height="3.13" fill="#aeaef7"/><rect x="356.13" y="184.05" width="8.09" height="3.13" fill="#7b7bf4"/><rect x="364.21" y="184.05" width="4.04" height="3.13" fill="#2222fa"/><rect x="368.26" y="184.05" width="16.18" height="3.13" fill="#0a00d8"/><rect x="384.44" y="184.05" width="8.09" height="3.13" fill="#2222fa"/><rect x="392.52" y="184.05" width="16.18" height="3.13" fill="#0a00d8"/><rect x="271.20" y="187.18" width="8.09" height="3.13" fill="#fa1e1e"/><rect x="279.29" y="187.18" width="12.13" height="3.13" fill="#f27575"/><rect x="291.42" y="187.18" width="12.13" height="3.13" fill="#fa1e1e"/><rect x="303.55" y="187.18" width="4.04" height="3.13" fill="#f27575"/><rect x="307.60" y="187.18" width="4.04" height="3.13" fill="#f6a9a9"/><rect x="319.73" y="187.18" width="16.18" height="3.13" fill="#e3e3fb"/><rect x="335.91" y="187.18" width="12.13" height="3.13" fill="#aeaef7"/><rect x="348.04" y="187.18" width="8.09" height="3.13" fill="#e3e3fb"/><rect x="356.13" y="187.18" width="4.04" height="3.13" fill="#aeaef7"/><rect x="360.17" y="187.18" width="4.04" height="3.13" fill="#7b7bf4"/><rect x="364.21" y="187.18" width="8.09" height="3.13" fill="#2222fa"/><rect x="372.30" y="187.18" width="12.13" height="3.13" fill="#0a00d8"/><rect x="384.44" y="187.18" width="4.04" height="3.13" fill="#2222fa"/><rect x="388.48" y="187.18" width="16.18" height="3.13" fill="#7b7bf4"/><rect x="404.66" y="187.18" width="4.04" height="3.13" fill="#2222fa"/><rect x="271.20" y="190.31" width="4.04" height="3.13" fill="#f27575"/><rect x="275.24" y="190.31" width="8.09" height="3.13" fill="#f6a9a9"/><rect x="283.33" y="190.31" width="4.04" height="3.13" fill="#fbe2e2"/><rect x="287.38" y="190.31" width="8.09" height="3.13" fill="#f6a9a9"/><rect x="295.46" y="190.31" width="4.04" height="3.13" fill="#fbe2e2"/><rect x="303.55" y="190.31" width="4.04" height="3.13" fill="#e3e3fb"/><rect x="307.60" y="190.31" width="8.09" height="3.13" fill="#aeaef7"/><rect x="315.69" y="190.31" width="28.31" height="3.13" fill="#7b7bf4"/><rect x="343.99" y="190.31" width="8.09" height="3.13" fill="#e3e3fb"/><rect x="279.29" y="193.44" width="8.09" height="3.13" fill="#e3e3fb"/><rect x="287.38" y="193.44" width="8.09" height="3.13" fill="#aeaef7"/><rect x="295.46" y="193.44" width="4.04" height="3.13" fill="#7b7bf4"/><rect x="299.51" y="193.44" width="16.18" height="3.13" fill="#2222fa"/><rect x="315.69" y="193.44" width="8.09" height="3.13" fill="#7b7bf4"/><rect x="323.77" y="193.44" width="8.09" height="3.13" fill="#aeaef7"/><rect x="331.86" y="193.44" width="12.13" height="3.13" fill="#e3e3fb"/><rect x="348.04" y="193.44" width="4.04" height="3.13" fill="#fbe2e2"/><rect x="352.08" y="193.44" width="4.04" height="3.13" fill="#f6a9a9"/><rect x="356.13" y="193.44" width="4.04" height="3.13" fill="#f27575"/><rect x="360.17" y="193.44" width="4.04" height="3.13" fill="#fa1e1e"/><rect x="364.21" y="193.44" width="8.09" height="3.13" fill="#b40000"/><rect x="372.30" y="193.44" width="4.04" height="3.13" fill="#7d0000"/><rect x="376.35" y="193.44" width="8.09" height="3.13" fill="#b40000"/><rect x="384.44" y="193.44" width="12.13" height="3.13" fill="#fa1e1e"/><rect x="271.20" y="196.57" width="4.04" height="3.13" fill="#2222fa"/><rect x="275.24" y="196.57" width="4.04" height="3.13" fill="#0a00d8"/><rect x="279.29" y="196.57" width="4.04" height="3.13" fill="#2222fa"/><rect x="283.33" y="196.57" width="8.09" height="3.13" fill="#7b7bf4"/><rect x="291.42" y="196.57" width="4.04" height="3.13" fill="#2222fa"/><rect x="295.46" y="196.57" width="4.04" height="3.13" fill="#0a00d8"/><rect x="299.51" y="196.57" width="4.04" height="3.13" fill="#2222fa"/><rect x="303.55" y="196.57" width="4.04" height="3.13" fill="#7b7bf4"/><rect x="307.60" y="196.57" width="4.04" height="3.13" fill="#aeaef7"/><rect x="311.64" y="196.57" width="12.13" height="3.13" fill="#e3e3fb"/><rect x="339.95" y="196.57" width="4.04" height="3.13" fill="#fbe2e2"/><rect x="343.99" y="196.57" width="4.04" height="3.13" fill="#f6a9a9"/><rect x="348.04" y="196.57" width="4.04" height="3.13" fill="#f27575"/><rect x="352.08" y="196.57" width="12.13" height="3.13" fill="#fa1e1e"/><rect x="271.20" y="199.70" width="8.09" height="3.13" fill="#2222fa"/><rect x="279.29" y="199.70" width="4.04" height="3.13" fill="#7b7bf4"/><rect x="283.33" y="199.70" width="4.04" height="3.13" fill="#aeaef7"/><rect x="287.38" y="199.70" width="4.04" height="3.13" fill="#7b7bf4"/><rect x="291.42" y="199.70" width="4.04" height="3.13" fill="#2222fa"/><rect x="295.46" y="199.70" width="4.04" height="3.13" fill="#7b7bf4"/><rect x="299.51" y="199.70" width="4.04" height="3.13" fill="#aeaef7"/><rect x="307.60" y="199.70" width="8.09" height="3.13" fill="#fbe2e2"/><rect x="315.69" y="199.70" width="8.09" height="3.13" fill="#f6a9a9"/><rect x="323.77" y="199.70" width="16.18" height="3.13" fill="#f27575"/><rect x="271.20" y="202.83" width="4.04" height="3.13" fill="#e3e3fb"/><rect x="299.51" y="202.83" width="4.04" height="3.13" fill="#f27575"/><rect x="303.55" y="202.83" width="4.04" height="3.13" fill="#fa1e1e"/><rect x="271.20" y="205.96" width="4.04" height="3.13" fill="#f6a9a9"/></g></g><polygon points="271.20,209.30 408.70,194.20 408.7,212 271.2,212" fill="#f2a4c1" stroke="none"/><polyline points="271.20,209.30 408.70,194.20" fill="none" stroke="#222" stroke-width="0.8"/><rect x="271.2" y="134.8" width="137.5" height="77.19999999999999" fill="none" stroke="#8a8a8a" stroke-width="0.9"/><line x1="294.6" y1="132.8" x2="294.6" y2="136.3" stroke="#444" stroke-width="0.9"/><line x1="294.6" y1="210.5" x2="294.6" y2="214" stroke="#444" stroke-width="0.9"/><line x1="333.7" y1="132.8" x2="333.7" y2="136.3" stroke="#444" stroke-width="0.9"/><line x1="333.7" y1="210.5" x2="333.7" y2="214" stroke="#444" stroke-width="0.9"/><line x1="372.7" y1="132.8" x2="372.7" y2="136.3" stroke="#444" stroke-width="0.9"/><line x1="372.7" y1="210.5" x2="372.7" y2="214" stroke="#444" stroke-width="0.9"/><line x1="269.2" y1="151.8" x2="272.7" y2="151.8" stroke="#444" stroke-width="0.9"/><line x1="407.2" y1="151.8" x2="410.7" y2="151.8" stroke="#444" stroke-width="0.9"/><line x1="269.2" y1="173.3" x2="272.7" y2="173.3" stroke="#444" stroke-width="0.9"/><line x1="407.2" y1="173.3" x2="410.7" y2="173.3" stroke="#444" stroke-width="0.9"/><line x1="269.2" y1="194.0" x2="272.7" y2="194.0" stroke="#444" stroke-width="0.9"/><line x1="407.2" y1="194.0" x2="410.7" y2="194.0" stroke="#444" stroke-width="0.9"/><text transform="translate(294.50,231.50) scale(1,1.02)" font-size="15" text-anchor="middle" >250</text><text transform="translate(337.00,231.50) scale(1,1.02)" font-size="15" text-anchor="middle" >265</text><text transform="translate(379.60,231.50) scale(1,1.02)" font-size="15" text-anchor="middle" >280</text><text transform="translate(263.50,158.70) scale(1,1.02)" font-size="15" text-anchor="end" >40</text><text transform="translate(263.50,179.80) scale(1,1.02)" font-size="15" text-anchor="end" >30</text><text transform="translate(263.50,201.20) scale(1,1.02)" font-size="15" text-anchor="end" >20</text><linearGradient id="cb4" x1="0" y1="0" x2="0" y2="1"><stop offset="0" stop-color="#7a0000"/><stop offset="0.06" stop-color="#b00000"/><stop offset="0.13" stop-color="#f50a0a"/><stop offset="0.2" stop-color="#ff3a3a"/><stop offset="0.36" stop-color="#f7b4b4"/><stop offset="0.53" stop-color="#ffffff"/><stop offset="0.7" stop-color="#b4b4f8"/><stop offset="0.84" stop-color="#3434ff"/><stop offset="0.92" stop-color="#0e00f0"/><stop offset="1" stop-color="#1a00d0"/></linearGradient><rect x="414.4" y="134.3" width="10.900000000000034" height="77.79999999999998" fill="url(#cb4)" stroke="#8a8a8a" stroke-width="0.8"/><text transform="translate(431.60,147.30) scale(1,1.02)" font-size="13.4" text-anchor="start" >0.05</text><text transform="translate(431.60,178.50) scale(1,1.02)" font-size="13.4" text-anchor="start" >0</text><text transform="translate(431.60,209.80) scale(1,1.02)" font-size="13.4" text-anchor="start" >-0.05</text><clipPath id="hc5"><rect x="493.5" y="133.9" width="137.89999999999998" height="77.6"/></clipPath><g clip-path="url(#hc5)"><g><rect x="491.5" y="131.9" width="141.89999999999998" height="81.6" fill="#fff"/><rect x="497.56" y="133.90" width="12.17" height="2.70" fill="#fbe2e2"/><rect x="509.72" y="133.90" width="8.11" height="2.70" fill="#f6a9a9"/><rect x="517.84" y="133.90" width="44.61" height="2.70" fill="#fbe2e2"/><rect x="570.56" y="133.90" width="24.34" height="2.70" fill="#e3e3fb"/><rect x="594.90" y="133.90" width="12.17" height="2.70" fill="#aeaef7"/><rect x="607.06" y="133.90" width="24.34" height="2.70" fill="#e3e3fb"/><rect x="493.50" y="136.60" width="12.17" height="3.12" fill="#fbe2e2"/><rect x="505.67" y="136.60" width="4.06" height="3.12" fill="#f6a9a9"/><rect x="509.72" y="136.60" width="4.06" height="3.12" fill="#fbe2e2"/><rect x="562.45" y="136.60" width="24.34" height="3.12" fill="#e3e3fb"/><rect x="586.79" y="136.60" width="8.11" height="3.12" fill="#aeaef7"/><rect x="594.90" y="136.60" width="12.17" height="3.12" fill="#e3e3fb"/><rect x="493.50" y="139.72" width="4.06" height="3.12" fill="#fbe2e2"/><rect x="513.78" y="139.72" width="68.95" height="3.12" fill="#e3e3fb"/><rect x="594.90" y="139.72" width="32.45" height="3.12" fill="#fbe2e2"/><rect x="627.34" y="139.72" width="4.06" height="3.12" fill="#f6a9a9"/><rect x="497.56" y="142.84" width="8.11" height="3.12" fill="#e3e3fb"/><rect x="505.67" y="142.84" width="8.11" height="3.12" fill="#aeaef7"/><rect x="513.78" y="142.84" width="8.11" height="3.12" fill="#7b7bf4"/><rect x="521.89" y="142.84" width="12.17" height="3.12" fill="#aeaef7"/><rect x="534.06" y="142.84" width="8.11" height="3.12" fill="#e3e3fb"/><rect x="542.17" y="142.84" width="16.22" height="3.12" fill="#aeaef7"/><rect x="558.39" y="142.84" width="4.06" height="3.12" fill="#e3e3fb"/><rect x="586.79" y="142.84" width="4.06" height="3.12" fill="#fbe2e2"/><rect x="590.84" y="142.84" width="4.06" height="3.12" fill="#f6a9a9"/><rect x="594.90" y="142.84" width="12.17" height="3.12" fill="#f27575"/><rect x="607.06" y="142.84" width="4.06" height="3.12" fill="#f6a9a9"/><rect x="611.12" y="142.84" width="16.22" height="3.12" fill="#fbe2e2"/><rect x="627.34" y="142.84" width="4.06" height="3.12" fill="#f6a9a9"/><rect x="493.50" y="145.96" width="8.11" height="3.12" fill="#aeaef7"/><rect x="501.61" y="145.96" width="12.17" height="3.12" fill="#7b7bf4"/><rect x="513.78" y="145.96" width="12.17" height="3.12" fill="#aeaef7"/><rect x="525.95" y="145.96" width="36.50" height="3.12" fill="#e3e3fb"/><rect x="562.45" y="145.96" width="24.34" height="3.12" fill="#fbe2e2"/><rect x="586.79" y="145.96" width="16.22" height="3.12" fill="#f6a9a9"/><rect x="603.01" y="145.96" width="8.11" height="3.12" fill="#fbe2e2"/><rect x="493.50" y="149.08" width="4.06" height="3.12" fill="#7b7bf4"/><rect x="497.56" y="149.08" width="4.06" height="3.12" fill="#aeaef7"/><rect x="501.61" y="149.08" width="4.06" height="3.12" fill="#e3e3fb"/><rect x="530.00" y="149.08" width="44.61" height="3.12" fill="#fbe2e2"/><rect x="574.62" y="149.08" width="8.11" height="3.12" fill="#f6a9a9"/><rect x="582.73" y="149.08" width="8.11" height="3.12" fill="#fbe2e2"/><rect x="598.95" y="149.08" width="32.45" height="3.12" fill="#e3e3fb"/><rect x="493.50" y="152.20" width="4.06" height="3.12" fill="#e3e3fb"/><rect x="501.61" y="152.20" width="8.11" height="3.12" fill="#fbe2e2"/><rect x="509.72" y="152.20" width="56.78" height="3.12" fill="#f6a9a9"/><rect x="566.51" y="152.20" width="12.17" height="3.12" fill="#fbe2e2"/><rect x="590.84" y="152.20" width="4.06" height="3.12" fill="#e3e3fb"/><rect x="594.90" y="152.20" width="4.06" height="3.12" fill="#aeaef7"/><rect x="598.95" y="152.20" width="4.06" height="3.12" fill="#7b7bf4"/><rect x="603.01" y="152.20" width="4.06" height="3.12" fill="#2222fa"/><rect x="607.06" y="152.20" width="4.06" height="3.12" fill="#7b7bf4"/><rect x="611.12" y="152.20" width="4.06" height="3.12" fill="#aeaef7"/><rect x="615.18" y="152.20" width="8.11" height="3.12" fill="#e3e3fb"/><rect x="623.29" y="152.20" width="8.11" height="3.12" fill="#aeaef7"/><rect x="493.50" y="155.32" width="4.06" height="3.12" fill="#fbe2e2"/><rect x="497.56" y="155.32" width="8.11" height="3.12" fill="#f6a9a9"/><rect x="505.67" y="155.32" width="8.11" height="3.12" fill="#fa1e1e"/><rect x="513.78" y="155.32" width="4.06" height="3.12" fill="#f27575"/><rect x="517.84" y="155.32" width="12.17" height="3.12" fill="#f6a9a9"/><rect x="530.00" y="155.32" width="32.45" height="3.12" fill="#fbe2e2"/><rect x="574.62" y="155.32" width="8.11" height="3.12" fill="#e3e3fb"/><rect x="582.73" y="155.32" width="4.06" height="3.12" fill="#aeaef7"/><rect x="586.79" y="155.32" width="4.06" height="3.12" fill="#7b7bf4"/><rect x="590.84" y="155.32" width="8.11" height="3.12" fill="#2222fa"/><rect x="598.95" y="155.32" width="8.11" height="3.12" fill="#7b7bf4"/><rect x="607.06" y="155.32" width="4.06" height="3.12" fill="#aeaef7"/><rect x="611.12" y="155.32" width="20.28" height="3.12" fill="#e3e3fb"/><rect x="493.50" y="158.44" width="4.06" height="3.12" fill="#fa1e1e"/><rect x="497.56" y="158.44" width="4.06" height="3.12" fill="#f27575"/><rect x="501.61" y="158.44" width="8.11" height="3.12" fill="#f6a9a9"/><rect x="509.72" y="158.44" width="8.11" height="3.12" fill="#fbe2e2"/><rect x="550.28" y="158.44" width="24.34" height="3.12" fill="#e3e3fb"/><rect x="574.62" y="158.44" width="12.17" height="3.12" fill="#aeaef7"/><rect x="586.79" y="158.44" width="8.11" height="3.12" fill="#e3e3fb"/><rect x="493.50" y="161.56" width="4.06" height="3.12" fill="#f27575"/><rect x="497.56" y="161.56" width="4.06" height="3.12" fill="#fbe2e2"/><rect x="509.72" y="161.56" width="4.06" height="3.12" fill="#e3e3fb"/><rect x="513.78" y="161.56" width="32.45" height="3.12" fill="#aeaef7"/><rect x="546.23" y="161.56" width="8.11" height="3.12" fill="#7b7bf4"/><rect x="554.34" y="161.56" width="8.11" height="3.12" fill="#aeaef7"/><rect x="562.45" y="161.56" width="4.06" height="3.12" fill="#7b7bf4"/><rect x="566.51" y="161.56" width="12.17" height="3.12" fill="#aeaef7"/><rect x="578.67" y="161.56" width="8.11" height="3.12" fill="#e3e3fb"/><rect x="594.90" y="161.56" width="4.06" height="3.12" fill="#fbe2e2"/><rect x="598.95" y="161.56" width="4.06" height="3.12" fill="#f6a9a9"/><rect x="603.01" y="161.56" width="8.11" height="3.12" fill="#f27575"/><rect x="611.12" y="161.56" width="4.06" height="3.12" fill="#f6a9a9"/><rect x="615.18" y="161.56" width="8.11" height="3.12" fill="#fbe2e2"/><rect x="623.29" y="161.56" width="8.11" height="3.12" fill="#f6a9a9"/><rect x="497.56" y="164.68" width="4.06" height="3.12" fill="#aeaef7"/><rect x="501.61" y="164.68" width="4.06" height="3.12" fill="#7b7bf4"/><rect x="505.67" y="164.68" width="4.06" height="3.12" fill="#2222fa"/><rect x="509.72" y="164.68" width="8.11" height="3.12" fill="#0a00d8"/><rect x="517.84" y="164.68" width="8.11" height="3.12" fill="#2222fa"/><rect x="525.95" y="164.68" width="20.28" height="3.12" fill="#7b7bf4"/><rect x="546.23" y="164.68" width="12.17" height="3.12" fill="#aeaef7"/><rect x="558.39" y="164.68" width="20.28" height="3.12" fill="#e3e3fb"/><rect x="582.73" y="164.68" width="4.06" height="3.12" fill="#fbe2e2"/><rect x="586.79" y="164.68" width="4.06" height="3.12" fill="#f6a9a9"/><rect x="590.84" y="164.68" width="4.06" height="3.12" fill="#f27575"/><rect x="594.90" y="164.68" width="12.17" height="3.12" fill="#fa1e1e"/><rect x="607.06" y="164.68" width="4.06" height="3.12" fill="#f27575"/><rect x="611.12" y="164.68" width="4.06" height="3.12" fill="#f6a9a9"/><rect x="615.18" y="164.68" width="4.06" height="3.12" fill="#fbe2e2"/><rect x="619.23" y="164.68" width="12.17" height="3.12" fill="#f6a9a9"/><rect x="493.50" y="167.80" width="4.06" height="3.12" fill="#2222fa"/><rect x="497.56" y="167.80" width="8.11" height="3.12" fill="#0a00d8"/><rect x="505.67" y="167.80" width="4.06" height="3.12" fill="#2222fa"/><rect x="509.72" y="167.80" width="4.06" height="3.12" fill="#7b7bf4"/><rect x="513.78" y="167.80" width="4.06" height="3.12" fill="#aeaef7"/><rect x="517.84" y="167.80" width="20.28" height="3.12" fill="#e3e3fb"/><rect x="562.45" y="167.80" width="16.22" height="3.12" fill="#fbe2e2"/><rect x="578.67" y="167.80" width="8.11" height="3.12" fill="#f6a9a9"/><rect x="586.79" y="167.80" width="12.17" height="3.12" fill="#f27575"/><rect x="598.95" y="167.80" width="4.06" height="3.12" fill="#f6a9a9"/><rect x="603.01" y="167.80" width="4.06" height="3.12" fill="#fbe2e2"/><rect x="493.50" y="170.92" width="4.06" height="3.12" fill="#0a00d8"/><rect x="497.56" y="170.92" width="4.06" height="3.12" fill="#aeaef7"/><rect x="501.61" y="170.92" width="4.06" height="3.12" fill="#e3e3fb"/><rect x="513.78" y="170.92" width="20.28" height="3.12" fill="#fbe2e2"/><rect x="534.06" y="170.92" width="12.17" height="3.12" fill="#f6a9a9"/><rect x="546.23" y="170.92" width="12.17" height="3.12" fill="#f27575"/><rect x="558.39" y="170.92" width="4.06" height="3.12" fill="#f6a9a9"/><rect x="562.45" y="170.92" width="8.11" height="3.12" fill="#f27575"/><rect x="570.56" y="170.92" width="12.17" height="3.12" fill="#f6a9a9"/><rect x="582.73" y="170.92" width="4.06" height="3.12" fill="#fbe2e2"/><rect x="598.95" y="170.92" width="4.06" height="3.12" fill="#e3e3fb"/><rect x="603.01" y="170.92" width="12.17" height="3.12" fill="#aeaef7"/><rect x="615.18" y="170.92" width="8.11" height="3.12" fill="#e3e3fb"/><rect x="623.29" y="170.92" width="8.11" height="3.12" fill="#aeaef7"/><rect x="501.61" y="174.04" width="4.06" height="3.12" fill="#f6a9a9"/><rect x="505.67" y="174.04" width="44.61" height="3.12" fill="#fa1e1e"/><rect x="550.28" y="174.04" width="4.06" height="3.12" fill="#f27575"/><rect x="554.34" y="174.04" width="4.06" height="3.12" fill="#f6a9a9"/><rect x="558.39" y="174.04" width="4.06" height="3.12" fill="#f27575"/><rect x="562.45" y="174.04" width="4.06" height="3.12" fill="#f6a9a9"/><rect x="566.51" y="174.04" width="12.17" height="3.12" fill="#fbe2e2"/><rect x="586.79" y="174.04" width="4.06" height="3.12" fill="#e3e3fb"/><rect x="590.84" y="174.04" width="4.06" height="3.12" fill="#7b7bf4"/><rect x="594.90" y="174.04" width="4.06" height="3.12" fill="#2222fa"/><rect x="598.95" y="174.04" width="12.17" height="3.12" fill="#0a00d8"/><rect x="611.12" y="174.04" width="4.06" height="3.12" fill="#7b7bf4"/><rect x="615.18" y="174.04" width="8.11" height="3.12" fill="#aeaef7"/><rect x="623.29" y="174.04" width="8.11" height="3.12" fill="#7b7bf4"/><rect x="493.50" y="177.16" width="8.11" height="3.12" fill="#fa1e1e"/><rect x="501.61" y="177.16" width="8.11" height="3.12" fill="#b40000"/><rect x="509.72" y="177.16" width="8.11" height="3.12" fill="#fa1e1e"/><rect x="517.84" y="177.16" width="8.11" height="3.12" fill="#f27575"/><rect x="525.95" y="177.16" width="12.17" height="3.12" fill="#f6a9a9"/><rect x="538.11" y="177.16" width="4.06" height="3.12" fill="#fbe2e2"/><rect x="574.62" y="177.16" width="4.06" height="3.12" fill="#e3e3fb"/><rect x="578.67" y="177.16" width="4.06" height="3.12" fill="#aeaef7"/><rect x="582.73" y="177.16" width="8.11" height="3.12" fill="#7b7bf4"/><rect x="590.84" y="177.16" width="4.06" height="3.12" fill="#2222fa"/><rect x="594.90" y="177.16" width="4.06" height="3.12" fill="#0a00d8"/><rect x="598.95" y="177.16" width="4.06" height="3.12" fill="#2222fa"/><rect x="603.01" y="177.16" width="4.06" height="3.12" fill="#7b7bf4"/><rect x="607.06" y="177.16" width="4.06" height="3.12" fill="#aeaef7"/><rect x="611.12" y="177.16" width="20.28" height="3.12" fill="#e3e3fb"/><rect x="493.50" y="180.28" width="8.11" height="3.12" fill="#fa1e1e"/><rect x="501.61" y="180.28" width="4.06" height="3.12" fill="#f27575"/><rect x="505.67" y="180.28" width="4.06" height="3.12" fill="#fbe2e2"/><rect x="525.95" y="180.28" width="16.22" height="3.12" fill="#e3e3fb"/><rect x="542.17" y="180.28" width="24.34" height="3.12" fill="#aeaef7"/><rect x="566.51" y="180.28" width="16.22" height="3.12" fill="#7b7bf4"/><rect x="582.73" y="180.28" width="4.06" height="3.12" fill="#aeaef7"/><rect x="586.79" y="180.28" width="4.06" height="3.12" fill="#e3e3fb"/><rect x="607.06" y="180.28" width="24.34" height="3.12" fill="#fbe2e2"/><rect x="493.50" y="183.40" width="4.06" height="3.12" fill="#f6a9a9"/><rect x="501.61" y="183.40" width="4.06" height="3.12" fill="#e3e3fb"/><rect x="505.67" y="183.40" width="4.06" height="3.12" fill="#7b7bf4"/><rect x="509.72" y="183.40" width="44.61" height="3.12" fill="#2222fa"/><rect x="554.34" y="183.40" width="4.06" height="3.12" fill="#0a00d8"/><rect x="558.39" y="183.40" width="12.17" height="3.12" fill="#7b7bf4"/><rect x="570.56" y="183.40" width="4.06" height="3.12" fill="#aeaef7"/><rect x="574.62" y="183.40" width="4.06" height="3.12" fill="#e3e3fb"/><rect x="590.84" y="183.40" width="4.06" height="3.12" fill="#fbe2e2"/><rect x="594.90" y="183.40" width="8.11" height="3.12" fill="#fa1e1e"/><rect x="603.01" y="183.40" width="4.06" height="3.12" fill="#b40000"/><rect x="493.50" y="186.52" width="4.06" height="3.12" fill="#aeaef7"/><rect x="497.56" y="186.52" width="8.11" height="3.12" fill="#2222fa"/><rect x="505.67" y="186.52" width="12.17" height="3.12" fill="#0a00d8"/><rect x="517.84" y="186.52" width="16.22" height="3.12" fill="#2222fa"/><rect x="534.06" y="186.52" width="8.11" height="3.12" fill="#7b7bf4"/><rect x="542.17" y="186.52" width="12.17" height="3.12" fill="#aeaef7"/><rect x="554.34" y="186.52" width="16.22" height="3.12" fill="#e3e3fb"/><rect x="493.50" y="189.64" width="16.22" height="3.12" fill="#2222fa"/><rect x="509.72" y="189.64" width="4.06" height="3.12" fill="#aeaef7"/><rect x="513.78" y="189.64" width="4.06" height="3.12" fill="#e3e3fb"/><rect x="546.23" y="189.64" width="4.06" height="3.12" fill="#fbe2e2"/><rect x="550.28" y="189.64" width="8.11" height="3.12" fill="#f6a9a9"/><rect x="493.50" y="192.76" width="4.06" height="3.12" fill="#2222fa"/><rect x="497.56" y="192.76" width="4.06" height="3.12" fill="#aeaef7"/><rect x="505.67" y="192.76" width="4.06" height="3.12" fill="#fbe2e2"/><rect x="509.72" y="192.76" width="4.06" height="3.12" fill="#f27575"/><rect x="513.78" y="192.76" width="24.34" height="3.12" fill="#fa1e1e"/><rect x="497.56" y="195.88" width="4.06" height="3.12" fill="#f6a9a9"/><rect x="501.61" y="195.88" width="4.06" height="3.12" fill="#fa1e1e"/><rect x="505.67" y="195.88" width="16.22" height="3.12" fill="#b40000"/><rect x="493.50" y="199.00" width="4.06" height="3.12" fill="#b40000"/><rect x="497.56" y="199.00" width="4.06" height="3.12" fill="#7d0000"/><rect x="501.61" y="199.00" width="4.06" height="3.12" fill="#b40000"/></g></g><polygon points="493.50,203.70 631.40,184.10 631.4,211.5 493.5,211.5" fill="#f2a4c1" stroke="none"/><polyline points="493.50,203.70 631.40,184.10" fill="none" stroke="#222" stroke-width="0.8"/><rect x="493.5" y="133.9" width="137.89999999999998" height="77.6" fill="none" stroke="#8a8a8a" stroke-width="0.9"/><line x1="517.3" y1="131.9" x2="517.3" y2="135.4" stroke="#444" stroke-width="0.9"/><line x1="517.3" y1="210.0" x2="517.3" y2="213.5" stroke="#444" stroke-width="0.9"/><line x1="556.7" y1="131.9" x2="556.7" y2="135.4" stroke="#444" stroke-width="0.9"/><line x1="556.7" y1="210.0" x2="556.7" y2="213.5" stroke="#444" stroke-width="0.9"/><line x1="595.4" y1="131.9" x2="595.4" y2="135.4" stroke="#444" stroke-width="0.9"/><line x1="595.4" y1="210.0" x2="595.4" y2="213.5" stroke="#444" stroke-width="0.9"/><line x1="491.5" y1="152.7" x2="495.0" y2="152.7" stroke="#444" stroke-width="0.9"/><line x1="629.9" y1="152.7" x2="633.4" y2="152.7" stroke="#444" stroke-width="0.9"/><line x1="491.5" y1="173.4" x2="495.0" y2="173.4" stroke="#444" stroke-width="0.9"/><line x1="629.9" y1="173.4" x2="633.4" y2="173.4" stroke="#444" stroke-width="0.9"/><line x1="491.5" y1="194.0" x2="495.0" y2="194.0" stroke="#444" stroke-width="0.9"/><line x1="629.9" y1="194.0" x2="633.4" y2="194.0" stroke="#444" stroke-width="0.9"/><text transform="translate(515.00,231.50) scale(1,1.02)" font-size="15" text-anchor="middle" >250</text><text transform="translate(558.00,231.50) scale(1,1.02)" font-size="15" text-anchor="middle" >265</text><text transform="translate(600.30,231.50) scale(1,1.02)" font-size="15" text-anchor="middle" >280</text><text transform="translate(487.20,158.70) scale(1,1.02)" font-size="15" text-anchor="end" >40</text><text transform="translate(487.20,179.80) scale(1,1.02)" font-size="15" text-anchor="end" >30</text><text transform="translate(487.20,201.20) scale(1,1.02)" font-size="15" text-anchor="end" >20</text><linearGradient id="cb5" x1="0" y1="0" x2="0" y2="1"><stop offset="0" stop-color="#7a0000"/><stop offset="0.06" stop-color="#b00000"/><stop offset="0.14" stop-color="#f50a0a"/><stop offset="0.2" stop-color="#ff3a3a"/><stop offset="0.35" stop-color="#f7b4b4"/><stop offset="0.5" stop-color="#ffffff"/><stop offset="0.66" stop-color="#b4b4f8"/><stop offset="0.8" stop-color="#3434ff"/><stop offset="0.9" stop-color="#0e00f0"/><stop offset="1" stop-color="#1a00d0"/></linearGradient><rect x="637.2" y="133.8" width="10.899999999999977" height="77.69999999999999" fill="url(#cb5)" stroke="#8a8a8a" stroke-width="0.8"/><text transform="translate(654.10,153.40) scale(1,1.02)" font-size="13.4" text-anchor="start" >0.01</text><text transform="translate(654.10,176.30) scale(1,1.02)" font-size="13.4" text-anchor="start" >0</text><text transform="translate(654.10,199.40) scale(1,1.02)" font-size="13.4" text-anchor="start" >-0.01</text><clipPath id="lc79"><rect x="79.5" y="285.3" width="147.0" height="235.09999999999997"/></clipPath><path clip-path="url(#lc79)" d="M79.20,485.80 L126.10,485.80 L128.00,479.10 L129.00,479.26 L130.00,479.75 L131.00,480.53 L132.00,481.57 L133.00,482.81 L134.00,484.19 L135.00,485.65 L136.00,487.11 L137.00,488.49 L138.00,489.73 L139.00,490.77 L140.00,491.55 L141.00,492.04 L142.00,492.20 L143.00,492.13 L144.00,491.93 L145.00,491.61 L146.00,491.16 L147.00,490.60 L148.00,489.94 L149.00,489.20 L150.00,488.39 L151.00,487.54 L152.00,486.65 L153.00,485.75 L154.00,484.86 L155.00,484.01 L156.00,483.20 L157.00,482.46 L158.00,481.80 L159.00,481.24 L160.00,480.79 L161.00,480.47 L162.00,480.27 L163.00,480.20 L164.00,480.26 L165.00,480.44 L166.00,480.73 L167.00,481.14 L168.00,481.64 L169.00,482.23 L170.00,482.90 L171.00,483.63 L172.00,484.40 L173.00,485.20 L174.00,486.00 L175.00,486.80 L176.00,487.57 L177.00,488.30 L178.00,488.97 L179.00,489.56 L180.00,490.06 L181.00,490.47 L182.00,490.76 L183.00,490.94 L184.00,491.00 L185.04,490.90 L186.07,490.61 L187.11,490.14 L188.15,489.51 L189.19,488.73 L190.22,487.85 L191.26,486.89 L192.30,485.90 L193.34,484.91 L194.38,483.95 L195.41,483.07 L196.45,482.29 L197.49,481.66 L198.53,481.19 L199.56,480.90 L200.60,480.80 L201.65,480.85 L202.69,481.01 L203.74,481.28 L204.79,481.63 L205.84,482.07 L206.88,482.59 L207.93,483.16 L208.98,483.78 L210.03,484.42 L211.07,485.08 L212.12,485.72 L213.17,486.34 L214.22,486.91 L215.26,487.43 L216.31,487.87 L217.36,488.22 L218.41,488.49 L219.45,488.65 L220.50,488.70 L221.50,488.69 L222.50,488.65 L223.50,488.60 L224.50,488.55 L225.50,488.51 L226.50,488.50" fill="none" stroke="#b84cf2" stroke-width="1.4" stroke-linejoin="round"/><circle cx="84.40" cy="485.80" r="3.5" fill="none" stroke="#c46ef8" stroke-width="0.9"/><circle cx="90.32" cy="485.80" r="3.5" fill="none" stroke="#c46ef8" stroke-width="0.9"/><circle cx="96.24" cy="485.80" r="3.5" fill="none" stroke="#c46ef8" stroke-width="0.9"/><circle cx="102.16" cy="485.80" r="3.5" fill="none" stroke="#c46ef8" stroke-width="0.9"/><circle cx="108.08" cy="485.80" r="3.5" fill="none" stroke="#c46ef8" stroke-width="0.9"/><circle cx="114.00" cy="485.80" r="3.5" fill="none" stroke="#c46ef8" stroke-width="0.9"/><circle cx="119.92" cy="485.80" r="3.5" fill="none" stroke="#c46ef8" stroke-width="0.9"/><circle cx="125.84" cy="486.20" r="3.5" fill="none" stroke="#c46ef8" stroke-width="0.9"/><circle cx="131.76" cy="484.50" r="3.5" fill="none" stroke="#c46ef8" stroke-width="0.9"/><circle cx="137.68" cy="494.10" r="3.5" fill="none" stroke="#c46ef8" stroke-width="0.9"/><circle cx="143.60" cy="489.20" r="3.5" fill="none" stroke="#c46ef8" stroke-width="0.9"/><circle cx="149.52" cy="489.20" r="3.5" fill="none" stroke="#c46ef8" stroke-width="0.9"/><circle cx="155.44" cy="482.30" r="3.5" fill="none" stroke="#c46ef8" stroke-width="0.9"/><circle cx="161.36" cy="478.50" r="3.5" fill="none" stroke="#c46ef8" stroke-width="0.9"/><circle cx="167.28" cy="479.70" r="3.5" fill="none" stroke="#c46ef8" stroke-width="0.9"/><circle cx="173.20" cy="490.90" r="3.5" fill="none" stroke="#c46ef8" stroke-width="0.9"/><circle cx="179.12" cy="488.70" r="3.5" fill="none" stroke="#c46ef8" stroke-width="0.9"/><circle cx="185.04" cy="493.80" r="3.5" fill="none" stroke="#c46ef8" stroke-width="0.9"/><circle cx="190.96" cy="483.60" r="3.5" fill="none" stroke="#c46ef8" stroke-width="0.9"/><circle cx="196.88" cy="477.40" r="3.5" fill="none" stroke="#c46ef8" stroke-width="0.9"/><circle cx="202.80" cy="480.80" r="3.5" fill="none" stroke="#c46ef8" stroke-width="0.9"/><circle cx="208.72" cy="487.70" r="3.5" fill="none" stroke="#c46ef8" stroke-width="0.9"/><circle cx="214.64" cy="486.80" r="3.5" fill="none" stroke="#c46ef8" stroke-width="0.9"/><circle cx="220.56" cy="492.60" r="3.5" fill="none" stroke="#c46ef8" stroke-width="0.9"/><circle cx="226.48" cy="488.10" r="3.5" fill="none" stroke="#c46ef8" stroke-width="0.9"/><path clip-path="url(#lc79)" d="M79.20,436.70 L123.50,436.70 L124.52,440.90 L125.54,444.69 L126.56,447.70 L127.58,449.63 L128.60,450.30 L129.65,450.12 L130.69,449.60 L131.74,448.75 L132.79,447.58 L133.84,446.14 L134.88,444.46 L135.93,442.58 L136.98,440.57 L138.03,438.47 L139.07,436.33 L140.12,434.23 L141.17,432.22 L142.22,430.34 L143.26,428.66 L144.31,427.22 L145.36,426.05 L146.41,425.20 L147.45,424.68 L148.50,424.50 L149.53,424.65 L150.55,425.11 L151.58,425.85 L152.61,426.86 L153.63,428.11 L154.66,429.57 L155.68,431.20 L156.71,432.95 L157.74,434.78 L158.76,436.62 L159.79,438.45 L160.82,440.20 L161.84,441.83 L162.87,443.29 L163.89,444.54 L164.92,445.55 L165.95,446.29 L166.97,446.75 L168.00,446.90 L169.03,446.78 L170.05,446.43 L171.07,445.85 L172.10,445.07 L173.12,444.09 L174.15,442.94 L175.18,441.66 L176.20,440.27 L177.22,438.80 L178.25,437.30 L179.28,435.80 L180.30,434.33 L181.32,432.94 L182.35,431.66 L183.38,430.51 L184.40,429.53 L185.43,428.75 L186.45,428.17 L187.47,427.82 L188.50,427.70 L189.53,427.82 L190.56,428.18 L191.58,428.77 L192.61,429.57 L193.64,430.56 L194.67,431.70 L195.69,432.96 L196.72,434.31 L197.75,435.70 L198.78,437.09 L199.81,438.44 L200.83,439.70 L201.86,440.84 L202.89,441.83 L203.92,442.63 L204.94,443.22 L205.97,443.58 L207.00,443.70 L208.03,443.62 L209.05,443.36 L210.08,442.95 L211.11,442.39 L212.13,441.70 L213.16,440.89 L214.18,439.99 L215.21,439.02 L216.24,438.01 L217.26,436.99 L218.29,435.98 L219.32,435.01 L220.34,434.11 L221.37,433.30 L222.39,432.61 L223.42,432.05 L224.45,431.64 L225.47,431.38 L226.50,431.30" fill="none" stroke="#4aa6f0" stroke-width="1.4" stroke-linejoin="round"/><circle cx="84.40" cy="436.70" r="3.5" fill="none" stroke="#6cbcf6" stroke-width="0.9"/><circle cx="90.32" cy="436.70" r="3.5" fill="none" stroke="#6cbcf6" stroke-width="0.9"/><circle cx="96.24" cy="436.70" r="3.5" fill="none" stroke="#6cbcf6" stroke-width="0.9"/><circle cx="102.16" cy="436.70" r="3.5" fill="none" stroke="#6cbcf6" stroke-width="0.9"/><circle cx="108.08" cy="436.70" r="3.5" fill="none" stroke="#6cbcf6" stroke-width="0.9"/><circle cx="114.00" cy="436.70" r="3.5" fill="none" stroke="#6cbcf6" stroke-width="0.9"/><circle cx="119.92" cy="436.70" r="3.5" fill="none" stroke="#6cbcf6" stroke-width="0.9"/><circle cx="125.84" cy="454.50" r="3.5" fill="none" stroke="#6cbcf6" stroke-width="0.9"/><circle cx="131.76" cy="443.10" r="3.5" fill="none" stroke="#6cbcf6" stroke-width="0.9"/><circle cx="137.68" cy="437.20" r="3.5" fill="none" stroke="#6cbcf6" stroke-width="0.9"/><circle cx="143.60" cy="413.60" r="3.5" fill="none" stroke="#6cbcf6" stroke-width="0.9"/><circle cx="149.52" cy="432.80" r="3.5" fill="none" stroke="#6cbcf6" stroke-width="0.9"/><circle cx="155.44" cy="432.80" r="3.5" fill="none" stroke="#6cbcf6" stroke-width="0.9"/><circle cx="161.36" cy="445.60" r="3.5" fill="none" stroke="#6cbcf6" stroke-width="0.9"/><circle cx="167.28" cy="448.20" r="3.5" fill="none" stroke="#6cbcf6" stroke-width="0.9"/><circle cx="173.20" cy="437.90" r="3.5" fill="none" stroke="#6cbcf6" stroke-width="0.9"/><circle cx="179.12" cy="430.90" r="3.5" fill="none" stroke="#6cbcf6" stroke-width="0.9"/><circle cx="185.04" cy="432.20" r="3.5" fill="none" stroke="#6cbcf6" stroke-width="0.9"/><circle cx="190.96" cy="429.20" r="3.5" fill="none" stroke="#6cbcf6" stroke-width="0.9"/><circle cx="196.88" cy="429.60" r="3.5" fill="none" stroke="#6cbcf6" stroke-width="0.9"/><circle cx="202.80" cy="446.90" r="3.5" fill="none" stroke="#6cbcf6" stroke-width="0.9"/><circle cx="208.72" cy="448.20" r="3.5" fill="none" stroke="#6cbcf6" stroke-width="0.9"/><circle cx="214.64" cy="430.90" r="3.5" fill="none" stroke="#6cbcf6" stroke-width="0.9"/><circle cx="220.56" cy="436.70" r="3.5" fill="none" stroke="#6cbcf6" stroke-width="0.9"/><circle cx="226.48" cy="429.20" r="3.5" fill="none" stroke="#6cbcf6" stroke-width="0.9"/><path clip-path="url(#lc79)" d="M79.20,387.30 L119.70,387.30 L120.70,390.44 L121.70,393.42 L122.70,396.09 L123.70,398.32 L124.70,400.00 L125.70,401.05 L126.70,401.40 L127.72,401.22 L128.73,400.69 L129.75,399.82 L130.76,398.63 L131.78,397.16 L132.79,395.44 L133.81,393.53 L134.83,391.48 L135.84,389.34 L136.86,387.16 L137.87,385.02 L138.89,382.97 L139.91,381.06 L140.92,379.34 L141.94,377.87 L142.95,376.68 L143.97,375.81 L144.98,375.28 L146.00,375.10 L147.04,375.28 L148.08,375.80 L149.12,376.65 L150.16,377.80 L151.19,379.23 L152.23,380.88 L153.27,382.70 L154.31,384.64 L155.35,386.65 L156.39,388.66 L157.43,390.60 L158.47,392.43 L159.51,394.07 L160.54,395.50 L161.58,396.65 L162.62,397.50 L163.66,398.02 L164.70,398.20 L165.75,398.06 L166.79,397.66 L167.84,397.00 L168.89,396.10 L169.94,394.99 L170.98,393.69 L172.03,392.25 L173.08,390.69 L174.13,389.07 L175.17,387.43 L176.22,385.81 L177.27,384.25 L178.32,382.81 L179.36,381.51 L180.41,380.40 L181.46,379.50 L182.51,378.84 L183.55,378.44 L184.60,378.30 L185.62,378.40 L186.65,378.69 L187.67,379.18 L188.70,379.84 L189.72,380.66 L190.75,381.62 L191.78,382.70 L192.80,383.86 L193.82,385.09 L194.85,386.35 L195.88,387.61 L196.90,388.84 L197.92,390.00 L198.95,391.08 L199.97,392.04 L201.00,392.86 L202.03,393.52 L203.05,394.01 L204.07,394.30 L205.10,394.40 L206.12,394.32 L207.13,394.07 L208.15,393.66 L209.16,393.11 L210.18,392.43 L211.19,391.64 L212.21,390.75 L213.23,389.80 L214.24,388.80 L215.26,387.80 L216.27,386.80 L217.29,385.85 L218.31,384.96 L219.32,384.17 L220.34,383.49 L221.35,382.94 L222.37,382.53 L223.38,382.28 L224.40,382.20 L226.50,382.30" fill="none" stroke="#62e222" stroke-width="1.4" stroke-linejoin="round"/><circle cx="84.40" cy="387.30" r="3.5" fill="none" stroke="#7eee3e" stroke-width="0.9"/><circle cx="90.32" cy="387.30" r="3.5" fill="none" stroke="#7eee3e" stroke-width="0.9"/><circle cx="96.24" cy="387.30" r="3.5" fill="none" stroke="#7eee3e" stroke-width="0.9"/><circle cx="102.16" cy="387.30" r="3.5" fill="none" stroke="#7eee3e" stroke-width="0.9"/><circle cx="108.08" cy="387.30" r="3.5" fill="none" stroke="#7eee3e" stroke-width="0.9"/><circle cx="114.00" cy="387.30" r="3.5" fill="none" stroke="#7eee3e" stroke-width="0.9"/><circle cx="119.92" cy="387.30" r="3.5" fill="none" stroke="#7eee3e" stroke-width="0.9"/><circle cx="125.84" cy="396.90" r="3.5" fill="none" stroke="#7eee3e" stroke-width="0.9"/><circle cx="131.76" cy="387.70" r="3.5" fill="none" stroke="#7eee3e" stroke-width="0.9"/><circle cx="137.68" cy="375.80" r="3.5" fill="none" stroke="#7eee3e" stroke-width="0.9"/><circle cx="143.60" cy="382.20" r="3.5" fill="none" stroke="#7eee3e" stroke-width="0.9"/><circle cx="149.52" cy="380.90" r="3.5" fill="none" stroke="#7eee3e" stroke-width="0.9"/><circle cx="155.44" cy="388.00" r="3.5" fill="none" stroke="#7eee3e" stroke-width="0.9"/><circle cx="161.36" cy="398.00" r="3.5" fill="none" stroke="#7eee3e" stroke-width="0.9"/><circle cx="167.28" cy="389.00" r="3.5" fill="none" stroke="#7eee3e" stroke-width="0.9"/><circle cx="173.20" cy="401.80" r="3.5" fill="none" stroke="#7eee3e" stroke-width="0.9"/><circle cx="179.12" cy="378.30" r="3.5" fill="none" stroke="#7eee3e" stroke-width="0.9"/><circle cx="185.04" cy="374.90" r="3.5" fill="none" stroke="#7eee3e" stroke-width="0.9"/><circle cx="190.96" cy="382.20" r="3.5" fill="none" stroke="#7eee3e" stroke-width="0.9"/><circle cx="196.88" cy="389.20" r="3.5" fill="none" stroke="#7eee3e" stroke-width="0.9"/><circle cx="202.80" cy="394.40" r="3.5" fill="none" stroke="#7eee3e" stroke-width="0.9"/><circle cx="208.72" cy="393.70" r="3.5" fill="none" stroke="#7eee3e" stroke-width="0.9"/><circle cx="214.64" cy="393.30" r="3.5" fill="none" stroke="#7eee3e" stroke-width="0.9"/><circle cx="220.56" cy="386.00" r="3.5" fill="none" stroke="#7eee3e" stroke-width="0.9"/><circle cx="226.48" cy="380.00" r="3.5" fill="none" stroke="#7eee3e" stroke-width="0.9"/><path clip-path="url(#lc79)" d="M79.20,338.50 L112.00,338.50 L113.07,343.17 L114.13,347.70 L115.20,351.95 L116.27,355.79 L117.33,359.11 L118.40,361.80 L119.47,363.78 L120.53,364.99 L121.60,365.40 L122.65,365.06 L123.69,364.05 L124.74,362.39 L125.79,360.13 L126.84,357.33 L127.88,354.07 L128.93,350.44 L129.98,346.54 L131.03,342.46 L132.07,338.34 L133.12,334.26 L134.17,330.36 L135.22,326.73 L136.26,323.47 L137.31,320.67 L138.36,318.41 L139.41,316.75 L140.45,315.74 L141.50,315.40 L142.54,315.69 L143.58,316.56 L144.63,317.99 L145.67,319.92 L146.71,322.32 L147.75,325.12 L148.79,328.23 L149.84,331.58 L150.88,335.08 L151.92,338.62 L152.96,342.12 L154.01,345.47 L155.05,348.58 L156.09,351.38 L157.13,353.78 L158.17,355.71 L159.22,357.14 L160.26,358.01 L161.30,358.30 L162.31,358.01 L163.32,357.16 L164.33,355.77 L165.34,353.88 L166.36,351.55 L167.37,348.85 L168.38,345.86 L169.39,342.68 L170.40,339.40 L171.41,336.12 L172.42,332.94 L173.43,329.95 L174.44,327.25 L175.46,324.92 L176.47,323.03 L177.48,321.64 L178.49,320.79 L179.50,320.50 L180.53,320.74 L181.56,321.45 L182.58,322.61 L183.61,324.18 L184.64,326.13 L185.67,328.38 L186.69,330.86 L187.72,333.52 L188.75,336.25 L189.78,338.98 L190.81,341.64 L191.83,344.12 L192.86,346.37 L193.89,348.32 L194.92,349.89 L195.94,351.05 L196.97,351.76 L198.00,352.00 L199.04,351.81 L200.08,351.26 L201.12,350.37 L202.16,349.15 L203.19,347.64 L204.23,345.90 L205.27,343.97 L206.31,341.92 L207.35,339.80 L208.39,337.68 L209.43,335.63 L210.47,333.70 L211.51,331.96 L212.54,330.45 L213.58,329.23 L214.62,328.34 L215.66,327.79 L216.70,327.60 L217.72,327.92 L218.74,328.77 L219.76,329.83 L220.78,330.68 L221.80,331.00 L222.98,330.85 L224.15,330.50 L225.32,330.15 L226.50,330.00" fill="none" stroke="#f0622e" stroke-width="1.4" stroke-linejoin="round"/><circle cx="84.40" cy="338.50" r="3.5" fill="none" stroke="#f24848" stroke-width="0.9"/><circle cx="90.32" cy="338.50" r="3.5" fill="none" stroke="#f24848" stroke-width="0.9"/><circle cx="96.24" cy="338.50" r="3.5" fill="none" stroke="#f24848" stroke-width="0.9"/><circle cx="102.16" cy="338.50" r="3.5" fill="none" stroke="#f24848" stroke-width="0.9"/><circle cx="108.08" cy="338.50" r="3.5" fill="none" stroke="#f24848" stroke-width="0.9"/><circle cx="114.00" cy="352.60" r="3.5" fill="none" stroke="#f24848" stroke-width="0.9"/><circle cx="119.92" cy="370.80" r="3.5" fill="none" stroke="#f24848" stroke-width="0.9"/><circle cx="125.84" cy="357.40" r="3.5" fill="none" stroke="#f24848" stroke-width="0.9"/><circle cx="131.76" cy="328.20" r="3.5" fill="none" stroke="#f24848" stroke-width="0.9"/><circle cx="137.68" cy="318.60" r="3.5" fill="none" stroke="#f24848" stroke-width="0.9"/><circle cx="143.60" cy="316.70" r="3.5" fill="none" stroke="#f24848" stroke-width="0.9"/><circle cx="149.52" cy="343.60" r="3.5" fill="none" stroke="#f24848" stroke-width="0.9"/><circle cx="155.44" cy="348.70" r="3.5" fill="none" stroke="#f24848" stroke-width="0.9"/><circle cx="161.36" cy="356.40" r="3.5" fill="none" stroke="#f24848" stroke-width="0.9"/><circle cx="167.28" cy="347.20" r="3.5" fill="none" stroke="#f24848" stroke-width="0.9"/><circle cx="173.20" cy="326.90" r="3.5" fill="none" stroke="#f24848" stroke-width="0.9"/><circle cx="179.12" cy="317.00" r="3.5" fill="none" stroke="#f24848" stroke-width="0.9"/><circle cx="185.04" cy="328.00" r="3.5" fill="none" stroke="#f24848" stroke-width="0.9"/><circle cx="190.96" cy="344.20" r="3.5" fill="none" stroke="#f24848" stroke-width="0.9"/><circle cx="196.88" cy="351.50" r="3.5" fill="none" stroke="#f24848" stroke-width="0.9"/><circle cx="202.80" cy="347.20" r="3.5" fill="none" stroke="#f24848" stroke-width="0.9"/><circle cx="208.72" cy="344.60" r="3.5" fill="none" stroke="#f24848" stroke-width="0.9"/><circle cx="214.64" cy="328.80" r="3.5" fill="none" stroke="#f24848" stroke-width="0.9"/><circle cx="220.56" cy="330.80" r="3.5" fill="none" stroke="#f24848" stroke-width="0.9"/><circle cx="226.48" cy="330.10" r="3.5" fill="none" stroke="#f24848" stroke-width="0.9"/><rect x="79.5" y="285.3" width="147.0" height="235.09999999999997" fill="none" stroke="#9a9a9a" stroke-width="1"/><line x1="112.5" y1="283.1" x2="112.5" y2="287.5" stroke="#777" stroke-width="0.8"/><line x1="112.5" y1="518.1999999999999" x2="112.5" y2="522.6" stroke="#777" stroke-width="0.8"/><line x1="151.4" y1="283.1" x2="151.4" y2="287.5" stroke="#777" stroke-width="0.8"/><line x1="151.4" y1="518.1999999999999" x2="151.4" y2="522.6" stroke="#777" stroke-width="0.8"/><line x1="190.8" y1="283.1" x2="190.8" y2="287.5" stroke="#777" stroke-width="0.8"/><line x1="190.8" y1="518.1999999999999" x2="190.8" y2="522.6" stroke="#777" stroke-width="0.8"/><line x1="77.1" y1="289.5" x2="81.9" y2="289.5" stroke="#777" stroke-width="0.8"/><line x1="224.1" y1="289.5" x2="228.9" y2="289.5" stroke="#777" stroke-width="0.8"/><line x1="77.1" y1="328.8" x2="81.9" y2="328.8" stroke="#777" stroke-width="0.8"/><line x1="224.1" y1="328.8" x2="228.9" y2="328.8" stroke="#777" stroke-width="0.8"/><line x1="77.1" y1="368.1" x2="81.9" y2="368.1" stroke="#777" stroke-width="0.8"/><line x1="224.1" y1="368.1" x2="228.9" y2="368.1" stroke="#777" stroke-width="0.8"/><line x1="77.1" y1="407.4" x2="81.9" y2="407.4" stroke="#777" stroke-width="0.8"/><line x1="224.1" y1="407.4" x2="228.9" y2="407.4" stroke="#777" stroke-width="0.8"/><line x1="77.1" y1="446.7" x2="81.9" y2="446.7" stroke="#777" stroke-width="0.8"/><line x1="224.1" y1="446.7" x2="228.9" y2="446.7" stroke="#777" stroke-width="0.8"/><line x1="77.1" y1="486.0" x2="81.9" y2="486.0" stroke="#777" stroke-width="0.8"/><line x1="224.1" y1="486.0" x2="228.9" y2="486.0" stroke="#777" stroke-width="0.8"/><text transform="translate(45.50,295.00) scale(1,1.02)" font-size="15" text-anchor="start" >0.1</text><text transform="translate(45.50,334.20) scale(1,1.02)" font-size="15" text-anchor="start" >0.08</text><text transform="translate(45.50,373.70) scale(1,1.02)" font-size="15" text-anchor="start" >0.06</text><text transform="translate(45.50,413.10) scale(1,1.02)" font-size="15" text-anchor="start" >0.04</text><text transform="translate(45.50,451.70) scale(1,1.02)" font-size="15" text-anchor="start" >0.02</text><text transform="translate(45.50,490.90) scale(1,1.02)" font-size="15" text-anchor="start" >0</text><text transform="translate(113.10,539.20) scale(1,1.02)" font-size="15" text-anchor="middle" >20</text><text transform="translate(151.50,539.20) scale(1,1.02)" font-size="15" text-anchor="middle" >30</text><text transform="translate(189.10,539.20) scale(1,1.02)" font-size="15" text-anchor="middle" >40</text><text transform="translate(152.00,556.80) scale(1,1.02)" font-size="15.5" text-anchor="middle" >Delay [fs]</text><clipPath id="lc276"><rect x="276" y="284.4" width="147.5" height="235.89999999999998"/></clipPath><path clip-path="url(#lc276)" d="M276.00,466.00 L285.60,466.00 L286.90,446.80 L287.94,447.61 L288.98,449.98 L290.02,453.78 L291.05,458.79 L292.09,464.71 L293.13,471.21 L294.17,477.89 L295.21,484.39 L296.25,490.31 L297.28,495.32 L298.32,499.12 L299.36,501.49 L300.40,502.30 L301.41,501.86 L302.42,500.55 L303.43,498.41 L304.44,495.50 L305.45,491.89 L306.46,487.69 L307.47,483.00 L308.48,477.97 L309.49,472.71 L310.51,467.39 L311.52,462.13 L312.53,457.10 L313.54,452.41 L314.55,448.21 L315.56,444.60 L316.57,441.69 L317.58,439.55 L318.59,438.24 L319.60,437.80 L320.65,438.18 L321.69,439.30 L322.74,441.14 L323.79,443.65 L324.84,446.76 L325.88,450.37 L326.93,454.40 L327.98,458.74 L329.03,463.26 L330.07,467.84 L331.12,472.36 L332.17,476.70 L333.22,480.73 L334.26,484.34 L335.31,487.45 L336.36,489.96 L337.41,491.80 L338.45,492.92 L339.50,493.30 L340.53,492.97 L341.55,492.00 L342.58,490.41 L343.61,488.24 L344.63,485.55 L345.66,482.43 L346.68,478.94 L347.71,475.19 L348.74,471.28 L349.76,467.32 L350.79,463.41 L351.82,459.66 L352.84,456.17 L353.87,453.05 L354.89,450.36 L355.92,448.19 L356.95,446.60 L357.97,445.63 L359.00,445.30 L360.04,445.56 L361.08,446.34 L362.13,447.61 L363.17,449.35 L364.21,451.50 L365.25,454.00 L366.29,456.79 L367.34,459.79 L368.38,462.91 L369.42,466.09 L370.46,469.21 L371.51,472.21 L372.55,475.00 L373.59,477.50 L374.63,479.65 L375.67,481.39 L376.72,482.66 L377.76,483.44 L378.80,483.70 L379.85,483.49 L380.89,482.85 L381.94,481.81 L382.99,480.39 L384.04,478.63 L385.08,476.59 L386.13,474.31 L387.18,471.85 L388.23,469.30 L389.27,466.70 L390.32,464.15 L391.37,461.69 L392.42,459.41 L393.46,457.37 L394.51,455.61 L395.56,454.19 L396.61,453.15 L397.65,452.51 L398.70,452.30 L399.71,452.44 L400.73,452.87 L401.75,453.56 L402.76,454.52 L403.77,455.70 L404.79,457.08 L405.81,458.63 L406.82,460.32 L407.83,462.09 L408.85,463.90 L409.87,465.71 L410.88,467.48 L411.89,469.17 L412.91,470.72 L413.93,472.10 L414.94,473.28 L415.95,474.24 L416.97,474.93 L417.99,475.36 L419.00,475.50 L420.12,475.21 L421.25,474.50 L422.38,473.79 L423.50,473.50" fill="none" stroke="#b84cf2" stroke-width="1.4" stroke-linejoin="round"/><circle cx="276.70" cy="466.00" r="3.5" fill="none" stroke="#c46ef8" stroke-width="0.9"/><circle cx="282.62" cy="466.70" r="3.5" fill="none" stroke="#c46ef8" stroke-width="0.9"/><circle cx="288.54" cy="454.90" r="3.5" fill="none" stroke="#c46ef8" stroke-width="0.9"/><circle cx="294.46" cy="476.70" r="3.5" fill="none" stroke="#c46ef8" stroke-width="0.9"/><circle cx="300.38" cy="491.00" r="3.5" fill="none" stroke="#c46ef8" stroke-width="0.9"/><circle cx="306.30" cy="484.90" r="3.5" fill="none" stroke="#c46ef8" stroke-width="0.9"/><circle cx="312.22" cy="465.50" r="3.5" fill="none" stroke="#c46ef8" stroke-width="0.9"/><circle cx="318.14" cy="441.00" r="3.5" fill="none" stroke="#c46ef8" stroke-width="0.9"/><circle cx="324.06" cy="445.50" r="3.5" fill="none" stroke="#c46ef8" stroke-width="0.9"/><circle cx="329.98" cy="460.90" r="3.5" fill="none" stroke="#c46ef8" stroke-width="0.9"/><circle cx="335.90" cy="478.50" r="3.5" fill="none" stroke="#c46ef8" stroke-width="0.9"/><circle cx="341.82" cy="485.30" r="3.5" fill="none" stroke="#c46ef8" stroke-width="0.9"/><circle cx="347.74" cy="480.00" r="3.5" fill="none" stroke="#c46ef8" stroke-width="0.9"/><circle cx="353.66" cy="460.80" r="3.5" fill="none" stroke="#c46ef8" stroke-width="0.9"/><circle cx="359.58" cy="450.40" r="3.5" fill="none" stroke="#c46ef8" stroke-width="0.9"/><circle cx="365.50" cy="455.50" r="3.5" fill="none" stroke="#c46ef8" stroke-width="0.9"/><circle cx="371.42" cy="462.30" r="3.5" fill="none" stroke="#c46ef8" stroke-width="0.9"/><circle cx="377.34" cy="479.20" r="3.5" fill="none" stroke="#c46ef8" stroke-width="0.9"/><circle cx="383.26" cy="477.90" r="3.5" fill="none" stroke="#c46ef8" stroke-width="0.9"/><circle cx="389.18" cy="469.60" r="3.5" fill="none" stroke="#c46ef8" stroke-width="0.9"/><circle cx="395.10" cy="454.90" r="3.5" fill="none" stroke="#c46ef8" stroke-width="0.9"/><circle cx="401.02" cy="454.90" r="3.5" fill="none" stroke="#c46ef8" stroke-width="0.9"/><circle cx="406.94" cy="462.30" r="3.5" fill="none" stroke="#c46ef8" stroke-width="0.9"/><circle cx="412.86" cy="470.00" r="3.5" fill="none" stroke="#c46ef8" stroke-width="0.9"/><circle cx="418.78" cy="472.80" r="3.5" fill="none" stroke="#c46ef8" stroke-width="0.9"/><path clip-path="url(#lc276)" d="M276.00,426.90 L292.00,426.90 L293.00,405.10 L294.00,405.48 L295.00,406.62 L296.00,408.46 L297.00,410.96 L298.00,414.02 L299.00,417.54 L300.00,421.41 L301.00,425.48 L302.00,429.62 L303.00,433.69 L304.00,437.56 L305.00,441.08 L306.00,444.14 L307.00,446.64 L308.00,448.48 L309.00,449.62 L310.00,450.00 L311.01,449.71 L312.02,448.86 L313.03,447.47 L314.04,445.57 L315.05,443.22 L316.06,440.49 L317.07,437.44 L318.08,434.16 L319.09,430.73 L320.11,427.27 L321.12,423.84 L322.13,420.56 L323.14,417.51 L324.15,414.78 L325.16,412.43 L326.17,410.53 L327.18,409.14 L328.19,408.29 L329.20,408.00 L330.21,408.24 L331.22,408.96 L332.23,410.15 L333.24,411.75 L334.25,413.74 L335.26,416.06 L336.27,418.65 L337.28,421.43 L338.29,424.33 L339.31,427.27 L340.32,430.17 L341.33,432.95 L342.34,435.54 L343.35,437.86 L344.36,439.85 L345.37,441.45 L346.38,442.64 L347.39,443.36 L348.40,443.60 L349.43,443.39 L350.46,442.78 L351.49,441.77 L352.53,440.41 L353.56,438.71 L354.59,436.74 L355.62,434.54 L356.65,432.17 L357.68,429.70 L358.72,427.20 L359.75,424.73 L360.78,422.36 L361.81,420.16 L362.84,418.19 L363.87,416.49 L364.91,415.13 L365.94,414.12 L366.97,413.51 L368.00,413.30 L369.01,413.47 L370.02,413.97 L371.03,414.79 L372.04,415.90 L373.05,417.29 L374.06,418.90 L375.07,420.69 L376.08,422.62 L377.09,424.63 L378.11,426.67 L379.12,428.68 L380.13,430.61 L381.14,432.40 L382.15,434.01 L383.16,435.40 L384.17,436.51 L385.18,437.33 L386.19,437.83 L387.20,438.00 L388.23,437.85 L389.27,437.41 L390.30,436.68 L391.33,435.70 L392.37,434.48 L393.40,433.07 L394.43,431.52 L395.47,429.86 L396.50,428.15 L397.53,426.44 L398.57,424.78 L399.60,423.23 L400.63,421.82 L401.67,420.60 L402.70,419.62 L403.73,418.89 L404.77,418.45 L405.80,418.30 L406.84,418.43 L407.87,418.81 L408.91,419.43 L409.95,420.27 L410.98,421.32 L412.02,422.54 L413.06,423.89 L414.09,425.35 L415.13,426.88 L416.17,428.42 L417.21,429.95 L418.24,431.41 L419.28,432.76 L420.32,433.98 L421.35,435.03 L422.39,435.87 L423.43,436.49 L424.46,436.87 L425.50,437.00" fill="none" stroke="#4aa6f0" stroke-width="1.4" stroke-linejoin="round"/><circle cx="276.70" cy="426.90" r="3.5" fill="none" stroke="#6cbcf6" stroke-width="0.9"/><circle cx="282.62" cy="426.90" r="3.5" fill="none" stroke="#6cbcf6" stroke-width="0.9"/><circle cx="288.54" cy="426.90" r="3.5" fill="none" stroke="#6cbcf6" stroke-width="0.9"/><circle cx="294.46" cy="401.00" r="3.5" fill="none" stroke="#6cbcf6" stroke-width="0.9"/><circle cx="300.38" cy="430.80" r="3.5" fill="none" stroke="#6cbcf6" stroke-width="0.9"/><circle cx="306.30" cy="447.70" r="3.5" fill="none" stroke="#6cbcf6" stroke-width="0.9"/><circle cx="312.22" cy="453.20" r="3.5" fill="none" stroke="#6cbcf6" stroke-width="0.9"/><circle cx="318.14" cy="434.40" r="3.5" fill="none" stroke="#6cbcf6" stroke-width="0.9"/><circle cx="324.06" cy="414.10" r="3.5" fill="none" stroke="#6cbcf6" stroke-width="0.9"/><circle cx="329.98" cy="401.90" r="3.5" fill="none" stroke="#6cbcf6" stroke-width="0.9"/><circle cx="335.90" cy="410.50" r="3.5" fill="none" stroke="#6cbcf6" stroke-width="0.9"/><circle cx="341.82" cy="432.10" r="3.5" fill="none" stroke="#6cbcf6" stroke-width="0.9"/><circle cx="347.74" cy="448.60" r="3.5" fill="none" stroke="#6cbcf6" stroke-width="0.9"/><circle cx="353.66" cy="446.00" r="3.5" fill="none" stroke="#6cbcf6" stroke-width="0.9"/><circle cx="359.58" cy="428.60" r="3.5" fill="none" stroke="#6cbcf6" stroke-width="0.9"/><circle cx="365.50" cy="410.80" r="3.5" fill="none" stroke="#6cbcf6" stroke-width="0.9"/><circle cx="371.42" cy="406.40" r="3.5" fill="none" stroke="#6cbcf6" stroke-width="0.9"/><circle cx="377.34" cy="422.90" r="3.5" fill="none" stroke="#6cbcf6" stroke-width="0.9"/><circle cx="383.26" cy="432.80" r="3.5" fill="none" stroke="#6cbcf6" stroke-width="0.9"/><circle cx="389.18" cy="442.00" r="3.5" fill="none" stroke="#6cbcf6" stroke-width="0.9"/><circle cx="395.10" cy="433.30" r="3.5" fill="none" stroke="#6cbcf6" stroke-width="0.9"/><circle cx="401.02" cy="423.80" r="3.5" fill="none" stroke="#6cbcf6" stroke-width="0.9"/><circle cx="406.94" cy="415.40" r="3.5" fill="none" stroke="#6cbcf6" stroke-width="0.9"/><circle cx="412.86" cy="420.70" r="3.5" fill="none" stroke="#6cbcf6" stroke-width="0.9"/><circle cx="418.78" cy="424.20" r="3.5" fill="none" stroke="#6cbcf6" stroke-width="0.9"/><path clip-path="url(#lc276)" d="M276.00,387.40 L295.20,387.40 L298.40,370.10 L299.45,370.33 L300.49,371.01 L301.54,372.12 L302.59,373.64 L303.64,375.52 L304.68,377.71 L305.73,380.15 L306.78,382.78 L307.83,385.51 L308.87,388.29 L309.92,391.02 L310.97,393.65 L312.02,396.09 L313.06,398.28 L314.11,400.16 L315.16,401.68 L316.21,402.79 L317.25,403.47 L318.30,403.70 L319.31,403.49 L320.32,402.88 L321.33,401.87 L322.34,400.49 L323.35,398.79 L324.36,396.81 L325.37,394.61 L326.38,392.23 L327.39,389.76 L328.41,387.24 L329.42,384.77 L330.43,382.39 L331.44,380.19 L332.45,378.21 L333.46,376.51 L334.47,375.13 L335.48,374.12 L336.49,373.51 L337.50,373.30 L338.52,373.46 L339.54,373.95 L340.56,374.76 L341.58,375.85 L342.60,377.21 L343.62,378.80 L344.64,380.59 L345.66,382.52 L346.68,384.56 L347.70,386.65 L348.72,388.74 L349.74,390.78 L350.76,392.71 L351.78,394.50 L352.80,396.09 L353.82,397.45 L354.84,398.54 L355.86,399.35 L356.88,399.84 L357.90,400.00 L358.90,399.84 L359.90,399.37 L360.90,398.61 L361.90,397.56 L362.90,396.27 L363.90,394.77 L364.90,393.09 L365.90,391.29 L366.90,389.40 L367.90,387.50 L368.90,385.61 L369.90,383.81 L370.90,382.13 L371.90,380.63 L372.90,379.34 L373.90,378.29 L374.90,377.53 L375.90,377.06 L376.90,376.90 L377.93,377.05 L378.97,377.48 L380.00,378.19 L381.03,379.16 L382.07,380.35 L383.10,381.72 L384.13,383.25 L385.17,384.87 L386.20,386.55 L387.23,388.23 L388.27,389.85 L389.30,391.38 L390.33,392.75 L391.37,393.94 L392.40,394.91 L393.43,395.62 L394.47,396.05 L395.50,396.20 L396.51,396.11 L397.52,395.85 L398.53,395.42 L399.54,394.83 L400.55,394.09 L401.56,393.23 L402.57,392.25 L403.58,391.19 L404.59,390.06 L405.60,388.89 L406.60,387.71 L407.61,386.54 L408.62,385.41 L409.63,384.35 L410.64,383.37 L411.65,382.51 L412.66,381.77 L413.67,381.18 L414.68,380.75 L415.69,380.49 L416.70,380.40 L417.83,380.64 L418.97,381.30 L420.10,382.20 L421.23,383.10 L422.37,383.76 L423.50,384.00" fill="none" stroke="#62e222" stroke-width="1.4" stroke-linejoin="round"/><circle cx="276.70" cy="387.40" r="3.5" fill="none" stroke="#7eee3e" stroke-width="0.9"/><circle cx="282.62" cy="387.40" r="3.5" fill="none" stroke="#7eee3e" stroke-width="0.9"/><circle cx="288.54" cy="387.40" r="3.5" fill="none" stroke="#7eee3e" stroke-width="0.9"/><circle cx="294.46" cy="387.40" r="3.5" fill="none" stroke="#7eee3e" stroke-width="0.9"/><circle cx="300.38" cy="356.40" r="3.5" fill="none" stroke="#7eee3e" stroke-width="0.9"/><circle cx="306.30" cy="376.30" r="3.5" fill="none" stroke="#7eee3e" stroke-width="0.9"/><circle cx="312.22" cy="401.50" r="3.5" fill="none" stroke="#7eee3e" stroke-width="0.9"/><circle cx="318.14" cy="410.50" r="3.5" fill="none" stroke="#7eee3e" stroke-width="0.9"/><circle cx="324.06" cy="402.60" r="3.5" fill="none" stroke="#7eee3e" stroke-width="0.9"/><circle cx="329.98" cy="384.20" r="3.5" fill="none" stroke="#7eee3e" stroke-width="0.9"/><circle cx="335.90" cy="369.20" r="3.5" fill="none" stroke="#7eee3e" stroke-width="0.9"/><circle cx="341.82" cy="365.00" r="3.5" fill="none" stroke="#7eee3e" stroke-width="0.9"/><circle cx="347.74" cy="388.80" r="3.5" fill="none" stroke="#7eee3e" stroke-width="0.9"/><circle cx="353.66" cy="399.50" r="3.5" fill="none" stroke="#7eee3e" stroke-width="0.9"/><circle cx="359.58" cy="403.80" r="3.5" fill="none" stroke="#7eee3e" stroke-width="0.9"/><circle cx="365.50" cy="395.50" r="3.5" fill="none" stroke="#7eee3e" stroke-width="0.9"/><circle cx="371.42" cy="376.30" r="3.5" fill="none" stroke="#7eee3e" stroke-width="0.9"/><circle cx="377.34" cy="376.30" r="3.5" fill="none" stroke="#7eee3e" stroke-width="0.9"/><circle cx="383.26" cy="376.90" r="3.5" fill="none" stroke="#7eee3e" stroke-width="0.9"/><circle cx="389.18" cy="394.20" r="3.5" fill="none" stroke="#7eee3e" stroke-width="0.9"/><circle cx="395.10" cy="397.70" r="3.5" fill="none" stroke="#7eee3e" stroke-width="0.9"/><circle cx="401.02" cy="394.20" r="3.5" fill="none" stroke="#7eee3e" stroke-width="0.9"/><circle cx="406.94" cy="388.50" r="3.5" fill="none" stroke="#7eee3e" stroke-width="0.9"/><circle cx="412.86" cy="377.60" r="3.5" fill="none" stroke="#7eee3e" stroke-width="0.9"/><circle cx="418.78" cy="382.10" r="3.5" fill="none" stroke="#7eee3e" stroke-width="0.9"/><path clip-path="url(#lc276)" d="M276.00,347.80 L301.00,347.80 L303.20,302.20 L304.21,302.83 L305.22,304.70 L306.23,307.76 L307.24,311.93 L308.25,317.09 L309.26,323.11 L310.27,329.81 L311.28,337.02 L312.29,344.54 L313.31,352.16 L314.32,359.68 L315.33,366.89 L316.34,373.59 L317.35,379.61 L318.36,384.77 L319.37,388.94 L320.38,392.00 L321.39,393.87 L322.40,394.50 L323.43,393.94 L324.45,392.28 L325.48,389.55 L326.51,385.84 L327.53,381.25 L328.56,375.90 L329.58,369.94 L330.61,363.53 L331.64,356.84 L332.66,350.06 L333.69,343.37 L334.72,336.96 L335.74,331.00 L336.77,325.65 L337.79,321.06 L338.82,317.35 L339.85,314.62 L340.87,312.96 L341.90,312.40 L342.91,312.86 L343.91,314.24 L344.92,316.50 L345.92,319.58 L346.93,323.39 L347.93,327.83 L348.94,332.77 L349.94,338.09 L350.95,343.64 L351.95,349.26 L352.96,354.81 L353.96,360.13 L354.97,365.07 L355.97,369.51 L356.98,373.32 L357.98,376.40 L358.99,378.66 L359.99,380.04 L361.00,380.50 L362.04,380.11 L363.08,378.93 L364.13,377.02 L365.17,374.41 L366.21,371.17 L367.25,367.41 L368.29,363.21 L369.34,358.69 L370.38,353.99 L371.42,349.21 L372.46,344.51 L373.51,339.99 L374.55,335.79 L375.59,332.03 L376.63,328.79 L377.67,326.18 L378.72,324.27 L379.76,323.09 L380.80,322.70 L381.84,323.01 L382.87,323.94 L383.91,325.46 L384.95,327.53 L385.98,330.09 L387.02,333.07 L388.06,336.40 L389.09,339.98 L390.13,343.71 L391.17,347.49 L392.21,351.22 L393.24,354.80 L394.28,358.13 L395.32,361.11 L396.35,363.67 L397.39,365.74 L398.43,367.26 L399.46,368.19 L400.50,368.50 L401.54,368.23 L402.58,367.41 L403.62,366.08 L404.66,364.27 L405.69,362.03 L406.73,359.45 L407.77,356.59 L408.81,353.54 L409.85,350.40 L410.89,347.26 L411.93,344.21 L412.97,341.35 L414.01,338.77 L415.04,336.53 L416.08,334.72 L417.12,333.39 L418.16,332.57 L419.20,332.30 L420.27,332.70 L421.35,333.65 L422.43,334.60 L423.50,335.00" fill="none" stroke="#f0622e" stroke-width="1.4" stroke-linejoin="round"/><circle cx="276.70" cy="347.80" r="3.5" fill="none" stroke="#f24848" stroke-width="0.9"/><circle cx="282.62" cy="347.80" r="3.5" fill="none" stroke="#f24848" stroke-width="0.9"/><circle cx="288.54" cy="347.80" r="3.5" fill="none" stroke="#f24848" stroke-width="0.9"/><circle cx="294.46" cy="347.80" r="3.5" fill="none" stroke="#f24848" stroke-width="0.9"/><circle cx="300.38" cy="347.80" r="3.5" fill="none" stroke="#f24848" stroke-width="0.9"/><circle cx="306.30" cy="311.80" r="3.5" fill="none" stroke="#f24848" stroke-width="0.9"/><circle cx="312.22" cy="357.00" r="3.5" fill="none" stroke="#f24848" stroke-width="0.9"/><circle cx="318.14" cy="383.60" r="3.5" fill="none" stroke="#f24848" stroke-width="0.9"/><circle cx="324.06" cy="381.70" r="3.5" fill="none" stroke="#f24848" stroke-width="0.9"/><circle cx="329.98" cy="356.20" r="3.5" fill="none" stroke="#f24848" stroke-width="0.9"/><circle cx="335.90" cy="329.70" r="3.5" fill="none" stroke="#f24848" stroke-width="0.9"/><circle cx="341.82" cy="310.90" r="3.5" fill="none" stroke="#f24848" stroke-width="0.9"/><circle cx="347.74" cy="330.00" r="3.5" fill="none" stroke="#f24848" stroke-width="0.9"/><circle cx="353.66" cy="357.60" r="3.5" fill="none" stroke="#f24848" stroke-width="0.9"/><circle cx="359.58" cy="376.10" r="3.5" fill="none" stroke="#f24848" stroke-width="0.9"/><circle cx="365.50" cy="366.70" r="3.5" fill="none" stroke="#f24848" stroke-width="0.9"/><circle cx="371.42" cy="348.40" r="3.5" fill="none" stroke="#f24848" stroke-width="0.9"/><circle cx="377.34" cy="333.60" r="3.5" fill="none" stroke="#f24848" stroke-width="0.9"/><circle cx="383.26" cy="326.20" r="3.5" fill="none" stroke="#f24848" stroke-width="0.9"/><circle cx="389.18" cy="343.20" r="3.5" fill="none" stroke="#f24848" stroke-width="0.9"/><circle cx="395.10" cy="356.90" r="3.5" fill="none" stroke="#f24848" stroke-width="0.9"/><circle cx="401.02" cy="363.70" r="3.5" fill="none" stroke="#f24848" stroke-width="0.9"/><circle cx="406.94" cy="354.40" r="3.5" fill="none" stroke="#f24848" stroke-width="0.9"/><circle cx="412.86" cy="342.60" r="3.5" fill="none" stroke="#f24848" stroke-width="0.9"/><circle cx="418.78" cy="337.40" r="3.5" fill="none" stroke="#f24848" stroke-width="0.9"/><rect x="276" y="284.4" width="147.5" height="235.89999999999998" fill="none" stroke="#9a9a9a" stroke-width="1"/><line x1="310.6" y1="282.2" x2="310.6" y2="286.59999999999997" stroke="#777" stroke-width="0.8"/><line x1="310.6" y1="518.0999999999999" x2="310.6" y2="522.5" stroke="#777" stroke-width="0.8"/><line x1="350.1" y1="282.2" x2="350.1" y2="286.59999999999997" stroke="#777" stroke-width="0.8"/><line x1="350.1" y1="518.0999999999999" x2="350.1" y2="522.5" stroke="#777" stroke-width="0.8"/><line x1="389.6" y1="282.2" x2="389.6" y2="286.59999999999997" stroke="#777" stroke-width="0.8"/><line x1="389.6" y1="518.0999999999999" x2="389.6" y2="522.5" stroke="#777" stroke-width="0.8"/><line x1="273.6" y1="308.5" x2="278.4" y2="308.5" stroke="#777" stroke-width="0.8"/><line x1="421.1" y1="308.5" x2="425.9" y2="308.5" stroke="#777" stroke-width="0.8"/><line x1="273.6" y1="340" x2="278.4" y2="340" stroke="#777" stroke-width="0.8"/><line x1="421.1" y1="340" x2="425.9" y2="340" stroke="#777" stroke-width="0.8"/><line x1="273.6" y1="371.5" x2="278.4" y2="371.5" stroke="#777" stroke-width="0.8"/><line x1="421.1" y1="371.5" x2="425.9" y2="371.5" stroke="#777" stroke-width="0.8"/><line x1="273.6" y1="403" x2="278.4" y2="403" stroke="#777" stroke-width="0.8"/><line x1="421.1" y1="403" x2="425.9" y2="403" stroke="#777" stroke-width="0.8"/><line x1="273.6" y1="434.5" x2="278.4" y2="434.5" stroke="#777" stroke-width="0.8"/><line x1="421.1" y1="434.5" x2="425.9" y2="434.5" stroke="#777" stroke-width="0.8"/><line x1="273.6" y1="466" x2="278.4" y2="466" stroke="#777" stroke-width="0.8"/><line x1="421.1" y1="466" x2="425.9" y2="466" stroke="#777" stroke-width="0.8"/><line x1="273.6" y1="497.6" x2="278.4" y2="497.6" stroke="#777" stroke-width="0.8"/><line x1="421.1" y1="497.6" x2="425.9" y2="497.6" stroke="#777" stroke-width="0.8"/><text transform="translate(237.50,313.20) scale(1,1.02)" font-size="15" text-anchor="start" >0.2</text><text transform="translate(237.50,345.80) scale(1,1.02)" font-size="15" text-anchor="start" >0.16</text><text transform="translate(237.50,377.40) scale(1,1.02)" font-size="15" text-anchor="start" >0.12</text><text transform="translate(237.50,408.40) scale(1,1.02)" font-size="15" text-anchor="start" >0.08</text><text transform="translate(237.50,440.10) scale(1,1.02)" font-size="15" text-anchor="start" >0.04</text><text transform="translate(237.50,470.90) scale(1,1.02)" font-size="15" text-anchor="start" >0</text><text transform="translate(237.50,503.20) scale(1,1.02)" font-size="15" text-anchor="start" >-0.04</text><text transform="translate(313.60,539.20) scale(1,1.02)" font-size="15" text-anchor="middle" >20</text><text transform="translate(351.70,539.20) scale(1,1.02)" font-size="15" text-anchor="middle" >30</text><text transform="translate(389.40,539.20) scale(1,1.02)" font-size="15" text-anchor="middle" >40</text><text transform="translate(347.70,556.80) scale(1,1.02)" font-size="15.5" text-anchor="middle" >Delay [fs]</text><clipPath id="lc467"><rect x="467.4" y="285" width="147.30000000000007" height="234.39999999999998"/></clipPath><path clip-path="url(#lc467)" d="M467.40,463.30 L488.30,463.30 L491.50,434.70 L492.55,435.08 L493.59,436.20 L494.64,438.03 L495.69,440.52 L496.74,443.61 L497.78,447.20 L498.83,451.21 L499.88,455.52 L500.93,460.02 L501.97,464.58 L503.02,469.08 L504.07,473.39 L505.12,477.40 L506.16,480.99 L507.21,484.08 L508.26,486.57 L509.31,488.40 L510.35,489.52 L511.40,489.90 L512.41,489.57 L513.42,488.58 L514.43,486.97 L515.44,484.77 L516.45,482.04 L517.46,478.87 L518.47,475.33 L519.48,471.53 L520.49,467.56 L521.51,463.54 L522.52,459.57 L523.53,455.77 L524.54,452.23 L525.55,449.06 L526.56,446.33 L527.57,444.13 L528.58,442.52 L529.59,441.53 L530.60,441.20 L531.62,441.48 L532.64,442.32 L533.66,443.69 L534.68,445.56 L535.71,447.88 L536.73,450.58 L537.75,453.58 L538.77,456.82 L539.79,460.19 L540.81,463.61 L541.83,466.98 L542.85,470.22 L543.87,473.22 L544.89,475.92 L545.92,478.24 L546.94,480.11 L547.96,481.48 L548.98,482.32 L550.00,482.60 L551.03,482.36 L552.05,481.65 L553.08,480.49 L554.11,478.91 L555.13,476.95 L556.16,474.67 L557.18,472.13 L558.21,469.40 L559.24,466.55 L560.26,463.65 L561.29,460.80 L562.32,458.07 L563.34,455.53 L564.37,453.25 L565.39,451.29 L566.42,449.71 L567.45,448.55 L568.47,447.84 L569.50,447.60 L570.55,447.79 L571.59,448.36 L572.64,449.30 L573.69,450.57 L574.74,452.15 L575.78,453.99 L576.83,456.04 L577.88,458.24 L578.93,460.54 L579.97,462.86 L581.02,465.16 L582.07,467.36 L583.12,469.41 L584.16,471.25 L585.21,472.83 L586.26,474.10 L587.31,475.04 L588.35,475.61 L589.40,475.80 L590.44,475.65 L591.48,475.19 L592.53,474.44 L593.57,473.43 L594.61,472.17 L595.65,470.70 L596.69,469.07 L597.74,467.31 L598.78,465.48 L599.82,463.62 L600.86,461.79 L601.91,460.03 L602.95,458.40 L603.99,456.93 L605.03,455.67 L606.07,454.66 L607.12,453.91 L608.16,453.45 L609.20,453.30 L610.30,453.67 L611.40,454.65 L612.50,455.85 L613.60,456.83 L614.70,457.20" fill="none" stroke="#b84cf2" stroke-width="1.4" stroke-linejoin="round"/><circle cx="467.10" cy="463.30" r="3.5" fill="none" stroke="#c46ef8" stroke-width="0.9"/><circle cx="473.02" cy="463.30" r="3.5" fill="none" stroke="#c46ef8" stroke-width="0.9"/><circle cx="478.94" cy="463.30" r="3.5" fill="none" stroke="#c46ef8" stroke-width="0.9"/><circle cx="484.86" cy="463.30" r="3.5" fill="none" stroke="#c46ef8" stroke-width="0.9"/><circle cx="490.78" cy="444.40" r="3.5" fill="none" stroke="#c46ef8" stroke-width="0.9"/><circle cx="496.70" cy="450.50" r="3.5" fill="none" stroke="#c46ef8" stroke-width="0.9"/><circle cx="502.62" cy="472.60" r="3.5" fill="none" stroke="#c46ef8" stroke-width="0.9"/><circle cx="508.54" cy="503.00" r="3.5" fill="none" stroke="#c46ef8" stroke-width="0.9"/><circle cx="514.46" cy="488.20" r="3.5" fill="none" stroke="#c46ef8" stroke-width="0.9"/><circle cx="520.38" cy="459.10" r="3.5" fill="none" stroke="#c46ef8" stroke-width="0.9"/><circle cx="526.30" cy="432.80" r="3.5" fill="none" stroke="#c46ef8" stroke-width="0.9"/><circle cx="532.22" cy="438.00" r="3.5" fill="none" stroke="#c46ef8" stroke-width="0.9"/><circle cx="538.14" cy="446.30" r="3.5" fill="none" stroke="#c46ef8" stroke-width="0.9"/><circle cx="544.06" cy="472.60" r="3.5" fill="none" stroke="#c46ef8" stroke-width="0.9"/><circle cx="549.98" cy="484.70" r="3.5" fill="none" stroke="#c46ef8" stroke-width="0.9"/><circle cx="555.90" cy="470.60" r="3.5" fill="none" stroke="#c46ef8" stroke-width="0.9"/><circle cx="561.82" cy="452.30" r="3.5" fill="none" stroke="#c46ef8" stroke-width="0.9"/><circle cx="567.74" cy="454.00" r="3.5" fill="none" stroke="#c46ef8" stroke-width="0.9"/><circle cx="573.66" cy="456.90" r="3.5" fill="none" stroke="#c46ef8" stroke-width="0.9"/><circle cx="579.58" cy="462.30" r="3.5" fill="none" stroke="#c46ef8" stroke-width="0.9"/><circle cx="585.50" cy="473.60" r="3.5" fill="none" stroke="#c46ef8" stroke-width="0.9"/><circle cx="591.42" cy="473.60" r="3.5" fill="none" stroke="#c46ef8" stroke-width="0.9"/><circle cx="597.34" cy="472.80" r="3.5" fill="none" stroke="#c46ef8" stroke-width="0.9"/><circle cx="603.26" cy="462.90" r="3.5" fill="none" stroke="#c46ef8" stroke-width="0.9"/><circle cx="609.18" cy="454.00" r="3.5" fill="none" stroke="#c46ef8" stroke-width="0.9"/><circle cx="615.10" cy="454.60" r="3.5" fill="none" stroke="#c46ef8" stroke-width="0.9"/><path clip-path="url(#lc467)" d="M467.40,421.80 L496.60,421.80 L498.80,401.80 L499.81,402.26 L500.81,403.63 L501.82,405.84 L502.83,408.80 L503.83,412.38 L504.84,416.41 L505.85,420.74 L506.85,425.16 L507.86,429.49 L508.87,433.53 L509.87,437.10 L510.88,440.06 L511.89,442.27 L512.89,443.64 L513.90,444.10 L514.95,443.82 L515.99,442.97 L517.04,441.59 L518.09,439.70 L519.14,437.37 L520.18,434.65 L521.23,431.63 L522.28,428.37 L523.33,424.97 L524.37,421.53 L525.42,418.13 L526.47,414.87 L527.52,411.85 L528.56,409.13 L529.61,406.80 L530.66,404.91 L531.71,403.53 L532.75,402.68 L533.80,402.40 L534.82,402.66 L535.84,403.43 L536.87,404.68 L537.89,406.39 L538.91,408.49 L539.93,410.92 L540.96,413.62 L541.98,416.49 L543.00,419.45 L544.02,422.41 L545.04,425.28 L546.07,427.97 L547.09,430.41 L548.11,432.51 L549.13,434.22 L550.16,435.47 L551.18,436.24 L552.20,436.50 L553.24,436.32 L554.28,435.77 L555.33,434.87 L556.37,433.65 L557.41,432.14 L558.45,430.38 L559.49,428.42 L560.54,426.31 L561.58,424.11 L562.62,421.89 L563.66,419.69 L564.71,417.58 L565.75,415.62 L566.79,413.86 L567.83,412.35 L568.87,411.13 L569.92,410.23 L570.96,409.68 L572.00,409.50 L573.03,409.65 L574.07,410.11 L575.10,410.85 L576.13,411.85 L577.17,413.09 L578.20,414.52 L579.23,416.11 L580.27,417.80 L581.30,419.55 L582.33,421.30 L583.37,422.99 L584.40,424.57 L585.43,426.01 L586.47,427.25 L587.50,428.25 L588.53,428.99 L589.57,429.45 L590.60,429.60 L591.62,429.51 L592.64,429.25 L593.65,428.83 L594.67,428.24 L595.69,427.51 L596.71,426.65 L597.73,425.67 L598.75,424.60 L599.76,423.46 L600.78,422.27 L601.80,421.05 L602.82,419.83 L603.84,418.64 L604.85,417.50 L605.87,416.43 L606.89,415.45 L607.91,414.59 L608.93,413.86 L609.95,413.27 L610.96,412.85 L611.98,412.59 L613.00,412.50 L614.70,412.60" fill="none" stroke="#4aa6f0" stroke-width="1.4" stroke-linejoin="round"/><circle cx="467.10" cy="421.80" r="3.5" fill="none" stroke="#6cbcf6" stroke-width="0.9"/><circle cx="473.02" cy="421.80" r="3.5" fill="none" stroke="#6cbcf6" stroke-width="0.9"/><circle cx="478.94" cy="421.80" r="3.5" fill="none" stroke="#6cbcf6" stroke-width="0.9"/><circle cx="484.86" cy="421.80" r="3.5" fill="none" stroke="#6cbcf6" stroke-width="0.9"/><circle cx="490.78" cy="421.80" r="3.5" fill="none" stroke="#6cbcf6" stroke-width="0.9"/><circle cx="496.70" cy="421.80" r="3.5" fill="none" stroke="#6cbcf6" stroke-width="0.9"/><circle cx="502.62" cy="422.70" r="3.5" fill="none" stroke="#6cbcf6" stroke-width="0.9"/><circle cx="508.54" cy="448.20" r="3.5" fill="none" stroke="#6cbcf6" stroke-width="0.9"/><circle cx="514.46" cy="441.80" r="3.5" fill="none" stroke="#6cbcf6" stroke-width="0.9"/><circle cx="520.38" cy="429.00" r="3.5" fill="none" stroke="#6cbcf6" stroke-width="0.9"/><circle cx="526.30" cy="408.20" r="3.5" fill="none" stroke="#6cbcf6" stroke-width="0.9"/><circle cx="532.22" cy="402.40" r="3.5" fill="none" stroke="#6cbcf6" stroke-width="0.9"/><circle cx="538.14" cy="404.40" r="3.5" fill="none" stroke="#6cbcf6" stroke-width="0.9"/><circle cx="544.06" cy="423.10" r="3.5" fill="none" stroke="#6cbcf6" stroke-width="0.9"/><circle cx="549.98" cy="441.50" r="3.5" fill="none" stroke="#6cbcf6" stroke-width="0.9"/><circle cx="555.90" cy="433.40" r="3.5" fill="none" stroke="#6cbcf6" stroke-width="0.9"/><circle cx="561.82" cy="424.90" r="3.5" fill="none" stroke="#6cbcf6" stroke-width="0.9"/><circle cx="567.74" cy="411.40" r="3.5" fill="none" stroke="#6cbcf6" stroke-width="0.9"/><circle cx="573.66" cy="405.60" r="3.5" fill="none" stroke="#6cbcf6" stroke-width="0.9"/><circle cx="579.58" cy="415.30" r="3.5" fill="none" stroke="#6cbcf6" stroke-width="0.9"/><circle cx="585.50" cy="425.10" r="3.5" fill="none" stroke="#6cbcf6" stroke-width="0.9"/><circle cx="591.42" cy="431.90" r="3.5" fill="none" stroke="#6cbcf6" stroke-width="0.9"/><circle cx="597.34" cy="428.20" r="3.5" fill="none" stroke="#6cbcf6" stroke-width="0.9"/><circle cx="603.26" cy="421.90" r="3.5" fill="none" stroke="#6cbcf6" stroke-width="0.9"/><circle cx="609.18" cy="417.80" r="3.5" fill="none" stroke="#6cbcf6" stroke-width="0.9"/><circle cx="615.10" cy="411.20" r="3.5" fill="none" stroke="#6cbcf6" stroke-width="0.9"/><path clip-path="url(#lc467)" d="M467.40,379.10 L506.20,379.10 L507.29,381.24 L508.38,383.33 L509.47,385.32 L510.56,387.15 L511.65,388.79 L512.74,390.18 L513.83,391.31 L514.92,392.13 L516.01,392.63 L517.10,392.80 L518.10,392.61 L519.10,392.03 L520.10,391.09 L521.10,389.81 L522.10,388.23 L523.10,386.40 L524.10,384.38 L525.10,382.22 L526.10,380.00 L527.10,377.78 L528.10,375.62 L529.10,373.60 L530.10,371.77 L531.10,370.19 L532.10,368.91 L533.10,367.97 L534.10,367.39 L535.10,367.20 L536.14,367.34 L537.19,367.75 L538.24,368.42 L539.28,369.34 L540.33,370.48 L541.37,371.82 L542.41,373.32 L543.46,374.94 L544.50,376.65 L545.55,378.40 L546.60,380.15 L547.64,381.86 L548.69,383.48 L549.73,384.98 L550.77,386.32 L551.82,387.46 L552.87,388.38 L553.91,389.05 L554.96,389.46 L556.00,389.60 L557.02,389.47 L558.03,389.09 L559.05,388.46 L560.06,387.60 L561.08,386.53 L562.09,385.30 L563.11,383.92 L564.13,382.43 L565.14,380.88 L566.16,379.32 L567.17,377.77 L568.19,376.28 L569.21,374.90 L570.22,373.67 L571.24,372.60 L572.25,371.74 L573.27,371.11 L574.28,370.73 L575.30,370.60 L576.32,370.73 L577.34,371.13 L578.35,371.78 L579.37,372.66 L580.39,373.74 L581.41,374.98 L582.42,376.34 L583.44,377.77 L584.46,379.23 L585.48,380.66 L586.49,382.02 L587.51,383.26 L588.53,384.34 L589.55,385.22 L590.56,385.87 L591.58,386.27 L592.60,386.40 L593.62,386.31 L594.64,386.06 L595.66,385.64 L596.68,385.07 L597.70,384.36 L598.72,383.54 L599.74,382.61 L600.76,381.60 L601.78,380.54 L602.80,379.45 L603.82,378.36 L604.84,377.30 L605.86,376.29 L606.88,375.36 L607.90,374.54 L608.92,373.83 L609.94,373.26 L610.96,372.84 L611.98,372.59 L613.00,372.50 L614.70,372.60" fill="none" stroke="#62e222" stroke-width="1.4" stroke-linejoin="round"/><circle cx="467.10" cy="379.10" r="3.5" fill="none" stroke="#7eee3e" stroke-width="0.9"/><circle cx="473.02" cy="379.10" r="3.5" fill="none" stroke="#7eee3e" stroke-width="0.9"/><circle cx="478.94" cy="379.10" r="3.5" fill="none" stroke="#7eee3e" stroke-width="0.9"/><circle cx="484.86" cy="379.10" r="3.5" fill="none" stroke="#7eee3e" stroke-width="0.9"/><circle cx="490.78" cy="379.10" r="3.5" fill="none" stroke="#7eee3e" stroke-width="0.9"/><circle cx="496.70" cy="379.10" r="3.5" fill="none" stroke="#7eee3e" stroke-width="0.9"/><circle cx="502.62" cy="379.10" r="3.5" fill="none" stroke="#7eee3e" stroke-width="0.9"/><circle cx="508.54" cy="390.60" r="3.5" fill="none" stroke="#7eee3e" stroke-width="0.9"/><circle cx="514.46" cy="385.80" r="3.5" fill="none" stroke="#7eee3e" stroke-width="0.9"/><circle cx="520.38" cy="383.50" r="3.5" fill="none" stroke="#7eee3e" stroke-width="0.9"/><circle cx="526.30" cy="377.40" r="3.5" fill="none" stroke="#7eee3e" stroke-width="0.9"/><circle cx="532.22" cy="369.10" r="3.5" fill="none" stroke="#7eee3e" stroke-width="0.9"/><circle cx="538.14" cy="371.70" r="3.5" fill="none" stroke="#7eee3e" stroke-width="0.9"/><circle cx="544.06" cy="378.10" r="3.5" fill="none" stroke="#7eee3e" stroke-width="0.9"/><circle cx="549.98" cy="385.50" r="3.5" fill="none" stroke="#7eee3e" stroke-width="0.9"/><circle cx="555.90" cy="386.40" r="3.5" fill="none" stroke="#7eee3e" stroke-width="0.9"/><circle cx="561.82" cy="383.80" r="3.5" fill="none" stroke="#7eee3e" stroke-width="0.9"/><circle cx="567.74" cy="377.40" r="3.5" fill="none" stroke="#7eee3e" stroke-width="0.9"/><circle cx="573.66" cy="369.70" r="3.5" fill="none" stroke="#7eee3e" stroke-width="0.9"/><circle cx="579.58" cy="377.80" r="3.5" fill="none" stroke="#7eee3e" stroke-width="0.9"/><circle cx="585.50" cy="378.30" r="3.5" fill="none" stroke="#7eee3e" stroke-width="0.9"/><circle cx="591.42" cy="385.80" r="3.5" fill="none" stroke="#7eee3e" stroke-width="0.9"/><circle cx="597.34" cy="378.10" r="3.5" fill="none" stroke="#7eee3e" stroke-width="0.9"/><circle cx="603.26" cy="381.30" r="3.5" fill="none" stroke="#7eee3e" stroke-width="0.9"/><circle cx="609.18" cy="379.40" r="3.5" fill="none" stroke="#7eee3e" stroke-width="0.9"/><circle cx="615.10" cy="375.80" r="3.5" fill="none" stroke="#7eee3e" stroke-width="0.9"/><path clip-path="url(#lc467)" d="M467.40,337.30 L510.50,337.30 L512.40,315.80 L513.44,316.17 L514.47,317.27 L515.51,319.07 L516.54,321.49 L517.58,324.46 L518.61,327.88 L519.65,331.63 L520.68,335.59 L521.72,339.61 L522.75,343.57 L523.79,347.32 L524.82,350.74 L525.86,353.71 L526.89,356.13 L527.93,357.93 L528.96,359.03 L530.00,359.40 L531.00,359.12 L532.00,358.31 L533.00,356.97 L534.00,355.14 L535.00,352.88 L536.00,350.25 L537.00,347.31 L538.00,344.16 L539.00,340.87 L540.00,337.53 L541.00,334.24 L542.00,331.09 L543.00,328.15 L544.00,325.52 L545.00,323.26 L546.00,321.43 L547.00,320.09 L548.00,319.28 L549.00,319.00 L550.03,319.25 L551.07,320.00 L552.10,321.23 L553.13,322.90 L554.17,324.95 L555.20,327.32 L556.23,329.96 L557.27,332.76 L558.30,335.65 L559.33,338.54 L560.37,341.34 L561.40,343.98 L562.43,346.35 L563.47,348.40 L564.50,350.07 L565.53,351.30 L566.57,352.05 L567.60,352.30 L568.64,352.12 L569.68,351.58 L570.73,350.70 L571.77,349.51 L572.81,348.02 L573.85,346.30 L574.89,344.37 L575.94,342.30 L576.98,340.14 L578.02,337.96 L579.06,335.80 L580.11,333.73 L581.15,331.80 L582.19,330.08 L583.23,328.59 L584.27,327.40 L585.32,326.52 L586.36,325.98 L587.40,325.80 L588.43,325.92 L589.46,326.29 L590.49,326.90 L591.52,327.72 L592.55,328.74 L593.58,329.94 L594.61,331.29 L595.64,332.74 L596.67,334.28 L597.70,335.85 L598.73,337.42 L599.76,338.96 L600.79,340.41 L601.82,341.76 L602.85,342.96 L603.88,343.98 L604.91,344.80 L605.94,345.41 L606.97,345.78 L608.00,345.90 L609.12,345.77 L610.23,345.43 L611.35,344.95 L612.47,344.48 L613.58,344.13 L614.70,344.00" fill="none" stroke="#f0622e" stroke-width="1.4" stroke-linejoin="round"/><circle cx="467.10" cy="337.30" r="3.5" fill="none" stroke="#f24848" stroke-width="0.9"/><circle cx="473.02" cy="337.30" r="3.5" fill="none" stroke="#f24848" stroke-width="0.9"/><circle cx="478.94" cy="337.30" r="3.5" fill="none" stroke="#f24848" stroke-width="0.9"/><circle cx="484.86" cy="337.30" r="3.5" fill="none" stroke="#f24848" stroke-width="0.9"/><circle cx="490.78" cy="337.30" r="3.5" fill="none" stroke="#f24848" stroke-width="0.9"/><circle cx="496.70" cy="337.30" r="3.5" fill="none" stroke="#f24848" stroke-width="0.9"/><circle cx="502.62" cy="337.30" r="3.5" fill="none" stroke="#f24848" stroke-width="0.9"/><circle cx="508.54" cy="337.30" r="3.5" fill="none" stroke="#f24848" stroke-width="0.9"/><circle cx="514.46" cy="315.80" r="3.5" fill="none" stroke="#f24848" stroke-width="0.9"/><circle cx="520.38" cy="336.00" r="3.5" fill="none" stroke="#f24848" stroke-width="0.9"/><circle cx="526.30" cy="356.20" r="3.5" fill="none" stroke="#f24848" stroke-width="0.9"/><circle cx="532.22" cy="361.90" r="3.5" fill="none" stroke="#f24848" stroke-width="0.9"/><circle cx="538.14" cy="343.30" r="3.5" fill="none" stroke="#f24848" stroke-width="0.9"/><circle cx="544.06" cy="324.10" r="3.5" fill="none" stroke="#f24848" stroke-width="0.9"/><circle cx="549.98" cy="318.60" r="3.5" fill="none" stroke="#f24848" stroke-width="0.9"/><circle cx="555.90" cy="326.00" r="3.5" fill="none" stroke="#f24848" stroke-width="0.9"/><circle cx="561.82" cy="342.00" r="3.5" fill="none" stroke="#f24848" stroke-width="0.9"/><circle cx="567.74" cy="354.00" r="3.5" fill="none" stroke="#f24848" stroke-width="0.9"/><circle cx="573.66" cy="346.80" r="3.5" fill="none" stroke="#f24848" stroke-width="0.9"/><circle cx="579.58" cy="338.80" r="3.5" fill="none" stroke="#f24848" stroke-width="0.9"/><circle cx="585.50" cy="328.60" r="3.5" fill="none" stroke="#f24848" stroke-width="0.9"/><circle cx="591.42" cy="328.00" r="3.5" fill="none" stroke="#f24848" stroke-width="0.9"/><circle cx="597.34" cy="328.80" r="3.5" fill="none" stroke="#f24848" stroke-width="0.9"/><circle cx="603.26" cy="342.00" r="3.5" fill="none" stroke="#f24848" stroke-width="0.9"/><circle cx="609.18" cy="346.50" r="3.5" fill="none" stroke="#f24848" stroke-width="0.9"/><circle cx="615.10" cy="344.60" r="3.5" fill="none" stroke="#f24848" stroke-width="0.9"/><rect x="467.4" y="285" width="147.30000000000007" height="234.39999999999998" fill="none" stroke="#9a9a9a" stroke-width="1"/><line x1="500.5" y1="282.8" x2="500.5" y2="287.2" stroke="#777" stroke-width="0.8"/><line x1="500.5" y1="517.1999999999999" x2="500.5" y2="521.6" stroke="#777" stroke-width="0.8"/><line x1="540.2" y1="282.8" x2="540.2" y2="287.2" stroke="#777" stroke-width="0.8"/><line x1="540.2" y1="517.1999999999999" x2="540.2" y2="521.6" stroke="#777" stroke-width="0.8"/><line x1="579.8" y1="282.8" x2="579.8" y2="287.2" stroke="#777" stroke-width="0.8"/><line x1="579.8" y1="517.1999999999999" x2="579.8" y2="521.6" stroke="#777" stroke-width="0.8"/><line x1="465.0" y1="295.3" x2="469.79999999999995" y2="295.3" stroke="#777" stroke-width="0.8"/><line x1="612.3000000000001" y1="295.3" x2="617.1" y2="295.3" stroke="#777" stroke-width="0.8"/><line x1="465.0" y1="328.8" x2="469.79999999999995" y2="328.8" stroke="#777" stroke-width="0.8"/><line x1="612.3000000000001" y1="328.8" x2="617.1" y2="328.8" stroke="#777" stroke-width="0.8"/><line x1="465.0" y1="362.4" x2="469.79999999999995" y2="362.4" stroke="#777" stroke-width="0.8"/><line x1="612.3000000000001" y1="362.4" x2="617.1" y2="362.4" stroke="#777" stroke-width="0.8"/><line x1="465.0" y1="396" x2="469.79999999999995" y2="396" stroke="#777" stroke-width="0.8"/><line x1="612.3000000000001" y1="396" x2="617.1" y2="396" stroke="#777" stroke-width="0.8"/><line x1="465.0" y1="429.5" x2="469.79999999999995" y2="429.5" stroke="#777" stroke-width="0.8"/><line x1="612.3000000000001" y1="429.5" x2="617.1" y2="429.5" stroke="#777" stroke-width="0.8"/><line x1="465.0" y1="463" x2="469.79999999999995" y2="463" stroke="#777" stroke-width="0.8"/><line x1="612.3000000000001" y1="463" x2="617.1" y2="463" stroke="#777" stroke-width="0.8"/><line x1="465.0" y1="496.5" x2="469.79999999999995" y2="496.5" stroke="#777" stroke-width="0.8"/><line x1="612.3000000000001" y1="496.5" x2="617.1" y2="496.5" stroke="#777" stroke-width="0.8"/><text transform="translate(429.50,302.70) scale(1,1.02)" font-size="15" text-anchor="start" >0.1</text><text transform="translate(429.50,336.70) scale(1,1.02)" font-size="15" text-anchor="start" >0.08</text><text transform="translate(429.50,370.40) scale(1,1.02)" font-size="15" text-anchor="start" >0.06</text><text transform="translate(429.50,403.30) scale(1,1.02)" font-size="15" text-anchor="start" >0.04</text><text transform="translate(429.50,436.40) scale(1,1.02)" font-size="15" text-anchor="start" >0.02</text><text transform="translate(429.50,469.20) scale(1,1.02)" font-size="15" text-anchor="start" >0</text><text transform="translate(429.50,502.40) scale(1,1.02)" font-size="15" text-anchor="start" >-0.02</text><text transform="translate(504.20,539.20) scale(1,1.02)" font-size="15" text-anchor="middle" >20</text><text transform="translate(542.80,539.20) scale(1,1.02)" font-size="15" text-anchor="middle" >30</text><text transform="translate(580.60,539.20) scale(1,1.02)" font-size="15" text-anchor="middle" >40</text><text transform="translate(537.80,556.80) scale(1,1.02)" font-size="15.5" text-anchor="middle" >Delay [fs]</text><text transform="translate(12.70,13.20) scale(1,1.02)" font-size="15.5" text-anchor="start" >(a)</text><text transform="translate(234.60,13.20) scale(1,1.02)" font-size="15.5" text-anchor="start" >(b)</text><text transform="translate(459.20,13.20) scale(1,1.02)" font-size="15.5" text-anchor="start" >(c)</text><text transform="translate(12.30,129.20) scale(1,1.02)" font-size="15.5" text-anchor="start" >(d)</text><text transform="translate(234.80,129.80) scale(1,1.02)" font-size="15.5" text-anchor="start" >(e)</text><text transform="translate(460.90,129.20) scale(1,1.02)" font-size="15.5" text-anchor="start" >(f)</text><text transform="translate(32.60,273.40) scale(1,1.02)" font-size="15.5" text-anchor="start" >(g)</text><text transform="translate(234.60,273.20) scale(1,1.02)" font-size="15.5" text-anchor="start" >(h)</text><text transform="translate(432.00,272.60) scale(1,1.02)" font-size="15.5" text-anchor="start" >(i)</text><text transform="translate(119.30,15.30) scale(1,1.02)" font-size="15" text-anchor="middle" >C1</text><text transform="translate(342.40,15.30) scale(1,1.02)" font-size="15" text-anchor="middle" >C2</text><text transform="translate(561.90,15.30) scale(1,1.02)" font-size="15" text-anchor="middle" >C3</text><text transform="translate(12.3,65.9) rotate(-90) scale(1.045,1)" font-size="15" text-anchor="middle">Delay [fs]</text><text transform="translate(12.3,171.0) rotate(-90) scale(1.045,1)" font-size="15" text-anchor="middle">Delay [fs]</text><text transform="translate(26.8,388.9) rotate(-90) scale(1.05,1)" font-size="15" text-anchor="middle">ΔA [OD]</text><text transform="translate(123.50,253.00) scale(1,1.02)" font-size="15.8" text-anchor="middle" >λ [nm]</text><text transform="translate(347.00,253.00) scale(1,1.02)" font-size="15.8" text-anchor="middle" >λ [nm]</text><text transform="translate(568.90,253.00) scale(1,1.02)" font-size="15.8" text-anchor="middle" >λ [nm]</text><rect x="44.5" y="576.6" width="593.8" height="45.1" fill="#fff" stroke="#777" stroke-width="1"/><circle cx="61.4" cy="588.2" r="5.3" fill="none" stroke="#c46ef8" stroke-width="1.1"/><text class="lg" transform="translate(77.6,592.9) scale(1,1.02)" font-size="14.6" textLength="104" lengthAdjust="spacingAndGlyphs">Data at 250 nm</text><line x1="188.6" y1="588.2" x2="215.9" y2="588.2" stroke="#b84cf2" stroke-width="1.6"/><text class="lg" transform="translate(217.6,592.9) scale(1,1.02)" font-size="14.6" textLength="117.5" lengthAdjust="spacingAndGlyphs">Model at 250 nm</text><circle cx="354.9" cy="588.2" r="5.3" fill="none" stroke="#6cbcf6" stroke-width="1.1"/><text class="lg" transform="translate(370.5,592.9) scale(1,1.02)" font-size="14.6" textLength="105.5" lengthAdjust="spacingAndGlyphs">Data at 260 nm</text><line x1="482.3" y1="588.2" x2="509.6" y2="588.2" stroke="#4aa6f0" stroke-width="1.6"/><text class="lg" transform="translate(510.9,592.9) scale(1,1.02)" font-size="14.6" textLength="116.5" lengthAdjust="spacingAndGlyphs">Model at 260 nm</text><circle cx="61.4" cy="609.9" r="5.3" fill="none" stroke="#7eee3e" stroke-width="1.1"/><text class="lg" transform="translate(77.6,613.8) scale(1,1.02)" font-size="14.6" textLength="104" lengthAdjust="spacingAndGlyphs">Data at 270 nm</text><line x1="188.6" y1="609.9" x2="215.9" y2="609.9" stroke="#62e222" stroke-width="1.6"/><text class="lg" transform="translate(217.6,613.8) scale(1,1.02)" font-size="14.6" textLength="117.5" lengthAdjust="spacingAndGlyphs">Model at 270 nm</text><circle cx="354.9" cy="609.9" r="5.3" fill="none" stroke="#f24848" stroke-width="1.1"/><text class="lg" transform="translate(370.5,613.8) scale(1,1.02)" font-size="14.6" textLength="105.5" lengthAdjust="spacingAndGlyphs">Data at 280 nm</text><line x1="482.3" y1="609.9" x2="509.6" y2="609.9" stroke="#f0622e" stroke-width="1.6"/><text class="lg" transform="translate(510.9,613.8) scale(1,1.02)" font-size="14.6" textLength="117.5" lengthAdjust="spacingAndGlyphs">Model at 280 nm</text></svg>
</body></html>
